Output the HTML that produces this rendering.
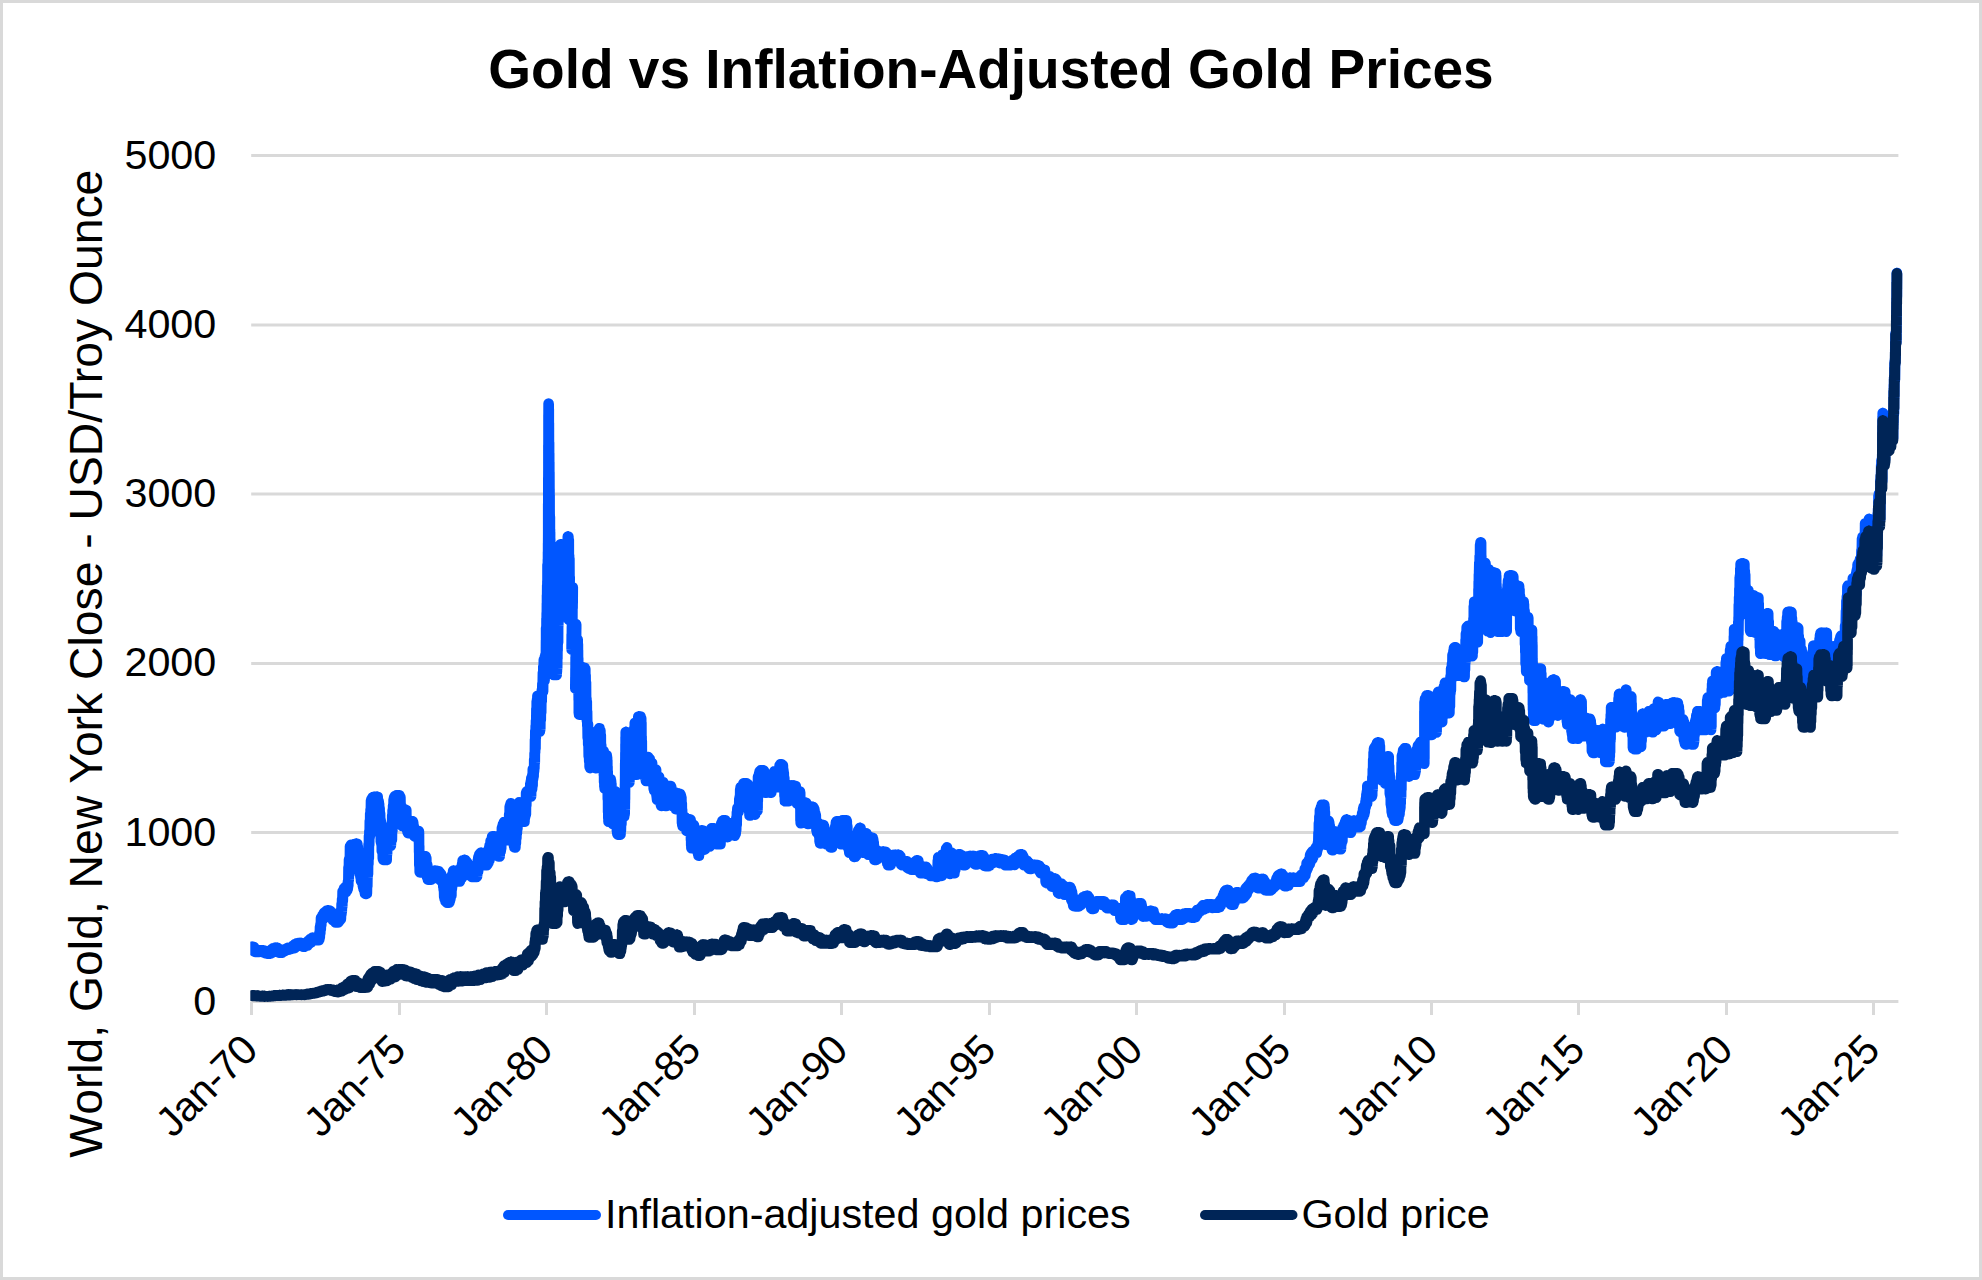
<!DOCTYPE html>
<html><head><meta charset="utf-8"><title>Gold vs Inflation-Adjusted Gold Prices</title>
<style>
html,body{margin:0;padding:0;background:#fff;}
svg{display:block;}
text{font-family:"Liberation Sans",sans-serif;fill:#000;}
</style></head><body>
<svg width="1982" height="1280" viewBox="0 0 1982 1280">
<rect x="0" y="0" width="1982" height="1280" fill="#fff"/>
<rect x="1.5" y="1.5" width="1979" height="1277" fill="none" stroke="#d9d9d9" stroke-width="3"/>
<text id="title" x="991" y="88" font-size="55" font-weight="bold" text-anchor="middle">Gold vs Inflation-Adjusted Gold Prices</text>
<g stroke="#d9d9d9" stroke-width="3" fill="none">
<line x1="251.2" y1="155.5" x2="1898.4" y2="155.5"/>
<line x1="251.2" y1="325" x2="1898.4" y2="325"/>
<line x1="251.2" y1="494" x2="1898.4" y2="494"/>
<line x1="251.2" y1="663.5" x2="1898.4" y2="663.5"/>
<line x1="251.2" y1="832.5" x2="1898.4" y2="832.5"/>
<line x1="251.2" y1="1001.5" x2="1898.4" y2="1001.5"/>
</g>
<g id="ylabels" font-size="41.3" text-anchor="end">
<text x="216.3" y="169.1">5000</text>
<text x="216.3" y="338.2">4000</text>
<text x="216.3" y="507.3">3000</text>
<text x="216.3" y="676.4">2000</text>
<text x="216.3" y="845.5">1000</text>
<text x="216.3" y="1014.6">0</text>
</g>
<text id="ytitle" font-size="46.3" text-anchor="middle" transform="translate(101.6,663.7) rotate(-90)">World, Gold, New York Close - USD/Troy Ounce</text>
<g stroke="#d9d9d9" stroke-width="3" fill="none" id="ticks">
<line x1="251.5" y1="1001.5" x2="251.5" y2="1015"/>
<line x1="399.5" y1="1001.5" x2="399.5" y2="1015"/>
<line x1="546.5" y1="1001.5" x2="546.5" y2="1015"/>
<line x1="694.5" y1="1001.5" x2="694.5" y2="1015"/>
<line x1="841.5" y1="1001.5" x2="841.5" y2="1015"/>
<line x1="989.5" y1="1001.5" x2="989.5" y2="1015"/>
<line x1="1136.5" y1="1001.5" x2="1136.5" y2="1015"/>
<line x1="1284.5" y1="1001.5" x2="1284.5" y2="1015"/>
<line x1="1431.5" y1="1001.5" x2="1431.5" y2="1015"/>
<line x1="1578.5" y1="1001.5" x2="1578.5" y2="1015"/>
<line x1="1726.5" y1="1001.5" x2="1726.5" y2="1015"/>
<line x1="1873.5" y1="1001.5" x2="1873.5" y2="1015"/>
</g>
<g id="xlabels" font-size="41.3" text-anchor="end">
<text textLength="123" transform="translate(260.0,1052) rotate(-45)">Jan-70</text>
<text textLength="123" transform="translate(408.0,1052) rotate(-45)">Jan-75</text>
<text textLength="123" transform="translate(555.0,1052) rotate(-45)">Jan-80</text>
<text textLength="123" transform="translate(703.0,1052) rotate(-45)">Jan-85</text>
<text textLength="123" transform="translate(850.0,1052) rotate(-45)">Jan-90</text>
<text textLength="123" transform="translate(998.0,1052) rotate(-45)">Jan-95</text>
<text textLength="123" transform="translate(1145.0,1052) rotate(-45)">Jan-00</text>
<text textLength="123" transform="translate(1293.0,1052) rotate(-45)">Jan-05</text>
<text textLength="123" transform="translate(1440.0,1052) rotate(-45)">Jan-10</text>
<text textLength="123" transform="translate(1587.0,1052) rotate(-45)">Jan-15</text>
<text textLength="123" transform="translate(1735.0,1052) rotate(-45)">Jan-20</text>
<text textLength="123" transform="translate(1882.0,1052) rotate(-45)">Jan-25</text>
</g>
<defs><clipPath id="plot"><rect x="250.3" y="120" width="1700" height="900"/></clipPath></defs>
<g id="series" clip-path="url(#plot)" fill="none" stroke-linejoin="round" stroke-linecap="round" stroke-width="10.6">
<path id="infl" stroke="#0056ff" d="M251.7 946.8L251.9 948.1L252.2 946.8L252.4 949.2L252.7 947.1L252.9 950.2L253.2 947.5L253.4 949.9L253.7 947.1L253.9 951.4L254.2 947.6L254.4 951.4L254.7 948.6L254.9 951.9L255.2 949.8L255.4 951.9L255.7 950.3L255.9 951.9L256.2 951.1L256.4 951.9L256.7 951.0L256.9 951.9L257.2 950.8L257.4 951.9L257.6 950.7L257.9 951.9L258.1 950.4L258.4 951.8L258.6 950.6L258.9 951.7L259.1 950.4L259.4 951.9L259.6 950.4L259.8 951.5L260.1 950.4L260.3 951.8L260.6 950.4L260.8 951.5L261.1 950.4L261.3 951.0L261.6 950.4L261.8 951.3L262.1 950.4L262.3 951.6L262.6 950.6L262.8 952.2L263.0 950.4L263.3 952.3L263.5 950.4L263.8 952.0L264.0 950.6L264.3 952.8L264.5 950.7L264.8 953.2L265.0 950.8L265.3 952.8L265.5 951.0L265.8 953.3L266.0 951.9L266.3 953.0L266.5 951.6L266.8 953.1L267.0 952.2L267.3 953.7L267.5 951.8L267.8 953.7L268.0 952.4L268.3 953.7L268.5 952.8L268.7 953.7L269.0 952.7L269.2 953.7L269.5 952.5L269.7 953.7L270.0 951.3L270.2 953.1L270.5 951.3L270.7 953.4L271.0 950.8L271.2 952.3L271.5 949.5L271.7 952.9L272.0 949.0L272.2 952.0L272.5 949.3L272.7 951.5L273.0 948.2L273.2 951.5L273.5 948.6L273.7 950.2L274.0 948.6L274.2 950.9L274.4 948.3L274.7 950.4L274.9 947.7L275.2 949.9L275.4 947.7L275.7 948.8L275.9 947.7L276.2 949.1L276.4 947.7L276.7 950.2L276.9 947.7L277.2 950.7L277.4 947.8L277.7 951.8L277.9 948.4L278.2 952.2L278.4 949.2L278.7 952.1L278.9 949.0L279.2 952.6L279.4 949.9L279.7 952.7L279.9 951.0L280.2 952.8L280.4 951.9L280.7 952.8L280.9 951.5L281.2 952.8L281.4 951.3L281.7 952.8L281.9 950.4L282.2 952.7L282.4 950.0L282.7 952.0L282.9 950.0L283.2 951.4L283.4 949.5L283.7 951.6L283.9 949.5L284.2 951.0L284.4 949.5L284.7 951.1L284.9 949.5L285.2 950.1L285.4 949.3L285.7 950.1L285.9 948.9L286.2 950.0L286.4 949.2L286.7 950.1L286.9 948.7L287.1 950.1L287.4 948.0L287.6 949.6L287.9 947.9L288.1 949.8L288.4 948.4L288.6 949.7L288.9 947.7L289.1 949.0L289.4 947.8L289.6 948.9L289.9 947.7L290.1 949.0L290.4 947.7L290.6 949.1L290.9 947.7L291.1 948.9L291.4 947.7L291.6 948.5L291.9 947.7L292.1 948.3L292.4 946.9L292.6 948.2L292.8 945.9L293.1 948.0L293.3 945.9L293.6 948.2L293.8 946.2L294.1 948.3L294.3 945.6L294.6 947.9L294.8 944.3L295.1 947.4L295.3 944.8L295.6 946.5L295.8 944.7L296.1 946.8L296.3 943.7L296.6 946.0L296.8 943.3L297.1 946.0L297.3 944.0L297.6 945.9L297.8 943.2L298.1 945.2L298.3 943.1L298.5 945.2L298.8 943.1L299.0 944.3L299.3 943.1L299.5 944.9L299.8 943.3L300.0 945.1L300.3 943.1L300.5 945.0L300.8 943.6L301.0 945.8L301.3 943.1L301.5 945.6L301.7 943.5L302.0 946.0L302.2 943.5L302.5 946.1L302.7 944.9L303.0 946.6L303.2 944.4L303.5 946.6L303.7 944.8L303.9 946.3L304.2 945.2L304.4 946.6L304.7 945.9L304.9 946.6L305.2 945.1L305.4 946.4L305.7 944.1L305.9 946.0L306.2 943.7L306.4 945.8L306.7 943.1L306.9 945.0L307.2 941.7L307.4 945.5L307.7 942.4L307.9 944.0L308.2 940.9L308.4 944.0L308.7 940.9L308.9 943.8L309.2 940.5L309.4 943.3L309.7 939.4L309.9 942.4L310.2 939.2L310.4 942.6L310.7 939.4L310.9 942.5L311.2 939.7L311.4 941.7L311.7 938.6L311.9 941.4L312.2 937.7L312.4 940.5L312.7 937.8L312.9 939.6L313.2 937.7L313.4 938.7L313.7 937.7L313.9 938.7L314.2 937.7L314.4 939.2L314.6 937.7L314.9 939.0L315.1 937.9L315.4 939.5L315.6 938.1L315.9 939.4L316.1 937.9L316.4 940.0L316.6 937.7L316.9 939.9L317.1 938.1L317.3 940.1L317.6 938.6L317.8 940.3L318.1 938.6L318.3 940.3L318.6 938.9L318.8 940.3L319.1 938.8L319.3 939.4L319.5 932.3L319.8 937.5L320.0 926.9L320.3 933.4L320.5 924.0L320.8 929.5L321.0 917.9L321.3 925.2L321.5 917.8L321.8 918.9L322.0 917.1L322.2 918.9L322.5 915.4L322.7 918.4L323.0 915.3L323.2 918.8L323.4 913.9L323.7 918.2L323.9 912.9L324.2 917.5L324.4 913.7L324.7 917.3L324.9 913.2L325.1 915.7L325.4 911.7L325.6 915.3L325.9 911.3L326.1 915.0L326.3 910.8L326.6 915.1L326.8 911.4L327.1 914.3L327.3 910.6L327.6 913.5L327.8 910.6L328.0 911.9L328.3 910.6L328.5 913.6L328.8 910.6L329.0 912.9L329.3 910.6L329.5 913.9L329.8 910.8L330.0 915.3L330.3 911.0L330.5 914.9L330.8 913.1L331.0 917.2L331.3 913.3L331.5 917.8L331.8 912.6L332.0 918.8L332.3 914.1L332.5 918.9L332.8 915.2L333.0 920.4L333.3 916.3L333.5 919.1L333.8 915.6L334.0 920.3L334.3 915.9L334.5 920.4L334.8 917.6L335.0 920.7L335.3 918.3L335.5 922.5L335.8 918.5L336.0 922.5L336.3 919.6L336.5 922.5L336.8 920.6L337.0 922.4L337.3 920.5L337.5 922.5L337.7 919.9L338.0 922.5L338.2 918.9L338.5 921.8L338.7 918.1L338.9 921.5L339.2 918.6L339.4 920.7L339.7 917.8L339.9 920.0L340.1 917.8L340.4 919.5L340.6 917.3L340.9 918.9L341.1 909.8L341.4 914.4L341.6 903.8L341.8 911.9L342.1 898.9L342.3 906.7L342.6 891.2L342.8 901.2L343.1 890.7L343.3 892.1L343.6 889.6L343.8 891.9L344.1 888.2L344.3 892.1L344.6 888.3L344.8 892.1L345.1 887.1L345.3 892.1L345.6 888.3L345.8 892.1L346.1 887.1L346.3 890.1L346.6 887.1L346.8 890.8L347.1 887.1L347.3 889.9L347.6 887.1L347.8 888.5L348.0 881.1L348.3 885.8L348.5 867.2L348.8 879.9L349.0 859.6L349.3 872.2L349.5 858.0L349.8 868.2L350.0 846.4L350.3 854.0L350.5 845.9L350.7 848.4L351.0 844.8L351.2 848.4L351.5 844.9L351.7 848.4L352.0 845.3L352.2 848.4L352.4 844.5L352.7 848.4L352.9 846.3L353.2 848.4L353.4 845.7L353.6 848.4L353.9 844.8L354.1 847.3L354.4 844.1L354.6 848.2L354.9 844.6L355.1 847.6L355.3 844.0L355.6 846.8L355.8 843.9L356.1 847.0L356.3 843.7L356.5 845.7L356.8 843.7L357.0 850.6L357.3 843.7L357.5 857.2L357.8 846.4L358.0 860.1L358.3 850.2L358.5 860.9L358.7 851.7L359.0 867.6L359.2 851.1L359.5 873.8L359.7 857.0L360.0 872.3L360.2 861.7L360.5 877.3L360.7 865.0L361.0 881.1L361.2 868.2L361.4 879.2L361.7 874.6L361.9 881.4L362.2 879.8L362.4 883.4L362.7 880.3L362.9 886.2L363.2 879.9L363.4 888.4L363.7 879.9L363.9 889.6L364.2 881.0L364.4 889.2L364.7 883.0L364.9 893.4L365.2 886.5L365.4 893.9L365.7 885.9L365.9 893.7L366.2 889.9L366.4 893.9L366.7 891.6L366.9 893.3L367.1 881.5L367.3 886.5L367.5 872.5L367.6 877.4L367.8 864.7L368.0 874.1L368.2 850.6L368.4 864.1L368.6 844.1L368.8 858.5L369.0 835.9L369.2 845.3L369.4 830.7L369.6 837.8L369.8 820.9L370.0 835.4L370.2 813.5L370.4 824.6L370.6 809.4L370.8 815.8L371.0 800.6L371.2 802.6L371.4 799.1L371.6 802.5L371.9 799.4L372.1 802.6L372.4 797.5L372.6 802.6L372.9 798.5L373.1 802.6L373.3 797.0L373.6 802.0L373.8 798.4L374.1 802.4L374.3 797.0L374.5 802.4L374.8 797.0L375.0 800.1L375.3 797.0L375.5 799.9L375.8 797.0L376.0 801.9L376.2 797.0L376.5 799.3L376.7 797.0L377.0 801.3L377.2 797.0L377.5 798.4L377.7 797.0L377.9 805.4L378.2 799.9L378.4 815.1L378.7 801.2L378.9 819.0L379.1 803.8L379.4 822.8L379.6 808.1L379.9 826.1L380.1 813.3L380.4 835.4L380.6 819.8L380.8 841.7L381.1 822.1L381.3 843.7L381.6 831.5L381.8 851.2L382.0 839.1L382.3 851.2L382.5 841.9L382.8 858.6L383.0 847.1L383.3 860.0L383.5 855.4L383.7 860.0L384.0 858.7L384.2 860.0L384.5 858.1L384.7 860.0L385.0 858.8L385.2 860.0L385.5 858.2L385.7 860.0L385.9 858.7L386.2 860.0L386.4 858.5L386.7 860.0L386.9 844.6L387.1 854.2L387.3 839.0L387.6 849.0L387.8 832.9L388.0 840.4L388.2 827.5L388.5 833.9L388.7 829.3L389.0 837.2L389.2 829.0L389.5 842.2L389.7 834.2L389.9 842.1L390.2 833.4L390.4 845.7L390.7 839.3L390.9 845.7L391.2 833.7L391.4 840.2L391.7 825.2L391.9 840.0L392.2 815.3L392.4 831.0L392.6 810.4L392.9 818.5L393.1 805.6L393.4 814.0L393.6 799.5L393.9 802.6L394.1 797.3L394.4 802.6L394.6 796.3L394.8 802.6L395.1 798.1L395.3 802.6L395.6 796.5L395.8 802.4L396.1 796.1L396.3 801.8L396.6 795.2L396.8 799.8L397.1 795.2L397.3 801.3L397.5 795.2L397.8 800.0L398.0 795.2L398.3 799.1L398.5 795.2L398.8 799.1L399.0 795.2L399.3 803.6L399.5 795.2L399.7 810.7L400.0 797.1L400.2 811.1L400.4 797.1L400.7 813.0L400.9 807.0L401.2 823.9L401.4 806.0L401.6 822.9L401.9 809.5L402.1 825.9L402.4 818.0L402.6 825.9L402.9 822.0L403.1 825.2L403.3 816.0L403.6 825.9L403.8 811.7L404.1 824.4L404.3 812.0L404.6 821.3L404.8 809.8L405.1 816.7L405.3 809.5L405.5 818.9L405.8 810.1L406.0 820.2L406.3 810.0L406.5 829.3L406.8 817.4L407.0 828.6L407.3 822.8L407.5 832.2L407.8 824.6L408.0 833.1L408.2 828.6L408.5 833.1L408.7 828.7L409.0 832.0L409.2 826.9L409.5 833.1L409.7 824.7L410.0 831.9L410.2 823.4L410.5 829.9L410.7 821.2L411.0 830.7L411.2 821.7L411.5 827.6L411.7 821.2L412.0 827.3L412.2 821.2L412.5 825.6L412.7 821.2L413.0 828.9L413.2 822.3L413.5 833.5L413.7 825.6L414.0 835.9L414.2 829.2L414.4 835.4L414.7 828.6L414.9 836.7L415.2 834.3L415.4 836.5L415.7 833.2L415.9 836.7L416.1 832.3L416.4 836.0L416.6 832.4L416.9 835.3L417.1 831.1L417.3 835.4L417.6 831.1L417.8 835.9L418.1 831.1L418.3 834.4L418.5 831.1L418.8 833.6L418.9 831.1L419.0 843.5L419.0 832.8L419.1 852.1L419.2 845.9L419.3 865.1L419.4 854.9L419.5 866.8L419.6 864.6L419.7 872.3L419.9 867.4L420.2 872.5L420.4 866.6L420.7 871.4L420.9 862.8L421.1 869.7L421.4 861.8L421.6 871.1L421.9 861.6L422.1 870.4L422.4 860.2L422.6 866.2L422.9 859.5L423.1 865.6L423.3 856.4L423.6 865.9L423.8 856.4L424.1 863.8L424.3 856.4L424.6 860.3L424.8 856.3L425.1 859.0L425.3 856.3L425.5 862.6L425.8 856.4L426.0 870.1L426.3 857.9L426.5 872.4L426.7 863.3L427.0 877.1L427.2 864.5L427.5 876.2L427.7 869.5L427.9 879.6L428.2 873.0L428.4 879.6L428.7 877.7L428.9 879.6L429.2 875.8L429.4 879.6L429.6 874.7L429.9 879.6L430.1 875.9L430.4 878.6L430.6 875.4L430.9 879.6L431.1 873.0L431.4 879.1L431.6 873.8L431.9 878.7L432.1 873.9L432.4 877.8L432.6 873.0L432.9 875.9L433.1 871.0L433.4 876.3L433.6 871.0L433.9 875.2L434.1 870.8L434.4 874.6L434.6 871.3L434.9 875.4L435.1 870.8L435.3 873.5L435.6 870.8L435.8 873.0L436.1 870.8L436.3 874.2L436.6 870.8L436.8 875.6L437.1 871.5L437.3 876.0L437.6 872.3L437.8 876.1L438.1 871.6L438.3 876.2L438.6 872.8L438.8 877.7L439.1 871.4L439.3 879.3L439.6 873.4L439.8 879.6L440.1 872.8L440.3 879.9L440.6 874.3L440.8 880.7L441.0 874.2L441.3 879.7L441.5 875.2L441.8 881.4L442.0 876.5L442.3 881.4L442.5 878.4L442.8 881.4L443.0 879.8L443.3 887.1L443.5 879.9L443.7 889.8L443.9 884.6L444.2 897.1L444.4 889.3L444.6 898.8L444.8 897.9L445.1 899.7L445.3 897.9L445.5 901.4L445.8 897.9L446.0 901.8L446.3 898.3L446.5 902.3L446.7 898.4L447.0 902.8L447.2 898.4L447.5 902.7L447.7 899.9L447.9 902.8L448.2 900.3L448.4 902.8L448.7 896.9L448.9 902.8L449.2 893.7L449.4 902.4L449.6 888.3L449.9 900.9L450.1 885.5L450.4 899.3L450.6 879.7L450.9 893.2L451.1 882.6L451.4 895.8L451.6 879.2L451.9 889.0L452.1 874.9L452.3 886.0L452.6 874.4L452.8 880.3L453.1 870.9L453.3 876.5L453.6 870.8L453.8 873.0L454.0 870.8L454.3 872.0L454.5 870.8L454.7 873.0L454.9 870.8L455.2 873.1L455.4 870.8L455.6 872.9L455.8 871.7L456.1 875.6L456.3 871.7L456.6 878.6L456.8 871.7L457.0 879.3L457.3 873.8L457.5 880.3L457.8 874.3L458.0 881.4L458.2 876.4L458.5 881.4L458.7 877.9L459.0 881.4L459.2 879.6L459.4 881.4L459.7 876.7L459.9 881.4L460.2 872.2L460.4 879.8L460.7 869.4L460.9 879.2L461.2 867.1L461.4 877.2L461.7 868.7L461.9 878.0L462.1 863.9L462.4 872.5L462.6 860.6L462.9 870.7L463.1 860.9L463.4 871.6L463.6 862.7L463.9 867.0L464.1 860.0L464.3 864.3L464.6 860.0L464.8 865.0L465.1 860.0L465.3 865.7L465.6 861.3L465.8 867.7L466.1 861.0L466.3 866.8L466.6 863.5L466.8 870.1L467.1 862.2L467.3 872.0L467.6 864.3L467.8 872.8L468.1 865.9L468.3 871.1L468.6 865.7L468.8 873.8L469.1 868.3L469.3 872.9L469.5 868.4L469.8 873.7L470.0 869.3L470.3 875.8L470.5 871.6L470.8 876.0L471.0 871.5L471.3 876.0L471.5 873.7L471.8 876.9L472.0 874.4L472.3 876.9L472.5 874.6L472.7 876.9L473.0 874.4L473.2 876.9L473.5 875.0L473.7 876.9L473.9 874.6L474.2 876.9L474.4 874.4L474.7 876.9L474.9 875.0L475.1 876.9L475.4 875.5L475.6 876.9L475.9 870.6L476.1 876.9L476.4 866.4L476.6 877.0L476.8 863.9L477.1 876.5L477.3 864.4L477.6 871.7L477.8 860.2L478.1 871.7L478.3 857.4L478.6 867.8L478.8 855.8L479.0 866.9L479.3 854.4L479.5 862.7L479.8 854.5L480.0 859.3L480.3 853.1L480.5 856.9L480.8 852.7L481.0 855.4L481.3 852.7L481.5 856.9L481.7 854.1L482.0 859.3L482.2 853.1L482.5 861.6L482.7 854.1L483.0 862.1L483.2 856.3L483.5 863.0L483.7 857.4L483.9 864.2L484.2 858.3L484.4 865.2L484.7 858.3L484.9 864.4L485.2 858.7L485.4 865.3L485.7 859.4L485.9 865.3L486.2 863.0L486.4 865.3L486.6 858.8L486.9 863.1L487.1 858.3L487.4 864.6L487.6 854.1L487.9 862.8L488.1 851.7L488.4 862.9L488.6 849.2L488.9 859.2L489.1 847.8L489.4 860.4L489.6 845.4L489.9 855.2L490.1 845.3L490.4 853.4L490.6 840.9L490.9 852.9L491.1 841.6L491.4 851.7L491.6 839.9L491.9 849.1L492.1 836.5L492.3 846.2L492.6 836.5L492.8 844.0L493.1 836.5L493.3 839.5L493.6 836.5L493.8 843.5L494.1 836.5L494.3 841.9L494.6 836.5L494.8 845.1L495.1 836.5L495.3 848.7L495.5 837.3L495.8 851.1L496.0 840.3L496.3 853.7L496.5 844.4L496.8 853.1L497.0 844.4L497.3 855.5L497.5 846.0L497.8 855.5L498.0 849.0L498.2 856.4L498.5 851.1L498.7 856.4L499.0 850.1L499.2 856.4L499.5 847.0L499.7 856.4L500.0 839.0L500.2 851.8L500.4 835.8L500.7 851.4L500.9 836.7L501.2 848.8L501.4 833.1L501.7 843.6L501.9 827.8L502.2 842.8L502.4 826.3L502.7 841.2L502.9 824.4L503.1 834.4L503.4 823.9L503.6 828.8L503.9 822.1L504.1 824.1L504.4 822.1L504.6 828.8L504.8 824.7L505.1 831.9L505.3 824.6L505.6 835.2L505.8 825.8L506.0 838.3L506.3 830.1L506.5 836.7L506.8 828.7L507.0 840.3L507.2 832.4L507.5 840.3L507.7 838.1L508.0 840.3L508.2 829.1L508.4 835.6L508.7 821.5L508.9 833.4L509.2 814.1L509.4 828.2L509.7 806.5L509.9 815.9L510.2 804.8L510.4 806.1L510.7 803.3L510.9 816.6L511.2 804.9L511.4 821.5L511.7 808.6L511.9 827.9L512.2 811.5L512.4 828.9L512.7 815.5L512.9 839.4L513.2 823.5L513.4 840.9L513.7 831.1L513.9 845.5L514.2 833.7L514.4 847.5L514.7 838.4L514.9 847.4L515.2 840.6L515.4 847.5L515.7 835.4L515.9 843.4L516.1 829.1L516.4 838.2L516.6 822.0L516.9 833.4L517.1 815.4L517.4 828.9L517.6 813.8L517.9 824.1L518.1 806.8L518.4 819.5L518.6 805.7L518.9 811.8L519.1 802.4L519.4 804.5L519.5 803.2L519.7 813.7L519.8 810.0L520.0 818.5L520.2 815.5L520.5 817.9L520.7 815.5L521.0 818.7L521.2 815.5L521.5 819.3L521.7 815.5L522.0 821.7L522.2 815.5L522.5 821.7L522.7 816.9L523.0 820.8L523.2 815.5L523.5 821.6L523.7 818.2L524.0 821.7L524.2 818.8L524.5 821.7L524.7 808.8L524.9 818.0L525.2 805.4L525.4 815.9L525.6 801.7L525.9 814.4L526.1 792.8L526.3 805.6L526.6 791.5L526.8 798.8L527.0 791.5L527.3 794.3L527.5 791.5L527.7 794.8L528.0 791.5L528.2 795.7L528.4 791.5L528.7 796.4L528.9 791.5L529.1 796.4L529.4 792.5L529.6 796.4L529.8 792.2L530.1 796.4L530.3 783.7L530.6 796.3L530.8 781.2L531.1 796.4L531.3 778.0L531.6 790.5L531.8 777.5L532.1 789.1L532.3 775.1L532.6 785.7L532.8 769.0L533.1 779.1L533.3 769.0L533.6 776.6L533.8 769.0L534.1 771.0L534.2 759.3L534.4 768.5L534.6 753.1L534.8 762.7L535.0 739.6L535.1 752.6L535.3 730.8L535.5 748.7L535.7 725.9L535.8 738.1L536.0 720.6L536.2 728.6L536.4 708.5L536.6 721.6L536.7 701.4L536.9 714.6L537.1 699.1L537.3 707.3L537.4 695.9L537.7 709.8L537.9 695.9L538.1 716.7L538.3 701.8L538.6 721.8L538.8 703.5L539.0 731.7L539.2 714.0L539.5 731.7L539.7 727.8L539.9 731.5L540.1 715.3L540.3 729.4L540.6 702.3L540.8 720.0L541.0 696.2L541.2 712.6L541.4 696.1L541.7 701.5L541.9 689.6L542.1 693.2L542.4 683.4L542.6 689.3L542.9 672.5L543.1 691.5L543.3 666.6L543.6 681.7L543.8 659.7L544.1 681.4L544.3 663.0L544.6 680.5L544.8 657.1L545.0 667.3L545.3 655.2L545.5 665.2L545.8 653.8L545.9 657.2L546.0 640.4L546.1 651.3L546.1 627.9L546.2 650.7L546.3 627.2L546.4 644.3L546.5 618.5L546.6 627.5L546.7 612.7L546.8 619.3L546.9 603.2L547.0 610.4L547.0 595.3L547.1 602.0L547.2 585.4L547.3 595.7L547.4 580.9L547.5 598.8L547.5 564.7L547.6 590.2L547.7 567.1L547.8 583.3L547.9 559.3L548.0 566.6L548.0 552.1L548.1 554.1L548.1 543.2L548.1 554.1L548.2 533.5L548.2 545.8L548.2 524.2L548.2 542.1L548.2 516.1L548.2 528.1L548.2 503.8L548.2 521.5L548.3 496.5L548.3 517.1L548.3 496.4L548.3 511.7L548.3 482.3L548.3 505.4L548.3 477.4L548.3 497.1L548.4 469.7L548.4 488.4L548.4 459.6L548.4 486.1L548.4 453.5L548.4 470.5L548.4 445.2L548.4 462.7L548.5 437.5L548.5 459.9L548.5 426.0L548.5 443.9L548.5 423.4L548.5 433.3L548.5 414.7L548.5 427.6L548.6 403.5L548.6 421.4L548.6 403.5L548.6 407.8L548.6 403.5L548.7 421.1L548.7 404.1L548.8 427.6L548.8 408.9L548.8 444.1L548.9 422.9L548.9 448.1L548.9 426.4L549.0 463.3L549.0 444.1L549.1 461.2L549.1 442.6L549.1 470.3L549.2 453.3L549.2 484.4L549.3 462.0L549.3 487.1L549.3 468.4L549.4 496.1L549.4 472.1L549.5 505.1L549.5 488.7L549.5 508.7L549.6 494.9L549.6 515.8L549.6 507.9L549.7 523.0L549.7 514.6L549.8 532.8L549.9 516.8L549.9 545.0L550.0 529.2L550.0 551.7L550.1 532.3L550.1 556.2L550.2 538.8L550.2 560.8L550.3 545.8L550.3 575.2L550.4 559.4L550.5 582.4L550.5 563.3L550.6 586.5L550.6 570.5L550.7 594.8L550.7 580.7L550.8 594.8L550.9 579.9L551.0 594.2L551.1 569.8L551.2 592.3L551.3 562.3L551.4 581.2L551.5 556.3L551.6 573.9L551.7 545.9L551.8 563.0L551.9 545.9L552.0 553.0L552.1 545.9L552.1 563.2L552.2 552.0L552.2 574.1L552.3 556.9L552.3 582.0L552.4 561.8L552.4 587.2L552.5 576.3L552.5 600.6L552.6 579.5L552.6 602.9L552.7 589.9L552.7 608.5L552.8 592.8L552.8 621.5L552.9 600.4L552.9 630.2L553.0 609.2L553.0 635.3L553.1 622.0L553.1 646.6L553.2 634.0L553.2 655.5L553.3 633.9L553.3 657.1L553.3 649.9L553.4 668.1L553.4 654.3L553.5 669.5L553.5 663.5L553.6 674.9L553.7 666.6L553.8 674.9L554.0 653.2L554.1 670.3L554.2 651.1L554.3 664.0L554.4 637.8L554.6 651.5L554.7 633.1L554.8 649.2L554.9 624.0L555.0 639.9L555.2 624.0L555.3 633.4L555.4 627.3L555.5 645.7L555.6 632.9L555.8 650.1L555.9 635.9L556.0 663.3L556.1 646.3L556.2 664.3L556.4 650.4L556.5 674.9L556.6 664.6L556.7 674.9L556.8 665.4L556.9 672.0L557.1 656.2L557.2 668.4L557.3 647.7L557.4 658.6L557.5 640.0L557.6 650.7L557.7 629.5L557.8 641.7L557.9 624.9L558.1 642.6L558.2 613.8L558.3 625.9L558.4 609.3L558.5 622.3L558.6 601.0L558.7 613.5L558.8 597.9L559.0 607.3L559.1 589.5L559.2 594.8L559.4 581.3L559.5 593.6L559.6 564.1L559.8 587.2L559.9 561.7L560.1 577.1L560.2 553.3L560.4 566.1L560.5 544.3L560.6 560.5L560.8 544.3L560.9 547.7L561.2 544.3L561.4 564.3L561.6 548.6L561.8 565.2L562.1 548.6L562.3 576.4L562.5 561.2L562.7 579.1L563.0 577.1L563.2 587.9L563.4 577.6L563.6 599.2L563.9 583.4L564.1 599.2L564.3 587.8L564.5 605.4L564.8 592.3L565.0 605.4L565.1 594.9L565.3 605.4L565.4 586.7L565.6 597.0L565.7 568.4L565.9 591.5L566.0 561.5L566.1 581.0L566.3 561.5L566.4 573.3L566.6 558.5L566.8 563.5L567.0 543.5L567.2 563.5L567.4 542.2L567.6 557.7L567.8 536.5L568.0 543.1L568.1 536.5L568.3 555.2L568.4 536.5L568.6 562.1L568.8 539.7L568.9 573.5L569.1 555.3L569.2 571.7L569.4 558.6L569.5 579.1L569.7 577.1L569.6 589.4L569.5 577.1L569.4 600.4L569.3 580.0L569.3 603.1L569.2 585.2L569.1 609.1L569.0 596.8L568.9 619.8L568.8 606.5L568.8 619.8L569.0 607.3L569.2 619.8L569.5 607.6L569.7 619.2L569.9 599.5L570.2 619.8L570.4 597.7L570.7 615.0L570.9 594.7L571.1 609.9L571.4 590.6L571.6 609.0L571.9 587.3L572.1 608.0L572.3 588.5L572.6 600.0L572.8 587.3L572.7 603.1L572.7 591.2L572.6 608.2L572.5 592.9L572.4 621.5L572.3 599.5L572.3 626.5L572.2 613.0L572.1 632.4L572.0 618.4L572.0 640.0L571.9 626.5L571.8 648.5L571.7 634.3L571.6 649.4L571.6 644.3L571.8 649.4L572.1 639.5L572.3 649.4L572.5 635.8L572.8 649.4L573.0 632.6L573.3 644.0L573.5 631.5L573.8 644.1L574.0 625.6L574.3 638.2L574.5 625.4L574.8 641.9L575.0 624.0L575.3 633.3L575.5 624.0L575.8 632.6L576.0 624.0L576.2 629.2L576.2 624.6L576.1 640.1L576.1 624.7L576.0 652.3L576.0 632.9L575.9 659.1L575.8 639.0L575.8 663.0L575.7 648.0L575.7 677.2L575.6 657.3L575.5 684.8L575.5 668.5L575.4 684.2L575.4 677.2L575.3 688.5L575.5 676.9L575.7 685.5L575.9 665.7L576.1 683.6L576.3 664.1L576.5 674.3L576.7 654.3L576.9 669.6L577.1 646.9L577.3 660.6L577.5 640.9L577.7 645.2L577.7 639.6L577.8 653.3L577.9 644.0L578.0 664.3L578.0 650.3L578.1 669.3L578.2 658.1L578.3 679.7L578.3 665.3L578.4 684.1L578.5 667.9L578.6 694.4L578.6 684.7L578.7 700.2L578.8 688.6L578.8 713.1L578.9 700.0L579.0 714.5L579.1 712.6L579.3 714.8L579.6 703.3L579.8 713.3L580.1 702.4L580.3 709.9L580.5 691.7L580.8 710.2L581.0 692.0L581.3 703.3L581.5 686.7L581.8 697.2L582.0 681.9L582.3 693.3L582.5 680.6L582.7 694.0L583.0 671.4L583.2 688.1L583.5 667.9L583.7 683.8L584.0 667.8L584.2 675.2L584.5 667.8L584.7 671.8L584.9 668.9L585.1 685.5L585.3 668.7L585.4 690.9L585.6 675.0L585.8 699.4L586.0 682.2L586.2 709.6L586.4 698.2L586.6 715.1L586.8 701.6L586.9 720.9L587.1 711.4L587.3 726.0L587.5 724.0L587.7 737.9L588.0 724.0L588.2 744.6L588.4 734.5L588.7 756.4L588.9 736.6L589.2 761.1L589.4 742.7L589.6 767.0L589.9 755.9L590.1 768.2L590.3 764.6L590.6 767.6L590.8 754.2L591.0 766.1L591.3 753.0L591.5 763.6L591.8 740.6L592.0 761.1L592.3 740.2L592.5 753.8L592.7 736.9L593.0 752.3L593.2 733.7L593.5 743.2L593.7 732.5L593.9 745.5L594.1 732.5L594.3 753.2L594.4 738.3L594.6 761.0L594.8 747.5L595.0 764.7L595.2 755.2L595.4 768.2L595.6 757.4L595.9 768.2L596.1 750.8L596.4 766.5L596.6 747.6L596.9 759.8L597.1 743.1L597.4 755.9L597.6 735.6L597.8 753.2L598.1 734.9L598.3 748.5L598.6 729.3L598.8 741.6L599.1 728.3L599.3 732.6L599.5 728.3L599.8 732.6L600.0 730.6L600.2 740.7L600.4 730.6L600.6 753.3L600.8 735.1L601.0 758.0L601.2 744.7L601.5 767.2L601.7 758.5L601.9 768.5L602.1 758.7L602.3 767.2L602.5 753.7L602.8 766.5L603.0 752.7L603.2 759.8L603.4 750.9L603.6 762.0L603.7 750.9L603.9 775.1L604.0 758.0L604.1 782.2L604.3 767.0L604.4 786.8L604.5 775.9L604.7 788.8L604.9 776.4L605.2 787.2L605.4 767.3L605.6 786.1L605.9 762.8L606.1 779.1L606.3 759.1L606.6 769.9L606.8 755.6L607.0 758.3L607.1 757.5L607.2 769.7L607.3 760.2L607.4 781.5L607.5 766.4L607.6 788.2L607.7 771.2L607.8 799.3L607.9 781.8L608.0 800.5L608.0 788.5L608.1 812.2L608.2 799.2L608.3 818.2L608.4 810.0L608.5 821.6L608.6 817.2L608.8 821.6L609.0 807.6L609.2 815.9L609.4 793.5L609.7 811.8L609.9 790.4L610.1 803.5L610.3 783.4L610.5 792.2L610.7 779.0L610.9 782.8L611.1 781.0L611.2 793.4L611.4 783.6L611.5 803.7L611.6 787.6L611.8 813.4L611.9 799.2L612.1 820.5L612.2 808.1L612.4 822.2L612.5 821.5L612.7 824.0L613.0 812.2L613.2 822.0L613.5 806.0L613.7 820.9L613.9 797.6L614.2 811.2L614.4 799.0L614.7 806.9L614.9 793.8L615.1 803.9L615.4 791.5L615.6 793.0L615.8 792.5L615.9 807.6L616.1 794.2L616.2 819.6L616.4 801.2L616.6 826.5L616.7 810.4L616.9 830.9L617.0 825.2L617.2 833.4L617.4 830.6L617.7 834.6L617.9 830.7L618.1 834.6L618.4 830.6L618.6 834.1L618.8 831.0L619.1 834.6L619.3 831.1L619.5 834.6L619.8 830.7L620.0 834.6L620.2 825.5L620.5 834.6L620.7 822.7L620.9 830.6L621.2 816.0L621.4 824.3L621.6 814.9L621.9 816.9L622.1 813.4L622.3 816.9L622.6 812.4L622.8 816.9L623.0 813.0L623.3 816.3L623.5 812.5L623.8 816.2L624.0 811.8L624.2 816.5L624.5 811.8L624.7 813.8L624.7 805.9L624.8 809.9L624.9 796.8L624.9 802.9L625.0 784.1L625.0 799.4L625.1 779.3L625.1 787.5L625.2 763.2L625.2 777.3L625.3 760.0L625.3 776.0L625.4 752.5L625.5 761.5L625.5 744.0L625.6 759.1L625.6 737.0L625.7 743.5L625.7 732.1L625.8 736.2L626.0 732.1L626.2 742.6L626.5 732.1L626.7 742.6L626.9 736.5L627.1 746.6L627.4 735.9L627.6 746.6L627.8 744.6L628.0 753.9L628.2 745.5L628.3 762.5L628.5 750.3L628.7 771.3L628.9 761.6L629.0 777.6L629.2 769.2L629.4 782.4L629.6 769.2L629.8 776.9L629.9 764.2L630.1 773.6L630.3 753.2L630.5 763.8L630.7 744.3L630.9 759.1L631.1 741.5L631.2 746.3L631.4 742.7L631.6 754.3L631.8 746.9L632.0 765.2L632.2 749.7L632.4 774.8L632.6 764.8L632.8 774.8L633.0 763.9L633.2 770.3L633.4 753.0L633.5 768.2L633.7 746.2L633.9 759.9L634.1 735.6L634.3 754.7L634.4 727.5L634.6 738.4L634.8 722.8L635.0 736.2L635.2 722.8L635.3 732.1L635.4 724.8L635.5 742.9L635.6 734.5L635.8 751.7L635.9 740.0L636.0 761.6L636.1 747.5L636.2 767.6L636.4 753.5L636.5 770.9L636.6 761.9L636.7 774.8L636.8 765.6L637.0 771.8L637.1 758.4L637.2 766.6L637.3 750.0L637.5 759.3L637.6 740.6L637.7 752.5L637.8 736.5L638.0 742.9L638.1 722.0L638.2 737.3L638.3 716.5L638.5 725.3L638.6 716.5L638.8 720.1L639.1 716.5L639.3 719.8L639.5 716.5L639.8 720.1L640.0 716.7L640.2 720.1L640.5 716.5L640.7 720.1L640.9 718.1L641.0 728.7L641.2 718.1L641.3 741.0L641.4 722.5L641.5 746.8L641.6 736.4L641.7 752.2L641.8 741.0L641.9 758.7L642.1 752.5L642.2 770.5L642.3 760.2L642.4 774.8L642.5 771.0L642.7 774.8L643.0 765.9L643.2 773.1L643.4 763.8L643.6 772.7L643.9 760.1L644.1 768.9L644.3 758.8L644.5 761.0L644.8 757.1L645.0 771.2L645.2 762.3L645.5 775.5L645.7 766.6L645.9 781.0L646.2 770.5L646.4 781.0L646.6 774.8L646.9 781.0L647.0 772.0L647.1 781.0L647.3 765.8L647.4 771.7L647.5 757.5L647.7 762.3L647.9 757.9L648.1 763.6L648.4 757.1L648.6 763.8L648.9 757.9L649.1 763.8L649.3 759.9L649.6 763.8L649.8 759.3L650.1 763.8L650.3 762.1L650.5 767.6L650.8 762.8L651.0 767.5L651.2 762.7L651.4 767.7L651.7 763.9L651.9 767.7L652.1 762.9L652.3 768.3L652.6 766.9L652.8 779.7L653.0 769.5L653.2 784.7L653.5 773.3L653.7 788.9L653.9 787.7L654.1 790.4L654.4 780.5L654.6 787.5L654.8 778.2L655.0 785.9L655.3 769.9L655.5 780.9L655.7 769.6L655.9 773.2L656.1 769.6L656.2 783.1L656.3 776.3L656.5 795.8L656.6 781.0L656.8 798.0L656.9 792.2L657.0 799.8L657.3 794.1L657.5 797.9L657.7 783.8L657.9 799.2L658.2 779.0L658.4 790.2L658.6 777.4L658.8 786.8L659.1 776.7L659.3 788.2L659.5 779.9L659.8 797.9L660.0 784.8L660.3 800.0L660.5 787.5L660.8 804.7L661.0 796.9L661.2 806.0L661.5 796.1L661.7 804.6L661.9 785.9L662.1 794.6L662.3 782.1L662.5 786.8L662.7 782.1L663.0 792.0L663.2 782.1L663.5 796.6L663.7 785.7L663.9 803.1L664.2 790.2L664.4 801.5L664.7 794.1L664.9 806.0L665.1 798.0L665.4 806.0L665.6 802.4L665.9 806.0L666.1 795.5L666.3 806.0L666.6 790.7L666.8 801.0L667.0 789.4L667.3 798.7L667.5 788.1L667.7 793.1L668.0 786.0L668.2 788.0L668.4 786.2L668.7 788.0L668.9 786.0L669.1 788.0L669.4 786.0L669.6 788.0L669.8 786.0L670.1 788.0L670.3 786.0L670.5 792.7L670.8 786.0L671.0 800.0L671.2 786.7L671.5 801.1L671.7 796.3L672.0 804.5L672.2 801.8L672.4 806.0L672.6 799.2L672.9 805.8L673.1 794.3L673.3 804.3L673.5 792.3L673.8 799.0L674.0 792.3L674.2 794.4L674.5 792.3L674.7 801.8L674.9 792.3L675.2 806.1L675.4 800.1L675.6 809.1L675.9 802.2L676.1 809.1L676.3 804.2L676.5 809.1L676.8 797.7L677.0 809.1L677.2 795.2L677.4 806.0L677.7 793.8L677.9 799.5L678.1 793.8L678.4 799.0L678.6 793.8L678.8 797.5L679.1 793.8L679.3 799.0L679.6 793.8L679.8 799.0L680.0 794.0L680.3 799.0L680.5 794.7L680.8 799.0L681.0 796.0L681.2 801.1L681.4 797.4L681.6 813.2L681.8 803.2L682.0 823.1L682.1 809.6L682.3 825.2L682.5 823.1L682.7 826.3L683.0 822.7L683.2 826.3L683.5 821.0L683.7 825.1L683.9 817.4L684.2 822.9L684.4 817.3L684.7 823.1L684.9 817.3L685.2 820.6L685.4 817.7L685.6 827.2L685.8 819.9L686.0 828.3L686.3 822.6L686.5 831.0L686.7 828.1L687.0 831.0L687.2 826.7L687.5 831.0L687.7 824.4L687.9 828.8L688.2 822.1L688.4 830.7L688.7 820.9L688.9 828.2L689.2 821.0L689.4 827.4L689.6 819.6L689.9 824.5L690.1 819.7L690.4 823.6L690.6 819.6L690.7 831.0L690.8 822.9L691.0 840.2L691.1 830.2L691.2 845.5L691.3 838.1L691.4 848.2L691.6 843.1L691.9 848.2L692.1 835.7L692.3 846.2L692.6 832.6L692.8 842.8L693.0 828.4L693.3 833.4L693.5 825.1L693.8 828.4L694.0 825.1L694.2 836.5L694.4 831.6L694.6 846.4L694.9 838.9L695.1 848.7L695.3 846.8L695.6 848.6L695.8 837.8L696.1 845.5L696.3 834.5L696.6 837.2L696.8 835.4L697.0 847.0L697.3 837.7L697.5 852.0L697.8 841.3L698.0 853.7L698.3 843.6L698.5 855.6L698.8 853.1L699.0 855.6L699.2 841.2L699.4 849.1L699.6 832.1L699.8 841.4L700.0 831.0L700.2 834.1L700.5 831.2L700.7 834.1L701.0 830.6L701.2 834.1L701.4 830.6L701.7 834.1L701.9 830.6L702.2 833.5L702.4 830.9L702.6 834.1L702.9 830.6L703.1 832.1L703.4 830.6L703.6 843.3L703.9 836.0L704.1 849.6L704.4 846.8L704.6 849.3L704.9 844.5L705.1 848.1L705.4 841.7L705.6 848.8L705.8 839.1L706.1 845.6L706.3 837.3L706.6 842.1L706.8 834.6L707.1 842.8L707.3 834.7L707.6 840.9L707.8 834.5L708.0 839.4L708.3 834.5L708.5 841.9L708.7 838.6L708.9 846.6L709.2 840.1L709.4 846.4L709.6 838.7L709.8 846.5L710.1 834.4L710.3 843.4L710.5 833.1L710.8 838.2L711.0 829.8L711.2 831.8L711.5 828.2L711.7 831.8L712.0 828.2L712.2 831.3L712.4 828.2L712.7 831.5L712.9 828.2L713.1 831.8L713.4 828.2L713.6 830.2L713.8 828.2L714.1 830.8L714.3 828.5L714.5 836.3L714.8 829.5L715.0 837.4L715.2 831.7L715.5 842.8L715.7 833.0L715.9 844.3L716.2 839.3L716.4 844.3L716.6 838.1L716.9 844.3L717.1 835.4L717.3 841.4L717.5 833.6L717.7 837.8L718.0 831.3L718.2 838.1L718.4 831.3L718.7 841.6L718.9 833.6L719.1 840.3L719.4 835.2L719.6 844.2L719.8 838.1L720.1 844.3L720.3 841.8L720.5 844.3L720.6 831.1L720.8 837.9L720.9 825.2L721.1 827.0L721.3 823.1L721.6 827.1L721.8 822.5L722.1 826.5L722.3 821.0L722.6 827.0L722.8 822.1L723.0 827.1L723.3 820.4L723.5 827.1L723.8 820.8L724.0 826.3L724.3 820.4L724.5 824.3L724.8 820.6L725.0 822.8L725.2 820.4L725.5 829.5L725.7 820.7L725.9 831.1L726.2 822.2L726.4 832.6L726.6 825.9L726.9 836.8L727.1 832.0L727.3 837.2L727.6 832.2L727.8 836.4L728.0 828.7L728.3 833.7L728.5 826.6L728.8 831.9L729.0 824.0L729.2 831.9L729.5 823.5L729.7 825.5L729.9 823.5L730.2 826.4L730.4 823.5L730.6 826.8L730.9 823.5L731.1 826.9L731.4 823.5L731.6 827.9L731.9 823.5L732.1 827.8L732.3 823.6L732.6 827.9L732.8 825.9L733.0 830.2L733.3 825.9L733.5 833.2L733.7 826.0L733.9 833.8L734.2 829.2L734.4 835.7L734.6 829.6L734.8 835.7L735.0 828.2L735.3 833.5L735.5 828.2L735.7 833.8L735.9 828.1L736.2 830.2L736.4 817.5L736.7 824.8L736.9 812.2L737.2 812.2L737.4 808.0L737.7 812.2L737.9 808.8L738.1 811.7L738.4 807.1L738.6 811.4L738.8 807.1L739.1 809.1L739.3 798.8L739.5 807.3L739.7 796.9L740.0 804.0L740.2 789.2L740.4 794.4L740.6 787.2L740.9 791.2L741.1 786.9L741.3 791.2L741.6 786.8L741.8 791.2L742.0 786.8L742.3 791.0L742.5 787.7L742.7 791.2L743.0 785.4L743.2 788.8L743.4 783.5L743.7 788.6L743.9 783.4L744.2 788.7L744.4 783.6L744.7 788.4L744.9 783.4L745.1 788.8L745.4 783.4L745.6 786.7L745.9 783.4L746.1 787.8L746.3 783.5L746.6 789.3L746.8 783.4L747.0 789.3L747.3 784.7L747.5 790.4L747.7 784.0L748.0 790.4L748.2 785.3L748.4 793.2L748.6 788.4L748.8 804.1L749.0 790.9L749.2 812.0L749.3 797.8L749.5 815.4L749.7 812.3L749.9 815.4L750.2 803.8L750.4 815.4L750.7 798.4L750.9 809.0L751.1 798.1L751.4 805.8L751.6 795.1L751.9 805.8L752.1 794.6L752.3 797.8L752.6 795.4L752.8 803.8L753.0 795.6L753.3 809.8L753.5 798.8L753.8 814.4L754.0 803.3L754.2 814.2L754.5 809.5L754.7 814.6L754.9 807.8L755.1 814.6L755.4 797.6L755.6 809.3L755.8 793.8L756.0 804.4L756.2 793.8L756.5 800.4L756.8 797.6L757.0 807.2L757.2 800.0L757.5 810.7L757.6 799.5L757.6 808.0L757.7 791.6L757.8 801.2L757.8 785.0L757.9 795.1L758.0 776.7L758.1 786.7L758.1 776.8L758.4 778.7L758.6 775.5L758.9 778.7L759.1 773.4L759.4 778.3L759.6 771.4L759.8 778.7L760.1 772.4L760.3 777.0L760.6 770.4L760.8 775.0L761.1 771.2L761.3 777.3L761.6 770.4L761.8 775.0L762.1 770.4L762.3 774.0L762.5 770.4L762.8 773.6L763.0 770.4L763.3 771.2L763.5 770.4L763.8 780.0L764.0 770.8L764.2 785.0L764.5 777.2L764.7 790.6L764.9 778.5L765.2 792.7L765.4 782.8L765.6 792.7L765.9 785.8L766.1 792.7L766.3 780.2L766.6 789.4L766.8 780.0L767.0 788.1L767.3 775.8L767.5 784.6L767.7 775.1L768.0 777.9L768.2 775.1L768.4 781.1L768.7 775.1L768.9 785.1L769.2 779.1L769.4 787.1L769.7 780.7L769.9 792.7L770.1 784.1L770.4 792.7L770.6 782.5L770.9 792.7L771.1 789.7L771.3 792.7L771.5 780.2L771.8 789.1L772.0 778.3L772.2 787.4L772.4 775.1L772.7 777.1L772.9 773.9L773.1 777.1L773.4 772.9L773.6 777.1L773.9 772.0L774.1 777.1L774.4 771.3L774.6 777.1L774.9 771.2L775.1 775.3L775.3 771.2L775.6 775.4L775.8 771.2L776.1 776.3L776.3 771.2L776.6 773.8L776.8 771.2L777.0 780.4L777.2 772.9L777.5 783.0L777.7 775.6L777.9 787.2L778.1 784.2L778.4 787.2L778.6 777.2L778.8 787.2L779.1 771.4L779.3 784.4L779.6 765.4L779.8 780.4L780.1 767.1L780.3 773.4L780.5 764.2L780.8 767.5L781.0 764.2L781.2 768.6L781.5 764.2L781.7 770.0L782.0 764.8L782.2 772.9L782.4 765.7L782.7 774.8L782.9 765.3L783.1 774.8L783.4 770.4L783.6 776.9L783.8 772.8L784.0 787.4L784.3 777.7L784.5 796.2L784.7 787.6L784.9 801.3L785.2 799.3L785.4 801.3L785.6 799.3L785.9 801.3L786.1 799.3L786.4 801.3L786.6 799.3L786.8 801.3L787.1 799.3L787.3 801.3L787.6 799.3L787.8 801.3L788.0 799.3L788.3 801.3L788.5 792.9L788.7 799.3L789.0 787.6L789.2 797.3L789.4 786.8L789.6 794.5L789.8 786.0L790.1 788.8L790.3 786.0L790.6 788.8L790.8 786.0L791.1 788.8L791.3 786.0L791.6 788.8L791.8 786.0L792.1 788.8L792.3 786.0L792.6 788.5L792.8 786.0L793.1 788.8L793.3 786.0L793.6 788.8L793.8 786.0L794.1 788.8L794.3 786.0L794.6 788.8L794.8 786.0L795.1 788.0L795.3 786.0L795.5 791.8L795.8 786.0L796.0 796.0L796.2 790.6L796.5 802.5L796.7 793.8L797.0 803.7L797.2 797.3L797.4 803.7L797.7 801.4L797.9 803.7L798.1 798.6L798.4 803.5L798.6 794.4L798.8 802.2L799.1 793.1L799.3 799.1L799.5 791.5L799.8 795.4L800.0 791.5L800.1 802.0L800.2 792.6L800.3 808.6L800.4 799.5L800.5 820.8L800.6 807.3L800.7 823.2L800.8 818.7L801.0 823.2L801.3 812.8L801.5 822.3L801.8 810.7L802.0 823.0L802.2 808.2L802.5 819.0L802.7 804.6L803.0 817.6L803.2 803.9L803.5 817.0L803.7 805.3L804.0 811.0L804.2 802.4L804.4 809.2L804.7 802.4L804.9 807.3L805.2 803.3L805.4 811.3L805.7 803.9L805.9 815.0L806.2 802.8L806.4 816.2L806.6 807.7L806.9 817.6L807.1 810.4L807.4 824.0L807.6 810.7L807.9 824.0L808.1 814.2L808.3 824.0L808.6 820.3L808.8 822.6L809.1 814.7L809.3 821.1L809.5 811.4L809.8 819.2L810.0 810.0L810.2 815.9L810.5 807.7L810.7 813.6L810.9 807.1L811.2 810.6L811.4 807.1L811.7 813.3L811.9 807.1L812.2 811.8L812.4 807.2L812.6 814.6L812.9 807.1L813.1 812.7L813.4 807.1L813.6 814.6L813.9 808.0L814.1 814.6L814.4 809.6L814.6 813.8L814.8 812.6L815.1 818.4L815.3 813.2L815.5 825.1L815.8 815.1L816.0 825.3L816.2 819.4L816.5 830.7L816.7 824.3L817.0 832.6L817.2 829.2L817.4 832.6L817.6 827.4L817.9 831.5L818.1 824.0L818.3 830.7L818.5 823.5L818.8 826.1L819.0 824.5L819.2 836.6L819.4 829.1L819.6 841.7L819.9 830.9L820.1 843.5L820.3 840.1L820.5 843.5L820.8 835.6L821.0 842.7L821.2 831.6L821.5 837.2L821.7 828.6L822.0 835.2L822.2 825.1L822.4 831.0L822.7 825.1L822.9 831.8L823.1 825.7L823.4 835.5L823.6 825.1L823.9 836.9L824.1 826.2L824.4 839.6L824.6 829.1L824.9 838.9L825.1 830.6L825.3 840.8L825.6 833.7L825.8 843.0L826.1 839.0L826.3 844.3L826.6 841.3L826.8 844.3L827.0 840.1L827.3 843.4L827.5 836.9L827.7 842.7L828.0 835.4L828.2 840.2L828.4 832.9L828.7 836.9L828.9 832.9L829.1 837.1L829.4 832.9L829.6 842.5L829.8 834.0L830.1 844.4L830.3 838.3L830.5 847.4L830.8 839.5L831.0 847.4L831.2 846.2L831.5 847.4L831.7 843.4L832.0 847.4L832.2 842.9L832.5 846.1L832.7 840.9L832.9 844.2L833.2 839.4L833.4 843.5L833.7 836.8L833.9 841.8L834.1 836.8L834.4 838.8L834.6 832.1L834.8 838.8L835.0 827.4L835.3 834.5L835.5 825.3L835.7 830.7L835.9 822.4L836.2 825.5L836.4 821.5L836.7 825.5L836.9 821.2L837.1 825.5L837.4 822.4L837.6 825.0L837.9 821.2L838.1 824.9L838.3 821.2L838.6 824.6L838.8 821.2L839.1 823.0L839.3 821.2L839.5 834.7L839.7 822.9L840.0 842.4L840.2 833.5L840.4 842.7L840.6 842.0L840.8 844.3L841.1 832.3L841.3 841.8L841.5 823.5L841.7 834.3L842.0 822.0L842.2 824.0L842.4 820.4L842.7 824.0L842.9 821.6L843.2 824.0L843.4 820.9L843.7 823.9L843.9 820.4L844.1 824.0L844.4 820.9L844.6 823.5L844.9 820.4L845.1 824.0L845.4 820.4L845.6 823.4L845.8 820.4L846.1 823.3L846.3 820.4L846.6 834.8L846.8 821.1L847.0 841.1L847.3 826.0L847.5 840.4L847.7 831.9L848.0 847.4L848.2 839.8L848.4 847.5L848.7 845.4L848.9 850.4L849.1 846.6L849.3 852.8L849.6 847.9L849.8 852.8L850.0 850.7L850.2 852.8L850.5 848.2L850.7 851.0L851.0 845.3L851.2 850.4L851.5 842.7L851.7 849.4L852.0 838.9L852.2 846.3L852.4 838.3L852.7 841.5L852.9 839.3L853.1 848.6L853.4 842.7L853.6 853.5L853.8 844.4L854.0 857.0L854.3 849.2L854.5 856.9L854.7 852.5L855.0 856.8L855.2 847.8L855.5 856.5L855.7 844.9L856.0 856.1L856.2 841.2L856.5 853.7L856.7 840.0L856.9 852.1L857.2 835.0L857.4 848.8L857.7 837.1L857.9 847.7L858.2 830.3L858.4 844.6L858.7 830.6L858.9 839.6L859.1 830.9L859.4 838.4L859.6 828.0L859.9 831.2L860.1 828.1L860.4 837.6L860.6 828.0L860.9 841.9L861.1 832.3L861.4 845.7L861.6 836.5L861.8 849.4L862.1 840.9L862.3 852.8L862.6 851.0L862.8 852.8L863.1 847.8L863.3 852.6L863.5 841.4L863.8 852.8L864.0 842.2L864.3 848.5L864.5 835.5L864.7 847.9L865.0 835.3L865.2 844.7L865.4 833.4L865.7 840.3L865.9 833.4L866.2 835.8L866.4 833.5L866.7 844.3L866.9 834.9L867.1 845.0L867.4 835.3L867.6 849.2L867.9 839.8L868.1 854.6L868.4 845.0L868.6 854.6L868.9 852.8L869.1 854.6L869.3 848.7L869.6 854.6L869.8 845.2L870.1 854.6L870.3 842.8L870.5 851.5L870.8 841.3L871.0 851.8L871.3 842.0L871.5 846.4L871.7 839.8L872.0 843.1L872.2 837.9L872.5 839.7L872.7 837.9L872.9 846.9L873.2 839.3L873.4 851.6L873.7 842.1L873.9 854.7L874.2 846.2L874.4 860.0L874.7 849.1L874.9 859.2L875.1 857.5L875.4 860.0L875.6 856.5L875.9 860.0L876.1 854.5L876.4 859.4L876.6 854.6L876.9 858.5L877.1 853.5L877.4 857.3L877.6 852.8L877.9 858.9L878.1 852.8L878.4 856.6L878.6 851.8L878.9 855.1L879.1 851.8L879.4 855.0L879.6 851.8L879.9 854.2L880.1 851.8L880.4 854.2L880.6 852.0L880.8 854.1L881.1 851.8L881.3 853.5L881.6 851.8L881.8 854.2L882.1 851.8L882.3 854.2L882.5 851.8L882.8 854.2L883.0 851.8L883.3 853.8L883.5 851.8L883.8 854.2L884.0 852.2L884.2 854.2L884.5 851.8L884.7 854.0L885.0 851.8L885.2 854.1L885.4 851.8L885.7 854.2L885.9 852.3L886.2 857.1L886.4 852.4L886.7 860.1L886.9 854.5L887.2 863.2L887.4 857.0L887.6 862.6L887.9 859.1L888.1 865.3L888.4 860.6L888.6 865.3L888.9 861.9L889.1 864.8L889.3 859.5L889.6 863.7L889.8 859.7L890.1 864.9L890.3 857.5L890.5 865.2L890.8 857.7L891.0 863.9L891.3 857.0L891.5 862.3L891.7 856.5L892.0 859.3L892.2 855.5L892.5 857.8L892.7 855.1L892.9 857.8L893.2 855.7L893.4 857.8L893.7 855.1L893.9 857.8L894.2 855.7L894.4 857.8L894.6 855.2L894.9 857.8L895.1 855.1L895.4 857.8L895.6 855.1L895.8 857.7L896.1 855.1L896.3 857.4L896.6 855.1L896.8 857.8L897.1 855.1L897.3 857.6L897.5 855.1L897.8 857.8L898.0 855.1L898.3 857.8L898.5 855.1L898.7 858.0L899.0 855.1L899.2 861.1L899.5 855.1L899.7 860.9L899.9 857.8L900.2 862.9L900.4 856.3L900.7 862.8L900.9 859.6L901.1 864.6L901.4 859.9L901.6 864.7L901.9 860.4L902.1 865.3L902.3 861.9L902.6 865.3L902.8 861.5L903.1 865.3L903.3 862.0L903.5 865.2L903.8 861.5L904.0 864.8L904.3 861.6L904.5 865.2L904.7 861.4L905.0 863.9L905.2 861.4L905.4 863.8L905.7 861.4L905.9 863.4L906.2 861.5L906.4 865.1L906.7 861.4L906.9 867.1L907.2 861.4L907.4 868.0L907.6 863.8L907.9 867.8L908.1 864.5L908.4 868.5L908.6 863.2L908.9 868.9L909.1 863.6L909.4 868.7L909.6 864.0L909.9 868.9L910.1 865.2L910.3 868.9L910.6 866.7L910.8 868.9L911.1 867.2L911.3 869.7L911.6 867.2L911.8 869.2L912.1 867.2L912.3 869.8L912.5 867.2L912.8 869.8L913.0 867.2L913.3 868.9L913.5 867.2L913.8 869.8L914.0 865.9L914.3 869.8L914.5 864.8L914.7 867.8L915.0 863.3L915.2 867.8L915.4 861.3L915.7 868.7L915.9 862.7L916.2 867.8L916.4 860.5L916.6 865.3L916.9 860.5L917.1 862.8L917.4 860.5L917.6 865.5L917.8 860.5L918.1 867.6L918.3 860.5L918.6 869.2L918.8 863.6L919.0 871.5L919.3 864.5L919.5 871.2L919.8 865.6L920.0 872.1L920.2 866.5L920.5 873.3L920.7 870.1L921.0 873.3L921.2 870.0L921.4 873.3L921.7 868.4L921.9 873.3L922.2 868.9L922.4 873.2L922.7 867.7L922.9 870.9L923.2 866.8L923.4 870.1L923.7 867.0L923.9 870.1L924.1 866.8L924.4 870.1L924.6 867.8L924.9 871.4L925.1 868.1L925.4 872.1L925.6 868.7L925.9 871.6L926.1 866.8L926.3 874.0L926.6 869.2L926.8 872.9L927.1 868.2L927.3 874.2L927.6 870.6L927.8 874.2L928.1 870.9L928.3 874.2L928.6 871.0L928.8 874.2L929.0 872.6L929.3 874.5L929.5 872.6L929.8 875.5L930.0 872.6L930.3 876.0L930.5 872.8L930.8 875.5L931.0 872.6L931.2 876.0L931.5 872.8L931.7 876.0L932.0 872.6L932.2 876.0L932.5 872.6L932.7 876.0L933.0 873.3L933.2 875.9L933.5 873.9L933.7 876.0L933.9 872.6L934.2 876.0L934.4 874.4L934.7 876.5L934.9 874.4L935.2 876.5L935.4 874.4L935.7 876.4L935.9 874.4L936.1 876.9L936.4 874.4L936.6 876.7L936.9 874.4L937.1 876.9L937.3 868.4L937.5 874.5L937.8 860.6L938.0 869.2L938.2 857.2L938.4 859.6L938.6 857.2L938.9 865.2L939.1 857.3L939.4 868.3L939.6 859.1L939.9 871.2L940.1 863.2L940.4 873.5L940.6 864.1L940.9 876.0L941.1 869.7L941.4 876.0L941.6 873.0L941.8 875.6L942.0 861.5L942.2 867.4L942.3 854.5L942.5 856.8L942.8 855.0L943.0 863.1L943.2 857.3L943.5 866.0L943.7 858.5L944.0 867.6L944.2 860.0L944.4 868.8L944.7 867.2L944.9 868.9L945.1 861.3L945.4 867.2L945.6 856.6L945.8 866.7L946.1 848.5L946.3 858.6L946.5 849.1L946.8 854.7L947.0 847.3L947.3 853.0L947.5 848.8L947.7 859.6L948.0 850.7L948.2 865.3L948.5 852.8L948.7 870.7L949.0 860.7L949.2 873.0L949.5 867.3L949.7 873.9L949.9 865.6L950.1 871.3L950.4 859.4L950.6 870.8L950.8 855.7L951.0 864.0L951.3 852.7L951.5 855.2L951.7 853.1L952.0 861.3L952.2 855.8L952.5 866.0L952.7 856.3L953.0 868.5L953.2 863.1L953.5 872.6L953.7 863.9L953.9 873.3L954.2 871.8L954.4 873.3L954.6 866.4L954.9 869.9L955.1 863.6L955.3 870.0L955.5 860.0L955.8 864.5L956.0 860.2L956.2 861.7L956.5 858.9L956.7 861.7L956.9 856.7L957.2 861.5L957.4 855.8L957.7 861.8L957.9 855.5L958.1 861.5L958.4 855.4L958.6 860.5L958.9 854.2L959.1 859.2L959.3 854.2L959.6 857.1L959.8 854.2L960.1 860.4L960.3 855.3L960.6 860.4L960.8 855.8L961.1 861.7L961.3 855.8L961.5 863.1L961.8 855.2L962.0 862.4L962.3 857.4L962.5 864.1L962.8 856.7L963.0 864.1L963.3 858.7L963.5 865.3L963.7 859.6L964.0 865.3L964.2 862.2L964.5 865.3L964.7 861.7L965.0 865.3L965.2 860.6L965.4 864.9L965.6 858.8L965.9 864.4L966.1 859.3L966.3 863.8L966.5 856.9L966.8 858.7L967.0 857.1L967.3 858.7L967.5 856.5L967.8 858.7L968.0 856.3L968.3 858.7L968.5 856.4L968.7 858.4L969.0 856.4L969.2 858.4L969.5 856.0L969.7 858.7L970.0 856.9L970.2 858.7L970.5 856.0L970.7 858.6L971.0 856.0L971.2 858.7L971.5 856.0L971.7 858.3L972.0 856.0L972.2 858.7L972.5 856.0L972.7 858.7L973.0 856.3L973.2 858.6L973.5 856.0L973.7 858.2L974.0 856.0L974.2 860.1L974.4 856.0L974.6 863.5L974.9 857.6L975.1 864.4L975.3 860.0L975.5 864.4L975.7 861.8L976.0 864.4L976.2 861.6L976.5 864.4L976.7 860.2L977.0 864.4L977.2 859.5L977.4 863.3L977.7 859.2L977.9 863.8L978.2 858.4L978.4 861.7L978.7 856.8L978.9 860.9L979.1 855.9L979.4 860.8L979.6 857.1L979.9 860.9L980.1 855.6L980.3 860.9L980.6 855.6L980.8 859.7L981.1 855.6L981.3 859.4L981.6 855.6L981.8 857.7L982.0 855.6L982.3 857.9L982.5 855.6L982.8 859.4L983.0 855.6L983.3 862.6L983.5 856.0L983.8 864.1L984.0 856.9L984.3 865.9L984.5 857.5L984.8 865.2L985.0 859.4L985.3 866.2L985.5 861.7L985.8 866.2L986.0 861.1L986.3 866.2L986.5 864.6L986.8 866.2L987.0 863.4L987.2 866.2L987.5 863.5L987.7 866.0L988.0 862.1L988.2 866.2L988.4 861.4L988.7 865.5L988.9 861.4L989.2 864.8L989.4 861.8L989.6 865.4L989.9 862.1L990.1 863.2L990.4 861.5L990.6 863.2L990.9 861.1L991.1 863.2L991.4 861.1L991.6 863.2L991.9 859.3L992.1 863.2L992.3 859.0L992.6 862.2L992.8 859.4L993.1 862.5L993.3 859.2L993.6 862.8L993.8 859.5L994.1 862.6L994.3 858.7L994.6 862.4L994.8 858.7L995.1 861.5L995.3 858.7L995.6 861.4L995.8 858.7L996.1 861.9L996.3 858.7L996.6 860.7L996.8 858.7L997.1 860.9L997.3 858.7L997.6 861.6L997.8 858.7L998.0 862.2L998.3 858.7L998.5 861.9L998.8 858.7L999.0 862.1L999.3 858.7L999.5 863.2L999.8 859.3L1000.0 862.2L1000.3 859.5L1000.5 863.0L1000.8 859.2L1001.0 862.8L1001.3 859.6L1001.5 863.2L1001.8 859.3L1002.0 863.2L1002.3 859.5L1002.5 862.7L1002.8 860.7L1003.0 863.0L1003.3 860.6L1003.5 863.2L1003.7 861.2L1004.0 863.2L1004.2 859.9L1004.5 863.5L1004.7 862.1L1005.0 865.2L1005.2 861.4L1005.4 863.9L1005.7 861.4L1005.9 865.3L1006.2 861.4L1006.4 864.3L1006.6 861.4L1006.9 865.3L1007.1 862.6L1007.4 865.3L1007.6 862.7L1007.8 865.3L1008.1 863.2L1008.3 865.3L1008.6 863.2L1008.8 865.3L1009.0 863.2L1009.3 865.3L1009.5 863.2L1009.8 865.3L1010.0 863.2L1010.2 865.1L1010.5 863.2L1010.7 865.3L1011.0 863.2L1011.2 864.6L1011.4 863.2L1011.7 864.9L1011.9 860.4L1012.2 864.3L1012.4 860.4L1012.7 864.5L1012.9 861.2L1013.1 863.7L1013.4 859.6L1013.6 863.8L1013.9 860.8L1014.1 864.9L1014.4 859.0L1014.6 865.0L1014.9 858.1L1015.1 864.2L1015.4 858.1L1015.6 863.7L1015.8 858.4L1016.1 862.8L1016.3 858.1L1016.6 862.1L1016.8 858.1L1017.1 860.0L1017.3 857.0L1017.6 860.0L1017.8 856.3L1018.1 860.0L1018.3 855.8L1018.6 860.0L1018.8 855.7L1019.1 859.8L1019.3 855.1L1019.6 859.4L1019.8 854.5L1020.1 858.4L1020.3 854.7L1020.6 858.7L1020.8 854.5L1021.1 856.9L1021.3 854.5L1021.6 857.1L1021.8 854.5L1022.0 860.9L1022.3 854.5L1022.5 862.5L1022.8 857.1L1023.0 861.5L1023.2 856.2L1023.5 863.2L1023.7 857.4L1024.0 865.3L1024.2 858.2L1024.4 865.3L1024.7 860.5L1024.9 865.3L1025.1 863.3L1025.4 865.3L1025.6 862.1L1025.8 865.0L1026.0 861.5L1026.3 865.3L1026.5 860.8L1026.7 863.6L1026.9 860.8L1027.2 863.5L1027.4 861.5L1027.7 865.7L1027.9 861.7L1028.2 867.7L1028.4 863.7L1028.7 867.6L1028.9 863.0L1029.2 868.9L1029.4 864.7L1029.6 868.9L1029.9 865.8L1030.1 868.9L1030.4 865.8L1030.6 868.9L1030.8 865.7L1031.1 868.9L1031.3 865.9L1031.6 868.5L1031.8 865.4L1032.0 868.0L1032.3 865.0L1032.5 868.4L1032.8 865.0L1033.0 867.4L1033.2 865.3L1033.5 867.3L1033.7 865.0L1034.0 867.6L1034.2 865.0L1034.5 867.6L1034.7 865.1L1034.9 867.6L1035.2 865.0L1035.4 867.6L1035.7 865.0L1035.9 867.6L1036.2 865.0L1036.4 867.6L1036.7 865.2L1036.9 867.6L1037.2 865.4L1037.4 867.6L1037.6 865.0L1037.9 867.6L1038.1 865.3L1038.4 867.6L1038.6 865.9L1038.9 869.7L1039.1 865.9L1039.4 870.5L1039.6 865.9L1039.8 871.9L1040.1 868.3L1040.3 872.4L1040.6 868.4L1040.8 873.3L1041.1 869.2L1041.3 873.3L1041.6 870.8L1041.8 873.3L1042.0 871.3L1042.3 873.3L1042.5 869.9L1042.8 873.3L1043.0 870.3L1043.2 873.3L1043.5 869.9L1043.7 873.3L1044.0 869.9L1044.2 872.6L1044.4 869.9L1044.7 871.9L1044.9 869.9L1045.1 876.9L1045.4 872.7L1045.6 881.8L1045.8 880.4L1046.0 882.8L1046.3 879.1L1046.5 882.8L1046.8 879.3L1047.0 883.2L1047.2 878.7L1047.5 881.6L1047.7 877.0L1048.0 882.5L1048.2 876.2L1048.4 881.7L1048.7 876.2L1048.9 879.4L1049.2 876.2L1049.4 878.4L1049.6 876.2L1049.9 881.4L1050.1 877.7L1050.4 881.5L1050.6 877.3L1050.8 882.4L1051.1 878.5L1051.3 885.5L1051.6 880.0L1051.8 886.7L1052.0 881.2L1052.3 886.7L1052.5 882.6L1052.8 886.7L1053.0 885.3L1053.2 886.7L1053.4 882.5L1053.7 885.6L1053.9 881.4L1054.1 886.1L1054.3 879.4L1054.6 882.7L1054.8 878.9L1055.0 882.7L1055.3 878.9L1055.5 886.0L1055.8 878.9L1056.0 885.8L1056.3 880.8L1056.5 887.8L1056.8 880.1L1057.0 888.6L1057.3 884.4L1057.5 890.2L1057.8 885.4L1058.0 892.9L1058.3 886.0L1058.5 892.7L1058.8 889.4L1059.0 893.6L1059.3 891.4L1059.5 893.4L1059.7 885.4L1060.0 888.7L1060.2 883.4L1060.4 887.0L1060.7 883.6L1060.9 888.8L1061.2 883.5L1061.4 889.7L1061.6 884.1L1061.9 891.0L1062.1 885.8L1062.4 892.0L1062.6 884.9L1062.9 891.3L1063.1 887.0L1063.4 891.6L1063.6 885.6L1063.9 892.7L1064.1 889.1L1064.3 894.8L1064.6 889.4L1064.8 894.5L1065.1 890.9L1065.3 894.6L1065.6 892.6L1065.8 894.8L1066.1 891.7L1066.3 894.8L1066.6 889.6L1066.8 894.2L1067.1 890.9L1067.3 894.8L1067.6 889.8L1067.8 894.0L1068.1 889.2L1068.3 893.2L1068.6 888.0L1068.8 892.6L1069.1 887.5L1069.3 890.8L1069.6 887.1L1069.8 890.1L1070.1 887.3L1070.3 892.0L1070.5 888.5L1070.8 896.2L1071.0 888.5L1071.3 900.0L1071.5 890.5L1071.7 900.7L1072.0 891.6L1072.2 901.7L1072.5 894.6L1072.7 902.7L1072.9 898.7L1073.2 905.5L1073.4 899.6L1073.7 906.2L1073.9 904.2L1074.2 906.1L1074.4 904.2L1074.7 905.7L1074.9 904.2L1075.1 905.7L1075.4 904.2L1075.6 906.4L1075.9 904.2L1076.1 905.5L1076.4 904.2L1076.6 906.4L1076.9 904.2L1077.1 905.8L1077.4 904.2L1077.6 906.1L1077.9 905.0L1078.1 906.4L1078.4 904.0L1078.6 906.4L1078.9 903.3L1079.1 905.9L1079.3 901.0L1079.6 904.5L1079.8 900.1L1080.1 905.1L1080.3 901.3L1080.5 905.2L1080.8 899.9L1081.0 903.0L1081.3 899.7L1081.5 903.2L1081.7 899.0L1082.0 901.0L1082.2 898.5L1082.5 901.0L1082.7 897.4L1083.0 900.3L1083.2 898.3L1083.5 901.0L1083.7 898.2L1083.9 901.0L1084.2 898.1L1084.4 899.9L1084.7 896.3L1084.9 900.9L1085.2 896.6L1085.4 899.1L1085.7 896.4L1085.9 899.6L1086.1 896.6L1086.4 898.6L1086.6 896.2L1086.9 898.8L1087.1 895.7L1087.4 898.6L1087.6 895.7L1087.8 899.9L1088.1 897.3L1088.3 900.8L1088.6 897.2L1088.8 902.5L1089.0 897.9L1089.3 902.7L1089.5 900.3L1089.8 904.6L1090.0 900.1L1090.2 904.6L1090.5 903.1L1090.7 905.3L1090.9 904.1L1091.2 908.2L1091.4 903.4L1091.6 908.3L1091.8 904.4L1092.1 909.0L1092.3 907.1L1092.5 909.0L1092.8 907.1L1093.0 909.0L1093.2 904.8L1093.5 908.0L1093.7 905.2L1094.0 908.7L1094.2 903.5L1094.5 906.2L1094.7 902.4L1095.0 905.5L1095.2 902.1L1095.5 903.7L1095.7 901.6L1096.0 903.7L1096.2 901.8L1096.5 903.6L1096.7 901.2L1097.0 903.6L1097.2 901.2L1097.5 903.2L1097.7 901.2L1098.0 902.9L1098.2 901.2L1098.5 902.5L1098.7 901.2L1099.0 902.5L1099.2 901.2L1099.5 902.3L1099.7 901.2L1099.9 903.4L1100.2 901.2L1100.4 902.9L1100.7 901.2L1100.9 903.4L1101.2 901.2L1101.4 903.9L1101.7 901.2L1101.9 904.9L1102.2 901.5L1102.4 904.7L1102.6 902.4L1102.9 905.1L1103.1 901.9L1103.4 903.9L1103.6 901.2L1103.9 904.8L1104.1 901.6L1104.4 905.1L1104.6 902.1L1104.8 905.0L1105.1 903.9L1105.3 905.0L1105.6 903.9L1105.8 905.9L1106.0 904.2L1106.3 907.6L1106.5 903.9L1106.8 906.7L1107.0 904.3L1107.2 908.2L1107.5 904.5L1107.7 908.1L1108.0 906.3L1108.2 908.1L1108.4 906.3L1108.7 908.1L1108.9 906.4L1109.2 908.1L1109.4 905.3L1109.7 908.1L1109.9 905.3L1110.2 908.1L1110.4 905.6L1110.7 908.0L1110.9 905.2L1111.2 908.2L1111.4 904.8L1111.7 908.0L1111.9 905.1L1112.2 906.6L1112.4 904.8L1112.7 907.0L1112.9 904.8L1113.2 906.3L1113.4 904.8L1113.7 908.7L1113.9 905.3L1114.2 909.8L1114.4 906.7L1114.6 910.8L1114.9 906.6L1115.1 910.5L1115.4 907.9L1115.6 910.8L1115.9 909.3L1116.1 910.8L1116.3 909.2L1116.6 910.8L1116.8 909.2L1117.1 910.8L1117.3 909.1L1117.5 910.8L1117.8 908.4L1118.0 910.7L1118.3 908.6L1118.5 910.5L1118.7 908.4L1119.0 910.3L1119.2 908.4L1119.5 910.5L1119.7 908.4L1119.9 913.7L1120.1 908.7L1120.4 918.2L1120.6 913.4L1120.8 919.5L1121.0 916.4L1121.3 919.7L1121.5 918.7L1121.7 919.7L1122.0 919.0L1122.2 919.7L1122.5 918.8L1122.7 919.7L1123.0 918.7L1123.2 919.7L1123.5 918.7L1123.7 919.7L1124.0 918.1L1124.2 919.8L1124.4 908.0L1124.6 917.8L1124.9 905.6L1125.1 912.1L1125.3 897.9L1125.5 904.7L1125.7 897.6L1126.0 899.2L1126.2 897.5L1126.5 899.2L1126.7 897.0L1127.0 899.2L1127.2 895.7L1127.5 899.2L1127.7 895.9L1128.0 898.5L1128.2 895.7L1128.5 898.2L1128.7 895.7L1129.0 898.5L1129.2 895.7L1129.5 898.2L1129.7 896.2L1130.0 898.3L1130.2 895.7L1130.4 905.4L1130.7 898.7L1130.9 914.1L1131.1 904.5L1131.3 918.7L1131.5 918.8L1131.7 919.7L1132.0 916.7L1132.2 919.1L1132.5 915.6L1132.7 918.9L1132.9 912.3L1133.2 917.8L1133.4 912.8L1133.7 915.0L1133.9 911.1L1134.1 913.6L1134.4 911.1L1134.6 912.2L1134.9 908.8L1135.1 912.2L1135.4 909.1L1135.6 912.2L1135.9 908.2L1136.1 911.6L1136.4 907.3L1136.6 910.2L1136.9 904.9L1137.1 909.7L1137.4 905.3L1137.6 909.9L1137.9 903.8L1138.1 909.6L1138.4 903.4L1138.6 908.6L1138.9 903.6L1139.1 907.1L1139.3 903.3L1139.6 904.8L1139.8 903.3L1140.1 906.8L1140.3 903.3L1140.6 907.9L1140.8 903.9L1141.1 908.7L1141.3 903.4L1141.5 911.3L1141.8 905.8L1142.0 912.1L1142.3 908.2L1142.5 914.9L1142.8 909.3L1143.0 916.6L1143.3 911.5L1143.5 916.4L1143.7 913.2L1144.0 916.5L1144.2 915.4L1144.5 916.5L1144.7 915.1L1145.0 916.5L1145.2 914.2L1145.4 916.5L1145.7 913.2L1145.9 916.5L1146.2 912.9L1146.4 916.2L1146.7 913.5L1146.9 915.7L1147.1 913.2L1147.4 915.9L1147.6 912.7L1147.9 914.9L1148.1 911.2L1148.4 915.5L1148.6 911.7L1148.8 914.1L1149.1 911.4L1149.3 914.0L1149.6 911.1L1149.8 913.2L1150.1 911.3L1150.3 913.5L1150.5 911.0L1150.8 913.0L1151.0 911.0L1151.3 914.4L1151.5 911.7L1151.8 914.5L1152.0 911.1L1152.3 915.6L1152.5 912.8L1152.8 916.2L1153.0 912.4L1153.3 917.7L1153.5 911.6L1153.8 917.0L1154.0 913.7L1154.3 918.0L1154.5 915.3L1154.8 918.6L1155.0 915.5L1155.3 919.8L1155.5 916.8L1155.8 919.8L1156.0 917.6L1156.3 919.8L1156.5 918.8L1156.7 919.8L1157.0 918.8L1157.2 919.8L1157.5 918.8L1157.7 919.8L1158.0 918.8L1158.2 919.8L1158.4 918.8L1158.7 919.8L1158.9 918.8L1159.2 919.7L1159.4 918.8L1159.7 919.8L1159.9 918.8L1160.1 919.8L1160.4 918.8L1160.6 919.8L1160.9 918.8L1161.1 919.8L1161.4 918.8L1161.6 919.8L1161.9 918.8L1162.1 919.8L1162.3 918.9L1162.6 919.8L1162.8 918.8L1163.1 919.8L1163.3 918.8L1163.6 919.8L1163.8 918.8L1164.0 919.8L1164.3 918.8L1164.5 919.8L1164.8 918.8L1165.0 920.0L1165.3 918.9L1165.5 920.5L1165.7 919.2L1166.0 921.4L1166.2 918.8L1166.5 921.8L1166.7 919.1L1167.0 921.9L1167.2 919.5L1167.4 922.6L1167.7 919.6L1167.9 922.4L1168.2 920.1L1168.4 922.9L1168.7 920.0L1168.9 921.9L1169.1 920.5L1169.4 922.9L1169.6 919.8L1169.9 923.1L1170.1 920.8L1170.4 923.1L1170.6 920.9L1170.8 923.1L1171.1 920.9L1171.3 923.1L1171.6 921.5L1171.8 923.1L1172.1 919.3L1172.3 923.1L1172.6 919.7L1172.8 923.1L1173.1 917.4L1173.3 921.6L1173.6 918.2L1173.8 922.0L1174.1 917.3L1174.3 921.1L1174.6 916.7L1174.8 919.7L1175.1 915.0L1175.3 919.6L1175.6 915.1L1175.8 917.8L1176.1 915.0L1176.3 918.5L1176.5 914.6L1176.8 916.3L1177.0 914.4L1177.3 916.4L1177.5 914.6L1177.7 917.0L1178.0 914.4L1178.2 917.7L1178.5 914.4L1178.7 918.3L1178.9 915.0L1179.2 918.6L1179.4 915.4L1179.6 919.8L1179.9 916.7L1180.1 919.8L1180.3 918.8L1180.6 919.8L1180.8 917.3L1181.1 919.8L1181.3 917.5L1181.5 919.5L1181.8 917.4L1182.0 919.8L1182.3 916.5L1182.5 918.3L1182.8 915.9L1183.0 918.9L1183.2 914.9L1183.5 917.3L1183.7 913.8L1184.0 918.4L1184.2 913.6L1184.5 918.0L1184.7 913.6L1184.9 916.7L1185.2 913.9L1185.4 917.0L1185.7 913.3L1185.9 916.4L1186.2 913.3L1186.4 915.4L1186.6 913.3L1186.9 914.9L1187.1 913.3L1187.4 914.9L1187.6 913.3L1187.9 915.9L1188.1 913.3L1188.4 915.1L1188.6 913.3L1188.8 916.5L1189.1 913.5L1189.3 916.1L1189.6 913.3L1189.8 915.9L1190.1 914.3L1190.3 916.4L1190.5 914.5L1190.8 917.5L1191.0 914.3L1191.3 917.1L1191.5 914.8L1191.8 917.6L1192.0 914.7L1192.2 917.4L1192.5 915.0L1192.7 917.6L1193.0 915.7L1193.2 917.6L1193.5 915.7L1193.7 917.6L1194.0 914.6L1194.2 917.6L1194.5 914.2L1194.7 917.3L1194.9 912.5L1195.2 917.2L1195.4 913.0L1195.7 916.5L1195.9 911.7L1196.2 915.5L1196.4 912.1L1196.7 915.0L1196.9 910.1L1197.2 914.4L1197.4 910.0L1197.7 913.7L1197.9 910.0L1198.2 913.0L1198.4 910.0L1198.7 912.0L1198.9 909.7L1199.2 911.1L1199.4 909.0L1199.7 910.9L1199.9 908.7L1200.1 911.1L1200.4 908.1L1200.6 910.7L1200.9 908.1L1201.1 910.0L1201.4 907.7L1201.6 909.9L1201.8 906.9L1202.1 909.5L1202.3 905.9L1202.6 909.0L1202.8 905.4L1203.1 909.8L1203.3 905.4L1203.5 909.3L1203.8 905.3L1204.0 908.6L1204.3 905.4L1204.5 909.1L1204.8 905.8L1205.0 907.6L1205.2 905.2L1205.5 907.6L1205.7 905.2L1206.0 908.3L1206.2 905.4L1206.5 907.7L1206.7 904.5L1207.0 906.8L1207.2 904.4L1207.4 906.7L1207.7 904.4L1207.9 906.9L1208.2 904.4L1208.4 907.2L1208.7 905.1L1208.9 907.0L1209.2 905.1L1209.4 906.5L1209.6 904.8L1209.9 907.5L1210.1 904.4L1210.4 907.1L1210.6 904.4L1210.9 907.5L1211.1 905.4L1211.4 907.1L1211.6 904.4L1211.9 907.4L1212.1 905.0L1212.4 907.9L1212.6 904.6L1212.9 907.5L1213.1 904.7L1213.3 907.8L1213.6 904.9L1213.8 907.8L1214.1 904.6L1214.3 907.0L1214.6 905.0L1214.8 907.7L1215.1 905.1L1215.3 907.7L1215.6 905.4L1215.8 907.7L1216.1 906.1L1216.3 907.8L1216.5 906.2L1216.8 907.8L1217.0 906.4L1217.3 907.8L1217.5 905.9L1217.8 907.7L1218.0 903.9L1218.3 907.3L1218.5 902.8L1218.7 906.6L1219.0 902.2L1219.2 906.2L1219.5 901.5L1219.7 907.0L1220.0 901.0L1220.2 905.4L1220.4 900.2L1220.7 905.2L1220.9 900.0L1221.2 904.0L1221.4 900.0L1221.7 901.4L1221.9 898.5L1222.2 901.2L1222.4 897.2L1222.6 900.8L1222.9 895.6L1223.1 899.8L1223.4 894.9L1223.6 898.6L1223.9 893.1L1224.1 898.2L1224.4 892.7L1224.6 899.5L1224.9 891.2L1225.1 898.8L1225.4 891.2L1225.6 897.9L1225.9 890.2L1226.1 896.5L1226.4 891.0L1226.6 894.4L1226.9 890.1L1227.1 892.8L1227.4 890.1L1227.6 892.8L1227.9 890.1L1228.1 895.5L1228.3 890.1L1228.6 899.2L1228.8 891.7L1229.1 898.4L1229.3 893.3L1229.6 899.8L1229.8 895.6L1230.0 903.3L1230.3 897.4L1230.5 904.1L1230.8 898.7L1231.0 904.6L1231.3 899.7L1231.5 904.6L1231.8 903.0L1232.0 904.6L1232.2 900.2L1232.5 904.6L1232.7 900.8L1233.0 904.6L1233.2 899.9L1233.5 904.6L1233.7 898.0L1234.0 902.7L1234.2 895.4L1234.5 902.5L1234.7 895.2L1235.0 899.2L1235.2 893.1L1235.5 898.9L1235.7 893.7L1236.0 896.9L1236.2 892.5L1236.5 896.5L1236.7 892.3L1237.0 895.7L1237.2 892.3L1237.5 893.9L1237.7 892.3L1238.0 895.9L1238.2 892.6L1238.4 895.9L1238.7 893.3L1238.9 897.1L1239.2 892.6L1239.4 896.3L1239.7 893.8L1239.9 897.3L1240.1 892.9L1240.4 898.1L1240.6 893.5L1240.9 898.1L1241.1 895.8L1241.4 898.1L1241.6 896.2L1241.8 898.1L1242.1 894.6L1242.3 897.4L1242.6 892.9L1242.8 898.1L1243.1 892.2L1243.3 897.4L1243.6 892.6L1243.8 897.2L1244.1 891.1L1244.3 896.1L1244.6 890.6L1244.8 894.9L1245.1 890.7L1245.3 895.4L1245.6 888.5L1245.8 892.8L1246.0 887.8L1246.3 894.3L1246.5 889.0L1246.8 893.5L1247.0 886.8L1247.3 891.6L1247.5 887.3L1247.8 891.1L1248.0 885.7L1248.3 889.8L1248.5 885.7L1248.8 889.4L1249.0 885.7L1249.3 887.2L1249.5 885.3L1249.8 887.2L1250.0 883.2L1250.3 887.2L1250.5 882.6L1250.7 887.2L1251.0 882.2L1251.2 886.2L1251.5 880.5L1251.7 886.3L1252.0 881.3L1252.2 886.4L1252.5 879.4L1252.7 885.8L1253.0 879.4L1253.2 884.6L1253.5 878.2L1253.7 882.0L1254.0 878.3L1254.2 881.0L1254.5 878.0L1254.7 880.1L1255.0 878.0L1255.2 882.3L1255.5 878.7L1255.7 883.3L1255.9 878.0L1256.2 885.1L1256.4 880.2L1256.7 884.4L1256.9 881.0L1257.2 885.3L1257.4 881.1L1257.6 888.2L1257.9 881.6L1258.1 887.8L1258.4 883.6L1258.6 888.2L1258.9 884.3L1259.1 888.3L1259.3 885.1L1259.6 888.3L1259.8 882.6L1260.0 887.8L1260.3 881.3L1260.5 888.0L1260.7 880.3L1261.0 885.7L1261.2 879.1L1261.4 883.6L1261.7 879.3L1261.9 883.4L1262.2 879.1L1262.4 880.4L1262.6 879.1L1262.9 884.1L1263.1 879.2L1263.4 883.5L1263.6 879.1L1263.8 886.6L1264.1 881.1L1264.3 888.6L1264.6 881.2L1264.8 889.3L1265.1 881.6L1265.3 890.3L1265.5 882.9L1265.8 890.3L1266.0 886.7L1266.3 890.5L1266.5 887.7L1266.8 890.4L1267.0 888.4L1267.3 890.5L1267.5 887.6L1267.7 890.5L1268.0 887.8L1268.2 890.2L1268.5 887.2L1268.7 890.5L1269.0 886.0L1269.2 890.5L1269.5 886.7L1269.7 890.4L1270.0 887.5L1270.2 890.5L1270.5 887.0L1270.7 889.3L1271.0 886.1L1271.2 889.8L1271.5 886.0L1271.7 889.3L1271.9 885.1L1272.2 888.7L1272.4 884.9L1272.7 887.8L1272.9 884.6L1273.2 887.2L1273.4 884.6L1273.7 887.4L1273.9 884.6L1274.2 886.1L1274.4 883.4L1274.7 886.1L1274.9 882.3L1275.1 886.1L1275.4 882.1L1275.6 884.9L1275.9 881.3L1276.1 884.8L1276.4 878.8L1276.6 884.2L1276.9 877.7L1277.1 883.6L1277.3 877.4L1277.6 883.0L1277.8 875.8L1278.1 883.6L1278.3 875.4L1278.6 881.5L1278.8 875.4L1279.0 881.6L1279.3 874.9L1279.5 879.2L1279.8 874.8L1280.0 877.6L1280.3 874.0L1280.5 877.5L1280.7 874.0L1281.0 876.6L1281.2 873.7L1281.5 878.4L1281.7 873.9L1282.0 879.9L1282.2 874.5L1282.4 881.6L1282.7 875.1L1282.9 881.7L1283.2 875.3L1283.4 885.1L1283.7 876.5L1283.9 885.5L1284.1 878.2L1284.4 886.1L1284.6 879.6L1284.9 886.1L1285.1 883.1L1285.4 886.1L1285.6 884.3L1285.9 886.1L1286.1 882.2L1286.4 885.6L1286.6 882.4L1286.9 886.1L1287.1 881.2L1287.4 884.8L1287.6 879.7L1287.8 883.5L1288.1 880.1L1288.3 885.4L1288.6 879.3L1288.8 882.5L1289.1 878.0L1289.3 882.0L1289.6 878.0L1289.8 881.7L1290.1 878.0L1290.3 881.0L1290.6 878.0L1290.8 881.3L1291.1 878.2L1291.3 880.9L1291.6 878.0L1291.8 880.1L1292.0 878.0L1292.3 881.5L1292.5 878.0L1292.8 880.4L1293.0 878.0L1293.3 881.5L1293.5 878.0L1293.7 881.5L1294.0 878.0L1294.2 881.8L1294.5 878.6L1294.7 881.8L1295.0 878.0L1295.2 881.8L1295.5 878.6L1295.7 881.8L1295.9 879.3L1296.2 881.8L1296.4 880.1L1296.7 881.8L1296.9 880.5L1297.2 881.8L1297.4 880.4L1297.6 881.8L1297.9 880.4L1298.1 881.8L1298.4 878.5L1298.6 881.8L1298.9 878.4L1299.1 881.8L1299.3 878.5L1299.6 881.8L1299.8 876.4L1300.1 881.6L1300.3 875.8L1300.6 880.7L1300.8 875.3L1301.0 879.4L1301.3 874.7L1301.5 879.1L1301.8 875.0L1302.0 878.4L1302.3 874.7L1302.5 878.6L1302.7 874.7L1303.0 877.4L1303.2 874.7L1303.5 877.8L1303.7 874.7L1304.0 876.3L1304.2 872.0L1304.4 876.3L1304.7 869.0L1304.9 875.2L1305.2 869.2L1305.4 875.4L1305.7 868.3L1305.9 872.6L1306.1 866.6L1306.4 870.5L1306.6 863.2L1306.9 870.0L1307.1 863.2L1307.4 868.4L1307.6 862.6L1307.9 867.5L1308.1 862.8L1308.3 864.4L1308.6 860.5L1308.8 864.4L1309.1 859.5L1309.3 864.4L1309.6 858.7L1309.8 864.2L1310.1 854.9L1310.3 862.4L1310.6 853.8L1310.8 860.4L1311.1 852.9L1311.3 859.7L1311.6 854.2L1311.8 859.7L1312.1 851.6L1312.3 859.3L1312.6 851.6L1312.8 857.2L1313.1 852.0L1313.3 856.9L1313.6 851.6L1313.8 853.5L1314.1 850.5L1314.3 852.9L1314.5 850.0L1314.8 852.5L1315.0 849.3L1315.3 852.9L1315.5 848.2L1315.8 851.4L1316.0 847.2L1316.3 853.1L1316.5 847.2L1316.8 852.8L1317.0 848.0L1317.3 850.4L1317.5 847.2L1317.7 849.1L1318.0 842.3L1318.2 847.6L1318.5 832.5L1318.7 845.7L1318.9 823.1L1319.2 832.0L1319.4 816.4L1319.7 828.4L1319.9 810.0L1320.1 820.5L1320.4 809.3L1320.6 812.0L1320.9 807.3L1321.1 812.0L1321.4 807.6L1321.6 811.7L1321.8 804.7L1322.1 811.5L1322.3 806.4L1322.6 812.0L1322.8 807.1L1323.1 812.0L1323.3 807.2L1323.6 812.0L1323.8 804.7L1324.1 810.0L1324.3 804.7L1324.5 815.3L1324.6 807.1L1324.8 826.2L1324.9 811.8L1325.1 830.6L1325.2 823.8L1325.4 838.8L1325.5 830.8L1325.7 844.8L1325.8 841.6L1326.1 844.8L1326.3 832.0L1326.6 844.0L1326.8 825.8L1327.1 837.0L1327.3 825.5L1327.5 832.0L1327.8 820.9L1328.0 823.1L1328.3 820.9L1328.5 831.2L1328.8 820.9L1329.0 835.6L1329.2 822.2L1329.5 837.9L1329.7 825.2L1330.0 841.9L1330.2 828.5L1330.5 842.3L1330.7 831.2L1330.9 847.5L1331.2 834.0L1331.4 846.1L1331.7 838.3L1331.9 850.2L1332.2 842.7L1332.4 850.2L1332.6 843.3L1332.9 850.2L1333.1 843.1L1333.3 849.1L1333.6 838.1L1333.8 847.1L1334.0 834.0L1334.3 845.4L1334.5 834.2L1334.8 841.1L1335.0 831.8L1335.2 839.8L1335.5 831.8L1335.7 833.8L1335.9 831.8L1336.2 836.7L1336.4 831.8L1336.7 841.4L1336.9 833.3L1337.1 839.6L1337.4 832.7L1337.6 845.8L1337.9 836.3L1338.1 846.9L1338.4 836.5L1338.6 849.0L1338.8 838.1L1339.1 849.2L1339.3 841.8L1339.6 849.2L1339.8 844.4L1340.1 849.1L1340.3 841.5L1340.5 848.8L1340.8 836.7L1341.0 849.2L1341.2 837.3L1341.5 844.0L1341.7 834.2L1341.9 841.9L1342.2 830.8L1342.4 841.1L1342.6 827.5L1342.9 834.1L1343.1 827.5L1343.3 829.5L1343.6 825.3L1343.8 828.1L1344.1 824.7L1344.3 828.3L1344.5 823.9L1344.8 829.5L1345.0 822.0L1345.2 828.5L1345.5 821.0L1345.7 826.3L1345.9 819.8L1346.2 824.0L1346.4 819.8L1346.6 821.1L1346.9 819.8L1347.1 824.2L1347.3 819.8L1347.6 826.2L1347.8 820.1L1348.0 827.4L1348.3 820.2L1348.5 829.4L1348.7 824.4L1349.0 830.5L1349.2 825.0L1349.4 832.2L1349.7 829.8L1349.9 832.8L1350.1 828.7L1350.4 832.8L1350.6 825.7L1350.9 832.8L1351.1 824.1L1351.3 831.5L1351.6 822.0L1351.8 828.6L1352.0 823.3L1352.3 828.9L1352.5 821.9L1352.7 824.7L1353.0 820.9L1353.2 823.6L1353.4 820.9L1353.7 824.9L1353.9 820.9L1354.2 824.7L1354.4 820.9L1354.7 825.1L1354.9 821.0L1355.2 825.5L1355.4 821.7L1355.7 826.6L1355.9 820.9L1356.2 826.5L1356.4 822.2L1356.7 826.8L1356.9 821.6L1357.2 827.2L1357.4 822.1L1357.7 827.3L1357.9 823.8L1358.2 827.3L1358.4 823.0L1358.7 827.3L1358.9 823.6L1359.1 827.3L1359.4 819.8L1359.6 827.3L1359.8 820.5L1360.1 824.6L1360.3 818.4L1360.5 826.8L1360.8 818.4L1361.0 823.5L1361.2 817.2L1361.5 822.5L1361.7 816.5L1361.9 818.5L1362.2 812.9L1362.4 818.5L1362.7 812.2L1362.9 817.4L1363.1 808.7L1363.4 816.7L1363.6 806.9L1363.8 814.8L1364.1 807.0L1364.3 814.4L1364.5 806.2L1364.8 812.2L1365.0 805.6L1365.2 807.6L1365.5 801.3L1365.7 807.1L1365.9 798.5L1366.2 805.2L1366.4 794.3L1366.6 802.8L1366.9 791.5L1367.1 803.6L1367.3 785.9L1367.6 796.5L1367.8 785.9L1368.0 793.3L1368.3 785.9L1368.5 788.6L1368.7 785.9L1369.0 791.2L1369.2 785.9L1369.4 794.1L1369.7 785.9L1369.9 793.8L1370.2 786.9L1370.4 796.6L1370.6 789.7L1370.9 796.6L1371.1 790.6L1371.3 796.6L1371.6 790.4L1371.8 796.6L1372.0 785.7L1372.2 795.5L1372.4 776.9L1372.6 789.9L1372.8 769.1L1373.0 777.3L1373.2 759.2L1373.4 773.4L1373.6 752.4L1373.8 760.0L1374.0 748.6L1374.2 752.9L1374.5 747.4L1374.7 752.9L1375.0 748.9L1375.2 752.9L1375.5 746.6L1375.7 752.8L1376.0 745.2L1376.2 752.9L1376.5 745.7L1376.7 752.6L1377.0 742.8L1377.2 751.1L1377.5 742.8L1377.7 749.2L1378.0 742.8L1378.2 748.5L1378.5 742.8L1378.7 749.7L1379.0 742.8L1379.2 745.0L1379.5 742.8L1379.7 750.9L1379.9 745.9L1380.1 767.0L1380.3 754.0L1380.5 774.9L1380.8 755.7L1381.0 779.7L1381.2 763.0L1381.4 779.2L1381.6 775.9L1381.9 780.5L1382.1 767.5L1382.4 780.3L1382.6 761.5L1382.9 773.8L1383.1 760.5L1383.3 772.2L1383.6 759.6L1383.8 763.3L1384.0 759.6L1384.3 772.9L1384.5 761.4L1384.7 776.4L1384.9 765.3L1385.1 783.4L1385.4 773.7L1385.6 783.5L1385.8 774.2L1386.1 783.3L1386.3 772.1L1386.5 776.6L1386.8 759.7L1387.0 778.6L1387.3 757.9L1387.5 772.6L1387.7 756.4L1388.0 765.2L1388.2 756.4L1388.4 764.8L1388.7 756.4L1388.9 776.6L1389.1 765.7L1389.4 779.4L1389.6 773.5L1389.8 793.9L1390.1 776.8L1390.3 796.1L1390.6 781.4L1390.8 804.4L1391.0 792.3L1391.3 807.4L1391.5 805.6L1391.7 812.2L1392.0 805.6L1392.2 814.3L1392.5 805.6L1392.7 812.6L1392.9 806.8L1393.2 814.5L1393.4 809.7L1393.7 817.8L1393.9 810.4L1394.2 818.0L1394.4 812.4L1394.6 820.7L1394.9 811.5L1395.1 820.7L1395.4 812.9L1395.6 820.7L1395.9 817.4L1396.1 820.7L1396.4 816.2L1396.6 820.7L1396.8 810.6L1397.1 818.0L1397.3 810.9L1397.6 819.6L1397.8 809.8L1398.1 820.1L1398.3 806.7L1398.5 818.3L1398.8 805.6L1399.0 815.0L1399.3 805.6L1399.5 814.4L1399.8 805.6L1400.0 809.9L1400.2 805.2L1400.4 807.6L1400.6 791.7L1400.7 803.8L1400.9 780.6L1401.1 797.4L1401.3 773.4L1401.4 789.6L1401.6 762.8L1401.8 776.3L1401.9 755.5L1402.1 769.3L1402.3 755.3L1402.4 757.3L1402.7 752.5L1402.9 757.3L1403.1 750.1L1403.4 757.3L1403.6 750.0L1403.8 755.9L1404.1 749.0L1404.3 755.5L1404.5 748.3L1404.8 757.2L1405.0 748.3L1405.2 754.5L1405.5 748.3L1405.7 751.0L1405.9 748.3L1406.2 759.3L1406.4 749.0L1406.6 767.1L1406.9 751.3L1407.1 769.6L1407.4 754.1L1407.6 771.3L1407.8 762.3L1408.1 775.5L1408.3 761.6L1408.5 775.6L1408.8 770.1L1409.0 776.6L1409.2 767.9L1409.5 776.3L1409.7 761.6L1410.0 775.4L1410.2 761.8L1410.5 770.2L1410.7 758.1L1410.9 766.3L1411.2 756.6L1411.4 761.6L1411.7 757.0L1411.9 765.2L1412.1 756.4L1412.4 766.2L1412.6 761.4L1412.8 770.0L1413.1 763.4L1413.3 774.8L1413.5 762.1L1413.8 774.1L1414.0 769.5L1414.2 774.8L1414.5 772.0L1414.7 774.8L1415.0 763.2L1415.2 773.5L1415.4 760.6L1415.7 770.9L1415.9 754.6L1416.2 764.5L1416.4 753.1L1416.7 755.1L1416.9 749.2L1417.1 755.1L1417.4 749.8L1417.6 755.1L1417.9 745.5L1418.1 754.3L1418.4 748.7L1418.6 755.1L1418.8 744.6L1419.1 755.1L1419.3 745.3L1419.6 751.4L1419.8 743.3L1420.1 750.7L1420.3 742.1L1420.5 750.2L1420.8 742.1L1421.0 747.2L1421.3 742.1L1421.5 753.9L1421.7 742.1L1422.0 757.0L1422.2 742.9L1422.4 759.4L1422.7 742.7L1422.9 762.7L1423.1 749.0L1423.4 763.8L1423.6 752.2L1423.8 763.8L1424.1 756.0L1424.3 763.8L1424.3 752.6L1424.3 762.9L1424.3 741.5L1424.4 758.6L1424.4 733.0L1424.4 745.6L1424.4 725.1L1424.4 745.4L1424.4 718.8L1424.4 730.3L1424.4 711.3L1424.5 724.8L1424.5 709.4L1424.5 717.0L1424.5 701.9L1424.7 706.6L1425.0 698.6L1425.2 706.6L1425.5 699.1L1425.7 706.6L1426.0 700.8L1426.2 706.6L1426.4 695.6L1426.7 706.6L1426.9 697.0L1427.2 702.1L1427.4 695.6L1427.7 704.7L1427.9 695.6L1428.1 699.7L1428.4 695.6L1428.6 702.0L1428.9 695.6L1429.1 708.7L1429.4 697.9L1429.6 711.4L1429.8 701.1L1430.1 719.3L1430.3 702.5L1430.5 720.6L1430.8 711.6L1431.0 732.1L1431.3 712.4L1431.5 735.0L1431.7 720.4L1432.0 735.0L1432.2 730.1L1432.4 733.6L1432.7 720.0L1432.9 733.3L1433.1 717.0L1433.4 726.0L1433.6 714.9L1433.8 724.3L1434.0 714.9L1434.3 723.7L1434.5 714.9L1434.7 727.1L1434.9 714.9L1435.2 728.8L1435.4 717.8L1435.6 732.4L1435.9 726.1L1436.1 732.4L1436.3 719.0L1436.6 732.4L1436.8 714.8L1437.0 725.2L1437.3 701.3L1437.5 722.9L1437.7 692.9L1438.0 709.0L1438.2 691.7L1438.4 702.6L1438.7 691.7L1438.9 704.2L1439.1 691.7L1439.4 711.5L1439.6 691.7L1439.8 715.6L1440.1 703.0L1440.3 721.4L1440.5 704.8L1440.8 722.1L1441.0 710.9L1441.2 722.1L1441.5 712.6L1441.7 721.3L1442.0 706.4L1442.2 722.1L1442.5 704.5L1442.7 717.3L1442.9 694.3L1443.2 708.7L1443.4 689.6L1443.7 705.9L1443.9 686.6L1444.1 700.2L1444.4 687.1L1444.6 698.7L1444.9 682.7L1445.1 686.8L1445.4 682.7L1445.6 692.2L1445.8 682.7L1446.1 701.6L1446.3 682.7L1446.6 703.1L1446.8 687.7L1447.0 708.5L1447.3 689.3L1447.5 708.2L1447.8 697.8L1448.0 711.2L1448.3 696.4L1448.5 713.1L1448.7 703.7L1449.0 713.1L1449.2 700.4L1449.4 713.1L1449.7 692.1L1449.9 706.7L1450.2 679.7L1450.4 693.6L1450.6 676.1L1450.9 690.5L1451.1 668.5L1451.3 680.7L1451.6 667.2L1451.8 670.5L1452.0 663.5L1452.3 668.8L1452.5 654.9L1452.8 670.5L1453.0 653.6L1453.2 667.6L1453.5 650.5L1453.7 662.6L1454.0 647.7L1454.2 661.4L1454.5 647.6L1454.7 657.9L1454.9 647.4L1455.2 655.2L1455.4 647.4L1455.7 655.8L1455.9 647.4L1456.1 660.7L1456.4 651.9L1456.6 668.9L1456.8 655.3L1457.1 669.9L1457.3 659.3L1457.5 675.7L1457.8 666.2L1458.0 675.7L1458.2 666.5L1458.5 675.7L1458.7 660.2L1459.0 675.7L1459.2 656.6L1459.5 673.8L1459.7 657.4L1459.9 668.9L1460.2 652.7L1460.4 666.1L1460.7 650.5L1460.9 662.2L1461.1 650.7L1461.4 659.7L1461.6 650.5L1461.9 653.5L1462.1 650.5L1462.3 660.8L1462.6 653.8L1462.8 665.5L1463.0 657.0L1463.3 670.7L1463.5 660.4L1463.7 677.0L1464.0 662.2L1464.2 677.0L1464.4 670.9L1464.6 677.0L1464.8 659.0L1465.0 670.0L1465.2 651.2L1465.4 662.7L1465.6 639.7L1465.8 655.3L1465.9 633.5L1466.1 647.4L1466.3 632.4L1466.5 634.4L1466.7 627.0L1467.0 634.4L1467.2 630.3L1467.5 634.4L1467.7 626.0L1467.9 634.4L1468.2 626.0L1468.4 631.7L1468.7 626.0L1468.9 634.4L1469.1 626.0L1469.4 632.7L1469.6 626.0L1469.8 636.5L1470.1 626.0L1470.3 649.0L1470.5 626.0L1470.8 647.9L1471.0 629.8L1471.2 650.2L1471.5 637.4L1471.7 656.3L1471.9 645.3L1472.2 656.3L1472.4 645.0L1472.5 656.1L1472.7 641.2L1472.9 652.2L1473.1 623.0L1473.3 646.4L1473.5 618.3L1473.7 637.8L1473.8 606.2L1474.0 627.5L1474.2 601.5L1474.4 615.7L1474.6 601.5L1474.8 607.1L1475.0 601.5L1475.2 620.9L1475.5 605.1L1475.7 622.3L1475.9 613.5L1476.2 634.9L1476.4 612.1L1476.6 642.2L1476.9 623.5L1477.1 640.0L1477.4 630.5L1477.6 642.2L1477.7 634.6L1477.8 642.2L1477.9 621.1L1477.9 634.2L1478.0 616.9L1478.1 632.2L1478.2 607.1L1478.3 616.2L1478.4 598.5L1478.5 609.5L1478.5 589.0L1478.6 603.8L1478.7 581.4L1478.8 596.5L1478.9 574.3L1479.0 590.6L1479.1 570.6L1479.1 572.6L1479.3 562.6L1479.5 572.6L1479.7 555.7L1479.9 570.1L1480.1 544.9L1480.3 564.3L1480.5 542.2L1480.7 550.1L1480.8 542.2L1480.9 556.6L1481.1 542.6L1481.2 565.7L1481.3 555.8L1481.4 576.7L1481.5 564.4L1481.7 582.6L1481.8 565.5L1481.9 592.4L1482.0 578.0L1482.2 602.4L1482.3 584.6L1482.4 602.1L1482.5 592.6L1482.6 607.6L1482.8 596.7L1482.9 613.8L1483.0 609.4L1483.2 616.4L1483.3 601.6L1483.5 616.4L1483.6 586.7L1483.8 603.5L1484.0 581.5L1484.1 603.8L1484.3 575.8L1484.4 586.2L1484.6 569.1L1484.8 584.6L1484.9 562.8L1485.1 570.6L1485.2 562.8L1485.4 580.7L1485.5 563.2L1485.7 585.3L1485.8 569.1L1486.0 594.5L1486.1 585.9L1486.3 610.1L1486.4 587.9L1486.6 614.8L1486.7 602.6L1486.9 618.4L1487.0 605.1L1487.2 626.0L1487.3 613.2L1487.5 631.1L1487.6 628.0L1487.7 630.4L1487.8 611.4L1487.9 627.8L1488.0 602.5L1488.1 620.8L1488.1 600.8L1488.2 615.0L1488.3 588.4L1488.4 607.5L1488.5 579.4L1488.5 603.2L1488.6 575.2L1488.7 592.7L1488.8 569.3L1488.9 581.6L1488.9 569.3L1489.0 582.8L1489.2 574.9L1489.3 593.9L1489.4 573.2L1489.5 603.9L1489.6 588.7L1489.7 609.4L1489.8 594.0L1490.0 614.7L1490.1 597.0L1490.2 622.7L1490.3 607.5L1490.4 626.1L1490.5 613.8L1490.6 632.7L1490.7 628.0L1490.9 630.8L1491.0 617.4L1491.2 626.5L1491.3 605.7L1491.5 620.1L1491.6 592.8L1491.8 613.2L1491.9 587.0L1492.1 603.0L1492.2 584.8L1492.4 598.7L1492.5 576.4L1492.7 591.0L1492.8 573.1L1493.0 577.7L1493.3 573.7L1493.5 577.7L1493.8 573.1L1494.0 577.7L1494.2 573.1L1494.5 577.7L1494.7 573.1L1494.9 577.7L1495.2 573.1L1495.4 577.7L1495.7 573.1L1495.9 576.1L1496.0 573.1L1496.1 586.8L1496.2 575.8L1496.3 596.7L1496.4 583.7L1496.5 609.6L1496.6 587.1L1496.7 608.9L1496.8 596.9L1496.9 615.9L1497.0 607.6L1497.1 628.2L1497.2 611.4L1497.3 630.7L1497.4 628.3L1497.7 631.8L1497.9 617.8L1498.1 631.8L1498.4 610.4L1498.6 621.4L1498.8 604.3L1499.1 623.0L1499.3 596.3L1499.6 610.0L1499.8 596.3L1500.0 599.8L1500.2 596.3L1500.4 608.7L1500.6 596.3L1500.8 623.1L1501.0 602.0L1501.2 627.3L1501.4 612.2L1501.6 631.8L1501.8 627.3L1502.1 631.8L1502.3 620.1L1502.5 630.9L1502.8 616.4L1503.0 628.7L1503.2 606.9L1503.5 628.9L1503.7 606.6L1503.9 618.0L1504.2 606.6L1504.4 610.9L1504.6 606.6L1504.9 625.7L1505.1 606.6L1505.3 630.2L1505.5 612.6L1505.8 631.8L1506.0 622.2L1506.2 631.8L1506.3 621.0L1506.5 630.5L1506.6 612.2L1506.7 631.1L1506.9 604.2L1507.0 615.2L1507.1 589.7L1507.2 608.2L1507.4 588.0L1507.5 597.2L1507.6 584.7L1507.8 586.7L1508.0 580.7L1508.2 586.7L1508.5 579.3L1508.7 586.7L1509.0 575.7L1509.2 586.7L1509.5 575.7L1509.7 586.7L1510.0 575.7L1510.2 586.7L1510.4 575.7L1510.7 585.0L1510.9 575.7L1511.2 586.4L1511.4 575.7L1511.7 586.2L1511.9 575.7L1512.2 583.3L1512.4 575.7L1512.7 580.1L1512.9 575.7L1513.1 590.0L1513.3 576.6L1513.6 600.2L1513.8 588.8L1514.0 604.1L1514.3 591.5L1514.5 610.1L1514.7 604.2L1515.0 611.2L1515.2 600.2L1515.4 609.2L1515.7 591.1L1515.9 608.3L1516.2 592.0L1516.4 610.5L1516.6 587.3L1516.9 608.9L1517.1 589.3L1517.4 604.9L1517.6 586.0L1517.9 596.3L1518.1 586.0L1518.3 595.5L1518.6 586.0L1518.8 593.9L1519.1 586.0L1519.3 609.5L1519.5 589.4L1519.8 613.5L1520.0 595.9L1520.2 629.0L1520.5 611.2L1520.7 631.8L1520.9 617.5L1521.2 631.8L1521.4 619.2L1521.6 631.8L1521.9 615.8L1522.1 630.4L1522.3 605.6L1522.6 621.4L1522.8 603.3L1523.0 621.3L1523.3 601.5L1523.5 612.6L1523.7 601.5L1523.9 615.8L1524.0 604.3L1524.2 625.8L1524.3 610.9L1524.5 627.6L1524.6 610.7L1524.7 634.9L1524.9 624.8L1525.0 644.4L1525.2 625.1L1525.3 652.2L1525.5 634.1L1525.6 663.7L1525.7 649.2L1525.9 665.3L1526.0 654.2L1526.2 671.7L1526.3 666.3L1526.4 671.8L1526.6 659.5L1526.7 670.8L1526.8 650.2L1527.0 660.0L1527.1 642.7L1527.2 651.2L1527.3 631.5L1527.5 646.2L1527.6 626.1L1527.7 640.2L1527.9 617.0L1528.0 627.3L1528.1 617.0L1528.2 627.1L1528.3 617.8L1528.4 637.3L1528.5 625.7L1528.6 648.8L1528.7 629.0L1528.8 659.1L1528.9 639.9L1529.0 663.9L1529.1 651.1L1529.2 674.3L1529.3 659.7L1529.4 680.6L1529.5 661.7L1529.6 680.8L1529.7 674.8L1529.8 680.8L1530.0 661.9L1530.2 679.5L1530.4 659.2L1530.6 667.6L1530.7 650.8L1530.9 659.9L1531.1 643.8L1531.3 659.0L1531.5 630.9L1531.6 648.0L1531.8 630.5L1532.0 636.1L1532.0 629.8L1532.1 647.3L1532.2 636.4L1532.2 656.4L1532.3 642.3L1532.3 664.0L1532.4 644.8L1532.5 672.8L1532.5 658.0L1532.6 682.6L1532.6 661.6L1532.7 683.2L1532.7 669.0L1532.8 692.9L1532.9 677.9L1532.9 704.8L1533.0 689.8L1533.0 710.1L1533.1 696.2L1533.2 713.9L1533.2 703.6L1533.3 719.7L1533.5 714.9L1533.7 720.8L1534.0 714.9L1534.2 720.8L1534.4 714.9L1534.7 720.8L1534.9 714.9L1535.1 720.8L1535.3 717.7L1535.5 720.8L1535.7 702.8L1535.9 714.0L1536.1 696.6L1536.3 707.3L1536.5 691.6L1536.7 706.4L1536.9 678.4L1537.1 690.2L1537.3 671.4L1537.5 682.9L1537.7 669.2L1537.9 670.5L1538.2 668.5L1538.4 670.5L1538.6 668.5L1538.9 670.5L1539.1 668.5L1539.3 670.5L1539.6 668.5L1539.8 670.5L1540.0 668.5L1540.3 670.5L1540.5 668.5L1540.7 681.2L1540.9 668.5L1541.1 691.9L1541.3 673.4L1541.5 700.1L1541.7 680.1L1541.9 704.6L1542.1 693.9L1542.3 717.4L1542.5 702.0L1542.7 716.8L1542.9 709.8L1543.1 719.5L1543.3 712.2L1543.5 717.5L1543.8 700.8L1544.0 719.5L1544.2 691.3L1544.5 705.6L1544.7 685.0L1544.9 704.7L1545.2 683.2L1545.4 691.7L1545.6 682.7L1545.9 695.5L1546.1 683.5L1546.4 697.6L1546.6 691.5L1546.8 706.6L1547.1 698.1L1547.3 716.9L1547.5 699.7L1547.8 718.2L1548.0 713.2L1548.2 722.1L1548.5 712.9L1548.7 722.1L1549.0 705.5L1549.2 719.4L1549.4 701.2L1549.7 718.6L1549.9 695.7L1550.2 714.8L1550.4 687.2L1550.6 703.0L1550.9 684.1L1551.1 701.8L1551.4 684.0L1551.6 695.4L1551.9 684.0L1552.1 686.0L1552.3 680.1L1552.6 686.0L1552.8 680.1L1553.0 686.0L1553.3 680.1L1553.5 685.8L1553.7 680.1L1554.0 684.4L1554.2 680.1L1554.4 685.0L1554.7 680.1L1554.9 691.4L1555.1 680.1L1555.4 698.6L1555.6 681.1L1555.9 700.2L1556.1 688.1L1556.3 708.5L1556.6 691.4L1556.8 709.2L1557.1 700.4L1557.3 712.8L1557.5 705.0L1557.8 715.6L1558.0 707.2L1558.2 715.0L1558.5 703.7L1558.7 713.6L1558.9 700.0L1559.2 709.4L1559.4 694.3L1559.6 705.1L1559.9 694.3L1560.1 701.8L1560.3 691.7L1560.6 696.3L1560.8 691.7L1561.1 696.3L1561.3 691.7L1561.6 696.3L1561.8 693.0L1562.1 696.3L1562.3 691.7L1562.5 695.9L1562.8 691.7L1563.0 696.3L1563.3 691.7L1563.5 696.3L1563.8 691.7L1564.0 695.6L1564.3 691.7L1564.5 695.3L1564.7 691.7L1565.0 698.1L1565.2 691.7L1565.5 705.3L1565.7 696.0L1565.9 715.6L1566.2 696.4L1566.4 718.3L1566.6 702.6L1566.9 722.0L1567.1 712.3L1567.3 724.7L1567.6 720.6L1567.8 724.7L1568.0 716.0L1568.3 724.7L1568.5 705.1L1568.7 724.2L1569.0 702.3L1569.2 717.6L1569.4 699.9L1569.7 710.2L1569.9 699.5L1570.1 705.0L1570.4 699.5L1570.6 713.8L1570.8 700.8L1571.1 721.7L1571.3 712.3L1571.5 731.4L1571.8 714.4L1572.0 734.4L1572.2 719.9L1572.5 738.8L1572.7 733.5L1573.0 738.8L1573.2 727.0L1573.4 736.9L1573.7 720.8L1573.9 735.7L1574.1 714.1L1574.4 730.5L1574.6 705.9L1574.9 726.7L1575.1 707.3L1575.3 720.5L1575.6 704.6L1575.8 709.7L1576.0 704.6L1576.3 722.2L1576.5 710.9L1576.7 729.8L1577.0 716.5L1577.2 736.9L1577.4 719.3L1577.6 738.8L1577.9 732.3L1578.1 738.8L1578.3 723.0L1578.6 737.3L1578.8 712.0L1579.0 727.5L1579.3 706.8L1579.5 718.1L1579.7 702.7L1580.0 716.7L1580.2 699.5L1580.5 705.6L1580.7 699.5L1580.9 712.5L1581.2 703.8L1581.4 719.9L1581.6 701.3L1581.9 725.9L1582.1 714.3L1582.4 732.4L1582.6 715.0L1582.8 736.3L1583.1 722.5L1583.3 735.8L1583.5 733.5L1583.8 736.3L1584.0 728.9L1584.2 736.3L1584.5 722.2L1584.7 736.3L1585.0 723.1L1585.2 734.2L1585.4 720.5L1585.7 728.6L1585.9 720.1L1586.1 722.1L1586.4 718.8L1586.6 722.1L1586.9 718.8L1587.1 722.1L1587.3 718.8L1587.6 722.1L1587.8 718.8L1588.1 722.1L1588.3 718.8L1588.5 722.1L1588.8 718.8L1589.0 722.1L1589.3 718.8L1589.5 722.1L1589.8 718.8L1590.0 722.1L1590.2 719.9L1590.5 732.0L1590.7 720.7L1591.0 739.3L1591.2 724.6L1591.4 742.8L1591.7 730.1L1591.9 751.1L1592.1 734.9L1592.4 750.6L1592.6 741.7L1592.8 753.0L1593.1 746.8L1593.3 753.0L1593.6 742.0L1593.8 753.0L1594.0 741.1L1594.3 753.0L1594.5 738.8L1594.8 751.1L1595.0 733.6L1595.3 746.7L1595.5 736.4L1595.7 747.9L1596.0 730.4L1596.2 740.9L1596.5 730.4L1596.7 738.7L1597.0 730.4L1597.2 734.7L1597.4 730.4L1597.7 736.3L1597.9 730.4L1598.2 742.4L1598.4 730.6L1598.6 743.2L1598.9 732.6L1599.1 750.4L1599.4 735.8L1599.6 749.4L1599.8 743.0L1600.1 753.0L1600.3 746.6L1600.6 753.0L1600.8 744.1L1601.0 753.0L1601.2 736.6L1601.5 750.4L1601.7 732.0L1601.9 742.1L1602.1 730.2L1602.4 732.8L1602.6 729.1L1602.8 743.3L1603.1 729.1L1603.3 749.1L1603.6 729.9L1603.8 748.5L1604.1 733.2L1604.3 751.5L1604.5 739.7L1604.8 756.4L1605.0 742.2L1605.3 762.0L1605.5 746.3L1605.7 762.0L1606.0 753.5L1606.2 762.0L1606.5 760.0L1606.7 762.0L1606.9 760.0L1607.2 762.0L1607.4 760.0L1607.7 762.0L1607.9 760.0L1608.1 762.0L1608.4 760.0L1608.6 762.0L1608.8 760.0L1609.1 762.0L1609.3 757.4L1609.5 761.3L1609.6 743.3L1609.8 756.8L1609.9 736.1L1610.1 752.3L1610.2 727.8L1610.4 741.6L1610.5 719.3L1610.6 739.2L1610.8 714.5L1610.9 730.6L1611.1 707.2L1611.2 715.6L1611.4 707.2L1611.6 713.1L1611.9 707.2L1612.1 716.3L1612.4 707.2L1612.6 721.4L1612.8 707.2L1613.1 725.7L1613.3 712.6L1613.6 724.9L1613.8 714.4L1614.0 727.2L1614.3 717.7L1614.5 727.2L1614.8 718.9L1615.0 727.2L1615.3 724.0L1615.5 726.9L1615.7 715.6L1616.0 727.2L1616.2 712.0L1616.4 724.5L1616.7 707.5L1616.9 723.0L1617.1 706.7L1617.4 715.7L1617.6 704.6L1617.8 706.6L1618.1 703.6L1618.3 706.6L1618.6 698.1L1618.8 706.6L1619.0 694.0L1619.3 703.5L1619.5 694.0L1619.8 699.0L1620.0 694.0L1620.2 704.7L1620.4 696.1L1620.5 711.2L1620.7 697.1L1620.9 723.4L1621.1 710.0L1621.3 725.8L1621.5 723.1L1621.7 726.3L1621.9 710.8L1622.1 719.6L1622.3 702.8L1622.5 714.5L1622.7 697.6L1622.9 702.0L1623.1 697.6L1623.3 715.5L1623.5 700.7L1623.7 725.6L1623.9 712.2L1624.2 727.5L1624.4 721.2L1624.5 727.5L1624.7 711.0L1624.9 720.4L1625.1 701.4L1625.3 709.7L1625.5 693.5L1625.7 707.5L1625.9 689.6L1626.1 693.4L1626.3 689.7L1626.5 709.8L1626.7 694.2L1626.9 717.6L1627.1 694.5L1627.3 718.0L1627.5 710.7L1627.7 720.5L1628.0 719.4L1628.2 725.1L1628.5 719.4L1628.7 724.3L1629.0 719.4L1629.2 725.1L1629.4 719.4L1629.7 725.1L1629.9 715.8L1630.0 725.1L1630.2 701.0L1630.4 713.4L1630.6 699.5L1630.7 709.3L1630.9 696.4L1631.1 708.2L1631.3 696.4L1631.5 719.0L1631.6 703.4L1631.8 725.5L1632.0 713.6L1632.2 735.1L1632.4 721.2L1632.6 735.3L1632.8 727.2L1632.9 747.6L1633.1 736.3L1633.3 748.8L1633.6 746.1L1633.8 748.3L1634.0 746.1L1634.3 749.1L1634.5 746.1L1634.8 749.3L1635.0 746.1L1635.3 749.3L1635.5 746.1L1635.7 749.3L1636.0 746.1L1636.2 749.3L1636.5 746.1L1636.7 749.3L1637.0 745.7L1637.2 748.6L1637.4 735.9L1637.7 745.9L1637.9 726.5L1638.2 744.0L1638.4 724.3L1638.6 732.9L1638.9 724.3L1639.1 733.0L1639.4 724.3L1639.6 738.9L1639.9 727.4L1640.1 745.1L1640.3 738.5L1640.6 746.9L1640.8 738.3L1641.1 746.9L1641.3 730.2L1641.6 740.9L1641.8 723.8L1642.0 735.0L1642.3 713.9L1642.5 731.2L1642.8 713.9L1643.0 717.6L1643.2 713.9L1643.5 724.9L1643.7 714.3L1644.0 729.8L1644.2 719.4L1644.5 731.1L1644.7 719.0L1644.9 731.8L1645.2 726.6L1645.4 732.3L1645.7 727.4L1645.9 732.3L1646.2 720.3L1646.4 731.8L1646.6 720.3L1646.9 729.4L1647.1 715.4L1647.4 731.6L1647.6 716.1L1647.9 728.0L1648.1 714.3L1648.3 723.9L1648.6 711.4L1648.8 720.7L1649.1 711.4L1649.3 719.0L1649.5 711.4L1649.8 725.2L1650.0 711.4L1650.3 724.1L1650.5 714.4L1650.8 725.8L1651.0 716.1L1651.2 729.9L1651.5 721.6L1651.7 732.3L1652.0 720.9L1652.2 732.3L1652.5 725.5L1652.7 732.3L1652.9 725.6L1653.1 732.3L1653.3 714.7L1653.5 726.4L1653.7 708.5L1653.9 713.3L1654.1 708.5L1654.4 719.0L1654.6 708.5L1654.9 725.5L1655.1 710.8L1655.4 727.4L1655.6 717.3L1655.8 729.9L1656.1 724.3L1656.3 729.9L1656.6 717.5L1656.8 726.4L1657.1 713.5L1657.3 723.5L1657.5 705.5L1657.8 713.1L1658.0 701.7L1658.3 712.8L1658.5 702.1L1658.7 714.6L1659.0 702.2L1659.2 718.2L1659.5 705.0L1659.7 717.6L1660.0 704.4L1660.2 722.6L1660.4 708.8L1660.7 725.1L1660.9 716.8L1661.2 726.3L1661.4 723.1L1661.7 726.3L1661.9 723.1L1662.1 726.3L1662.4 723.1L1662.6 726.3L1662.9 723.1L1663.1 726.3L1663.4 723.1L1663.6 726.3L1663.8 721.3L1664.1 725.8L1664.3 714.3L1664.6 725.7L1664.8 709.8L1665.0 720.8L1665.3 707.2L1665.5 719.5L1665.8 707.9L1666.0 720.3L1666.3 704.2L1666.5 714.1L1666.7 704.2L1667.0 711.8L1667.2 704.2L1667.5 711.5L1667.7 704.2L1668.0 715.0L1668.2 707.3L1668.4 722.8L1668.7 712.3L1668.9 723.8L1669.2 712.9L1669.4 723.8L1669.6 720.1L1669.9 723.8L1670.1 713.4L1670.4 720.3L1670.6 706.1L1670.9 719.7L1671.1 703.6L1671.3 718.4L1671.6 703.0L1671.8 711.7L1672.1 703.0L1672.3 708.6L1672.6 703.0L1672.8 707.6L1673.0 703.0L1673.3 708.5L1673.5 703.0L1673.8 707.2L1674.0 703.0L1674.2 708.2L1674.5 703.0L1674.7 708.1L1675.0 703.0L1675.2 708.6L1675.5 703.0L1675.7 708.6L1675.9 704.3L1676.2 708.6L1676.4 703.0L1676.7 708.6L1676.9 703.4L1677.2 707.9L1677.4 703.0L1677.6 708.6L1677.9 703.0L1678.1 711.3L1678.4 706.6L1678.6 720.1L1678.8 706.6L1679.1 726.4L1679.3 710.9L1679.6 731.1L1679.8 719.5L1680.1 731.9L1680.3 722.0L1680.5 732.3L1680.8 728.3L1681.0 731.6L1681.3 720.6L1681.5 732.3L1681.8 719.4L1682.0 728.8L1682.2 719.7L1682.5 726.9L1682.7 719.4L1683.0 724.7L1683.2 719.4L1683.5 735.9L1683.7 724.0L1683.9 740.0L1684.2 722.2L1684.4 741.6L1684.7 728.1L1684.9 743.7L1685.1 734.5L1685.4 744.4L1685.6 739.1L1685.9 744.4L1686.1 737.2L1686.4 744.4L1686.6 738.9L1686.8 744.4L1687.1 736.7L1687.3 741.7L1687.6 735.6L1687.8 740.6L1688.1 734.0L1688.3 741.8L1688.5 734.0L1688.8 739.4L1689.0 734.0L1689.3 738.6L1689.5 734.0L1689.7 742.4L1690.0 734.0L1690.2 741.0L1690.5 734.0L1690.7 743.0L1691.0 735.1L1691.2 744.4L1691.4 734.5L1691.7 744.4L1691.9 736.8L1692.2 744.4L1692.4 738.8L1692.7 744.4L1692.9 735.7L1693.1 744.4L1693.4 730.0L1693.6 744.4L1693.9 730.7L1694.1 741.7L1694.3 724.3L1694.6 735.2L1694.8 724.3L1695.1 726.3L1695.3 720.6L1695.6 726.3L1695.8 719.0L1696.0 724.7L1696.3 715.4L1696.5 726.3L1696.8 715.3L1697.0 726.3L1697.3 711.4L1697.5 722.7L1697.7 711.4L1698.0 718.6L1698.2 711.4L1698.5 719.6L1698.7 711.4L1699.0 720.2L1699.2 711.4L1699.4 722.6L1699.7 711.4L1699.9 728.5L1700.2 711.4L1700.4 729.7L1700.6 715.6L1700.9 729.9L1701.1 721.4L1701.4 729.9L1701.6 722.9L1701.9 729.9L1702.1 723.5L1702.3 727.7L1702.6 715.6L1702.8 727.6L1703.1 713.9L1703.3 721.3L1703.6 713.9L1703.8 721.3L1704.0 713.9L1704.3 727.1L1704.5 716.6L1704.8 726.6L1705.0 716.2L1705.2 729.9L1705.5 719.8L1705.7 729.9L1706.0 725.1L1706.2 729.9L1706.4 711.8L1706.6 728.1L1706.8 709.5L1707.0 717.3L1707.2 700.4L1707.5 708.9L1707.7 697.6L1707.9 705.7L1708.2 697.6L1708.4 716.0L1708.6 699.4L1708.9 718.6L1709.1 706.3L1709.4 722.4L1709.6 706.6L1709.8 725.3L1710.1 717.1L1710.3 729.3L1710.6 721.7L1710.8 729.9L1711.0 721.8L1711.1 729.9L1711.2 713.0L1711.4 726.8L1711.5 703.1L1711.7 710.3L1711.8 689.1L1711.9 703.5L1712.1 683.7L1712.2 698.1L1712.4 680.7L1712.5 684.8L1712.8 680.7L1713.0 696.1L1713.2 686.3L1713.5 701.9L1713.7 689.1L1714.0 708.1L1714.2 697.5L1714.5 708.1L1714.7 700.4L1714.9 708.1L1715.2 685.5L1715.4 704.8L1715.7 680.2L1715.9 691.7L1716.1 672.1L1716.4 691.2L1716.6 671.5L1716.9 676.3L1717.1 671.5L1717.4 681.6L1717.6 671.5L1717.8 682.7L1718.1 671.5L1718.3 688.0L1718.6 674.1L1718.8 693.6L1719.1 679.6L1719.3 693.6L1719.5 683.1L1719.8 693.6L1720.0 687.3L1720.3 692.9L1720.5 681.9L1720.7 692.1L1721.0 681.4L1721.2 691.5L1721.5 679.9L1721.7 684.7L1722.0 679.9L1722.2 689.8L1722.4 679.9L1722.7 689.9L1722.9 680.2L1723.2 692.4L1723.4 682.6L1723.7 692.4L1723.9 687.9L1724.1 692.4L1724.4 683.4L1724.6 689.0L1724.9 671.4L1725.1 684.1L1725.3 669.0L1725.6 683.0L1725.8 662.0L1726.1 676.7L1726.3 658.2L1726.6 660.3L1726.8 658.2L1727.0 672.2L1727.3 660.9L1727.5 675.1L1727.8 667.1L1728.0 683.8L1728.3 665.8L1728.5 691.2L1728.7 678.8L1729.0 691.2L1729.1 678.1L1729.3 687.7L1729.4 669.9L1729.6 681.6L1729.8 662.3L1729.9 672.1L1730.1 649.7L1730.2 671.5L1730.4 649.7L1730.5 660.2L1730.7 646.0L1730.9 656.6L1731.0 646.0L1731.2 662.5L1731.4 647.7L1731.6 674.8L1731.7 659.3L1731.9 680.9L1732.1 665.8L1732.3 684.7L1732.4 674.8L1732.6 688.7L1732.7 679.3L1732.8 685.7L1733.0 667.9L1733.1 684.6L1733.2 659.5L1733.3 677.7L1733.4 650.5L1733.5 663.3L1733.6 644.5L1733.7 661.5L1733.9 636.3L1734.0 651.2L1734.1 629.1L1734.2 642.4L1734.3 629.1L1734.5 642.8L1734.8 629.1L1735.0 649.7L1735.2 629.5L1735.4 654.4L1735.6 645.8L1735.9 665.2L1736.1 647.5L1736.3 672.0L1736.5 655.8L1736.8 674.9L1737.0 669.4L1737.1 676.6L1737.2 661.5L1737.3 668.7L1737.4 646.7L1737.5 667.2L1737.7 637.6L1737.8 661.0L1737.9 632.1L1738.0 653.8L1738.1 625.8L1738.2 640.2L1738.3 621.8L1738.4 634.6L1738.6 617.0L1738.7 619.0L1738.8 604.5L1739.0 618.5L1739.1 596.9L1739.3 612.0L1739.4 588.6L1739.6 609.0L1739.7 577.4L1739.9 595.5L1740.0 575.4L1740.2 588.0L1740.3 568.5L1740.5 578.9L1740.6 563.7L1740.8 570.5L1741.1 563.7L1741.3 570.5L1741.6 563.7L1741.8 570.5L1742.1 564.8L1742.3 570.5L1742.5 563.7L1742.8 570.5L1743.0 563.7L1743.3 570.5L1743.5 563.7L1743.8 570.0L1744.0 563.7L1744.2 576.9L1744.4 563.7L1744.6 588.1L1744.8 570.8L1745.0 596.5L1745.2 574.6L1745.4 600.0L1745.6 585.8L1745.8 611.8L1746.0 594.2L1746.2 613.7L1746.4 606.8L1746.7 613.7L1746.9 600.7L1747.1 612.6L1747.4 597.7L1747.6 612.2L1747.9 590.3L1748.1 605.9L1748.4 590.3L1748.6 602.4L1748.8 594.2L1749.1 610.9L1749.3 593.1L1749.6 617.0L1749.8 608.1L1750.1 630.7L1750.3 611.6L1750.5 631.8L1750.8 625.3L1751.0 631.8L1751.3 612.5L1751.5 631.8L1751.7 608.9L1752.0 627.4L1752.2 597.8L1752.5 614.7L1752.7 597.4L1753.0 611.8L1753.2 595.2L1753.4 606.7L1753.7 595.2L1753.9 617.7L1754.2 603.0L1754.4 629.1L1754.7 608.4L1754.9 632.4L1755.1 618.8L1755.4 633.0L1755.6 629.7L1755.9 633.0L1756.1 617.1L1756.3 630.3L1756.6 613.9L1756.8 624.9L1757.1 602.2L1757.3 614.4L1757.6 597.6L1757.8 609.8L1758.0 597.6L1758.2 607.9L1758.4 597.6L1758.6 621.1L1758.7 603.2L1758.9 626.9L1759.1 615.8L1759.3 636.7L1759.4 617.2L1759.6 639.4L1759.8 631.6L1759.9 647.4L1760.1 638.2L1760.3 653.6L1760.5 651.1L1760.7 653.6L1760.9 633.3L1761.2 648.6L1761.4 624.9L1761.7 642.7L1761.9 622.0L1762.2 631.2L1762.4 614.6L1762.6 623.2L1762.9 614.6L1763.1 624.3L1763.4 614.6L1763.6 636.0L1763.9 618.8L1764.1 640.0L1764.3 624.9L1764.6 650.3L1764.8 635.6L1765.1 653.6L1765.3 649.0L1765.5 653.6L1765.8 639.9L1766.0 651.8L1766.3 631.2L1766.5 639.2L1766.8 615.2L1767.0 635.6L1767.2 613.3L1767.5 626.2L1767.7 613.3L1768.0 625.4L1768.2 613.3L1768.5 635.9L1768.7 621.2L1768.9 649.8L1769.2 628.2L1769.4 654.8L1769.7 642.4L1769.9 654.8L1770.2 649.6L1770.4 654.8L1770.6 642.0L1770.9 654.8L1771.1 638.7L1771.4 652.5L1771.6 635.2L1771.8 653.3L1772.1 631.9L1772.3 642.9L1772.6 631.0L1772.8 641.6L1773.1 631.0L1773.3 642.7L1773.5 631.0L1773.8 649.9L1774.0 631.2L1774.3 645.1L1774.5 632.4L1774.8 656.0L1775.0 638.5L1775.2 656.0L1775.5 641.0L1775.7 656.0L1776.0 646.2L1776.2 656.0L1776.4 649.7L1776.7 654.6L1776.9 645.4L1777.2 652.9L1777.4 639.2L1777.7 650.7L1777.9 637.1L1778.1 645.8L1778.4 637.1L1778.6 639.1L1778.9 635.1L1779.1 639.1L1779.4 636.3L1779.6 639.1L1779.8 635.1L1780.1 639.1L1780.3 635.1L1780.6 639.1L1780.8 635.1L1781.0 639.1L1781.3 635.1L1781.5 639.1L1781.8 635.1L1782.0 639.1L1782.3 635.1L1782.5 646.9L1782.7 635.1L1783.0 649.2L1783.2 638.4L1783.5 656.4L1783.7 644.1L1784.0 657.2L1784.2 647.8L1784.4 657.2L1784.7 652.2L1784.9 657.2L1785.2 639.3L1785.4 653.6L1785.7 633.1L1785.9 654.9L1786.1 632.2L1786.4 642.1L1786.6 621.4L1786.9 638.3L1787.1 617.0L1787.3 625.2L1787.6 612.1L1787.8 619.0L1788.1 614.1L1788.3 619.0L1788.6 612.1L1788.8 618.5L1789.0 612.1L1789.3 619.0L1789.5 612.1L1789.8 619.0L1790.0 612.2L1790.3 618.6L1790.5 612.1L1790.7 618.8L1791.0 612.1L1791.2 616.6L1791.5 612.1L1791.7 633.0L1791.9 617.7L1792.2 639.9L1792.4 622.1L1792.7 641.4L1792.9 630.1L1793.2 651.0L1793.4 641.7L1793.6 657.2L1793.9 650.9L1794.1 657.2L1794.4 638.1L1794.6 654.1L1794.9 632.3L1795.1 653.3L1795.3 627.8L1795.6 642.2L1795.8 627.4L1796.1 637.1L1796.3 627.4L1796.5 633.2L1796.8 627.4L1797.0 634.9L1797.3 627.4L1797.5 642.2L1797.8 627.8L1798.0 649.5L1798.2 627.9L1798.5 646.7L1798.7 635.7L1799.0 651.2L1799.2 639.5L1799.5 651.2L1799.7 642.1L1799.9 651.2L1800.2 640.9L1800.4 654.7L1800.7 649.2L1800.9 664.5L1801.2 651.6L1801.4 664.2L1801.6 649.2L1801.9 672.1L1802.1 652.1L1802.4 674.2L1802.6 658.2L1802.8 676.6L1803.1 660.7L1803.3 676.6L1803.6 674.6L1803.8 680.6L1804.1 674.6L1804.3 687.8L1804.5 674.6L1804.8 686.5L1805.0 674.6L1805.3 687.3L1805.5 678.8L1805.8 691.2L1806.0 682.2L1806.2 691.2L1806.5 687.8L1806.7 691.2L1807.0 678.0L1807.2 691.2L1807.4 676.7L1807.7 687.9L1807.9 668.5L1808.2 687.3L1808.4 662.9L1808.7 680.9L1808.9 663.6L1809.1 674.1L1809.4 660.1L1809.6 675.3L1809.9 660.1L1810.1 662.1L1810.4 657.0L1810.6 662.1L1810.8 657.8L1811.1 661.6L1811.3 655.2L1811.6 662.1L1811.8 656.4L1812.0 660.4L1812.3 655.2L1812.5 657.2L1812.8 650.9L1813.0 657.2L1813.3 645.7L1813.5 655.4L1813.7 647.4L1814.0 653.7L1814.2 645.6L1814.5 654.8L1814.7 645.6L1815.0 651.4L1815.2 645.6L1815.4 653.3L1815.7 645.6L1815.9 659.3L1816.2 645.6L1816.4 659.8L1816.6 648.1L1816.9 666.9L1817.1 652.0L1817.4 666.9L1817.6 653.7L1817.9 666.9L1818.1 661.9L1818.3 666.9L1818.6 651.3L1818.8 666.9L1819.1 648.6L1819.3 662.9L1819.6 638.6L1819.8 652.8L1820.0 635.0L1820.3 649.0L1820.5 633.0L1820.8 642.9L1821.0 632.7L1821.3 634.7L1821.5 632.7L1821.7 634.7L1822.0 632.7L1822.2 634.7L1822.5 632.7L1822.7 634.7L1822.9 632.7L1823.2 634.7L1823.4 632.7L1823.7 634.7L1823.9 632.7L1824.2 634.7L1824.4 632.7L1824.6 634.7L1824.9 632.7L1825.1 634.7L1825.4 632.7L1825.6 634.7L1825.9 632.7L1826.1 639.9L1826.3 632.7L1826.6 653.7L1826.8 632.7L1827.1 660.3L1827.3 643.8L1827.5 662.1L1827.8 647.0L1828.0 662.1L1828.3 657.0L1828.5 662.1L1828.8 655.5L1829.0 661.8L1829.2 649.9L1829.5 661.9L1829.7 649.1L1830.0 655.9L1830.2 647.3L1830.5 660.0L1830.7 646.8L1830.9 655.3L1831.2 646.8L1831.4 650.5L1831.7 646.8L1831.9 649.0L1832.1 646.8L1832.4 650.5L1832.6 646.8L1832.9 650.5L1833.1 646.8L1833.4 650.5L1833.6 646.8L1833.8 650.5L1834.1 646.8L1834.3 650.5L1834.6 647.0L1834.8 650.5L1835.1 646.8L1835.3 650.5L1835.5 648.5L1835.8 656.9L1836.0 648.5L1836.3 663.4L1836.5 649.5L1836.8 663.1L1837.0 651.6L1837.2 666.9L1837.5 657.7L1837.7 666.9L1838.0 662.5L1838.2 666.9L1838.4 656.2L1838.7 666.9L1838.9 650.9L1839.2 663.3L1839.4 640.2L1839.7 661.4L1839.9 638.7L1840.1 654.5L1840.4 636.9L1840.6 644.2L1840.9 635.9L1841.1 642.3L1841.4 635.9L1841.6 646.8L1841.8 638.1L1842.1 650.4L1842.3 638.5L1842.6 653.5L1842.8 639.5L1843.0 657.2L1843.3 647.6L1843.5 657.2L1843.8 650.1L1844.0 657.2L1844.2 647.5L1844.4 657.2L1844.7 634.5L1844.9 654.3L1845.1 625.8L1845.3 638.1L1845.5 624.2L1845.7 626.2L1846.0 610.7L1846.2 623.4L1846.4 600.7L1846.7 618.3L1846.9 596.3L1847.2 608.1L1847.4 586.6L1847.6 601.6L1847.9 585.5L1848.1 593.2L1848.4 585.5L1848.6 595.1L1848.9 587.7L1849.1 605.8L1849.3 589.8L1849.6 613.7L1849.8 588.3L1850.1 613.7L1850.3 594.5L1850.6 613.7L1850.8 603.0L1851.0 613.7L1851.3 608.7L1851.5 613.7L1851.7 594.3L1851.8 609.0L1852.0 585.1L1852.2 599.5L1852.4 584.2L1852.6 598.3L1852.8 578.2L1853.0 583.7L1853.2 578.2L1853.5 594.0L1853.7 581.6L1853.9 604.0L1854.2 590.8L1854.4 604.0L1854.7 595.8L1854.9 604.0L1855.2 597.2L1855.4 604.0L1855.6 580.4L1855.9 604.0L1856.1 573.6L1856.4 594.8L1856.6 571.0L1856.9 573.0L1857.1 568.8L1857.3 573.0L1857.6 564.4L1857.8 573.0L1858.1 564.4L1858.3 573.0L1858.5 562.8L1858.8 573.0L1859.0 562.3L1859.3 572.7L1859.5 561.3L1859.8 570.9L1860.0 559.1L1860.2 563.3L1860.5 559.9L1860.7 563.3L1861.0 557.5L1861.2 559.5L1861.5 549.9L1861.7 559.3L1862.0 538.7L1862.2 559.5L1862.5 536.7L1862.7 546.5L1863.0 536.7L1863.2 547.8L1863.4 538.5L1863.6 548.0L1863.9 536.7L1864.1 548.0L1864.3 541.1L1864.5 548.0L1864.7 534.3L1864.9 548.0L1865.1 523.4L1865.3 539.6L1865.5 523.4L1865.8 529.1L1866.0 523.4L1866.3 532.4L1866.5 523.4L1866.8 534.9L1867.0 528.4L1867.3 534.9L1867.5 529.0L1867.8 534.9L1868.0 527.3L1868.2 534.9L1868.4 524.5L1868.6 534.9L1868.9 519.1L1869.1 529.5L1869.3 519.1L1869.5 533.6L1869.7 519.1L1869.9 542.4L1870.1 528.4L1870.3 547.4L1870.4 530.3L1870.6 553.4L1870.8 540.3L1871.0 558.0L1871.2 550.5L1871.4 557.6L1871.7 541.9L1871.9 555.2L1872.1 534.4L1872.3 542.2L1872.6 534.4L1872.8 545.7L1873.0 534.4L1873.3 559.7L1873.5 539.8L1873.7 559.7L1874.0 552.2L1874.2 559.7L1874.4 546.7L1874.6 557.0L1874.9 544.3L1875.1 552.7L1875.3 544.3L1875.6 555.2L1875.8 544.3L1876.0 557.5L1876.2 546.7L1876.5 557.5L1876.7 553.0L1876.8 557.5L1876.9 537.9L1877.0 555.6L1877.2 533.5L1877.3 547.6L1877.4 523.6L1877.5 544.5L1877.6 520.8L1877.7 536.1L1877.8 513.3L1878.0 529.2L1878.1 508.6L1878.3 512.7L1878.5 495.9L1878.7 512.7L1878.9 493.8L1879.1 502.4L1879.2 493.8L1879.3 515.4L1879.5 495.0L1879.6 518.8L1879.7 506.4L1879.8 518.8L1879.9 509.3L1880.0 518.8L1880.1 502.4L1880.2 518.8L1880.3 488.5L1880.4 509.5L1880.4 480.2L1880.5 502.6L1880.6 480.7L1880.7 493.9L1880.8 475.8L1881.0 475.8L1881.2 464.9L1881.3 475.4L1881.5 460.2L1881.6 470.6L1881.7 460.2L1881.8 481.7L1881.9 465.5L1882.0 481.7L1882.1 473.7L1882.1 481.7L1882.1 457.8L1882.2 481.3L1882.2 454.4L1882.3 467.7L1882.3 438.8L1882.4 458.3L1882.4 437.4L1882.4 458.3L1882.5 428.0L1882.5 450.6L1882.6 416.2L1882.6 442.6L1882.6 418.6L1882.7 433.9L1882.7 413.1L1882.8 425.3L1883.0 413.1L1883.1 434.8L1883.2 421.5L1883.4 446.0L1883.5 433.3L1883.6 446.0L1883.7 444.7L1884.0 459.6L1884.2 447.7L1884.4 459.6L1884.6 452.9L1884.8 459.6L1884.9 434.1L1885.1 459.6L1885.2 427.7L1885.4 446.1L1885.5 427.7L1885.7 439.0L1885.8 424.0L1886.0 429.7L1886.3 419.6L1886.5 429.7L1886.8 419.6L1887.0 425.3L1887.2 419.9L1887.4 438.2L1887.6 419.6L1887.8 446.7L1888.0 430.3L1888.2 446.7L1888.4 442.8L1888.6 446.7L1888.9 426.6L1889.1 445.7L1889.4 424.6L1889.6 439.1L1889.9 424.6L1890.1 434.8L1890.2 424.6L1890.4 438.6L1890.5 424.6L1890.7 443.5L1890.8 435.0L1891.0 443.5L1891.1 427.0L1891.3 442.6L1891.5 427.0L1891.7 437.6L1891.9 427.0L1892.1 438.3L1892.3 427.0L1892.5 438.3L1892.7 426.9L1892.8 438.3L1893.0 411.6L1893.1 438.2L1893.2 412.9L1893.4 423.9L1893.5 408.4L1893.6 413.6L1893.7 391.5L1893.8 410.0L1893.9 384.7L1894.0 413.6L1894.1 377.6L1894.2 396.4L1894.3 377.6L1894.4 379.6L1894.5 363.3L1894.7 379.4L1894.8 360.7L1894.9 379.6L1895.1 358.9L1895.2 362.7L1895.3 342.1L1895.4 362.7L1895.5 333.6L1895.6 358.1L1895.7 333.6L1895.8 342.7L1895.9 333.6L1896.1 342.7L1896.2 333.7L1896.2 342.3L1896.3 322.7L1896.3 342.7L1896.4 311.6L1896.4 340.1L1896.5 305.9L1896.5 319.5L1896.6 301.4L1896.6 303.4L1896.7 288.6L1896.7 303.4L1896.8 276.8L1896.8 298.2L1896.8 273.1L1896.9 296.5L1896.9 273.1L1897.0 274.1"/>
<path id="gold" stroke="#002557" d="M251.7 995.6L251.9 995.7L252.2 995.6L252.4 995.8L252.7 995.6L252.9 995.8L253.2 995.7L253.4 995.9L253.6 995.6L253.9 995.8L254.1 995.7L254.4 995.8L254.6 995.7L254.9 995.9L255.1 995.7L255.4 995.9L255.6 995.8L255.9 996.0L256.1 995.8L256.4 996.0L256.6 995.7L256.9 996.0L257.1 995.8L257.3 996.1L257.6 995.8L257.8 996.0L258.1 995.9L258.3 996.0L258.6 995.9L258.8 996.1L259.1 995.9L259.3 996.1L259.6 996.0L259.8 996.2L260.1 996.0L260.3 996.3L260.5 996.0L260.8 996.2L261.0 996.1L261.3 996.3L261.5 996.0L261.8 996.3L262.0 996.1L262.3 996.4L262.5 996.1L262.8 996.4L263.0 996.2L263.3 996.4L263.5 996.2L263.7 996.5L264.0 996.3L264.2 996.5L264.5 996.3L264.7 996.5L265.0 996.3L265.2 996.5L265.5 996.4L265.7 996.5L266.0 996.4L266.2 996.5L266.5 996.4L266.7 996.5L267.0 996.5L267.2 996.5L267.5 996.4L267.7 996.5L267.9 996.3L268.2 996.4L268.4 996.3L268.7 996.4L268.9 996.2L269.2 996.4L269.4 996.1L269.7 996.3L269.9 996.1L270.2 996.3L270.4 996.0L270.7 996.2L270.9 996.0L271.2 996.3L271.4 995.9L271.7 996.2L271.9 995.9L272.2 996.1L272.4 995.8L272.7 996.1L272.9 995.8L273.2 996.0L273.4 995.8L273.7 996.0L273.9 995.6L274.2 995.9L274.4 995.6L274.7 995.8L274.9 995.6L275.2 995.8L275.4 995.6L275.7 995.7L275.9 995.5L276.2 995.6L276.4 995.5L276.7 995.6L276.9 995.5L277.2 995.6L277.4 995.5L277.7 995.6L277.9 995.4L278.2 995.6L278.4 995.4L278.7 995.5L278.9 995.4L279.2 995.5L279.4 995.3L279.7 995.5L279.9 995.3L280.2 995.5L280.4 995.3L280.7 995.4L280.9 995.3L281.2 995.5L281.4 995.3L281.7 995.4L281.9 995.2L282.2 995.4L282.4 995.1L282.7 995.4L282.9 995.2L283.2 995.3L283.4 995.1L283.7 995.4L283.9 995.1L284.2 995.3L284.4 995.1L284.7 995.4L284.9 995.1L285.2 995.3L285.4 995.0L285.7 995.2L285.9 995.0L286.2 995.2L286.4 995.0L286.7 995.2L286.9 994.9L287.2 995.2L287.4 994.9L287.7 995.1L287.9 994.9L288.2 995.1L288.4 994.9L288.7 995.1L288.9 994.9L289.2 995.1L289.4 994.9L289.7 995.0L289.9 994.8L290.2 995.0L290.4 994.8L290.7 995.0L290.9 994.7L291.2 994.9L291.4 994.7L291.7 994.9L291.9 994.8L292.2 994.9L292.4 994.7L292.7 994.8L292.9 994.7L293.2 994.8L293.4 994.7L293.7 994.8L293.9 994.7L294.1 994.8L294.4 994.7L294.6 994.8L294.9 994.7L295.1 994.8L295.4 994.7L295.6 994.8L295.9 994.7L296.1 994.8L296.4 994.7L296.6 994.8L296.8 994.7L297.1 994.8L297.3 994.7L297.6 994.8L297.8 994.7L298.1 994.8L298.3 994.7L298.6 994.8L298.8 994.7L299.0 994.8L299.3 994.7L299.5 994.8L299.8 994.7L300.0 994.7L300.3 994.7L300.5 994.8L300.8 994.7L301.0 994.7L301.3 994.7L301.5 994.8L301.7 994.7L302.0 994.8L302.2 994.7L302.5 994.7L302.7 994.7L303.0 994.8L303.2 994.7L303.5 994.8L303.7 994.7L303.9 994.8L304.2 994.7L304.4 994.8L304.7 994.6L304.9 994.8L305.2 994.5L305.4 994.7L305.7 994.3L305.9 994.6L306.2 994.2L306.4 994.5L306.6 994.1L306.9 994.5L307.1 994.1L307.4 994.5L307.6 994.0L307.9 994.5L308.1 994.0L308.4 994.4L308.6 993.9L308.8 994.3L309.1 993.8L309.3 994.2L309.6 993.7L309.8 994.2L310.1 993.5L310.3 993.9L310.6 993.4L310.8 993.9L311.1 993.5L311.3 993.8L311.5 993.2L311.8 993.8L312.0 993.3L312.3 993.7L312.5 993.3L312.8 993.5L313.0 993.1L313.3 993.5L313.5 993.1L313.7 993.5L314.0 993.0L314.2 993.3L314.5 993.0L314.7 993.3L315.0 992.9L315.2 993.1L315.5 992.8L315.7 992.9L316.0 992.5L316.2 993.0L316.4 992.4L316.7 992.8L316.9 992.1L317.2 992.8L317.4 992.0L317.7 992.6L317.9 992.0L318.2 992.4L318.4 991.8L318.7 992.3L318.9 991.5L319.2 992.3L319.4 991.6L319.7 991.9L319.9 991.4L320.1 991.9L320.4 991.2L320.6 991.6L320.9 990.8L321.1 991.6L321.4 990.7L321.6 991.4L321.9 990.8L322.1 991.5L322.4 990.6L322.6 991.2L322.9 990.3L323.1 991.3L323.4 990.4L323.6 991.1L323.8 990.2L324.1 990.9L324.3 990.1L324.6 990.8L324.8 990.0L325.1 990.4L325.3 989.8L325.6 990.4L325.8 989.6L326.1 990.2L326.3 989.5L326.6 990.1L326.8 989.5L327.1 989.9L327.3 989.2L327.5 989.6L327.8 989.2L328.0 989.5L328.3 989.3L328.5 989.6L328.8 989.2L329.0 989.9L329.3 989.3L329.5 989.9L329.8 989.5L330.0 989.9L330.3 989.7L330.5 990.2L330.8 989.6L331.0 990.5L331.3 989.6L331.5 990.4L331.8 989.9L332.0 990.7L332.3 989.7L332.5 991.0L332.8 989.7L333.0 990.8L333.3 989.8L333.5 991.2L333.8 990.3L334.0 991.1L334.3 990.4L334.5 991.7L334.8 990.5L335.0 991.6L335.3 990.3L335.5 991.7L335.8 990.6L336.0 991.7L336.3 990.8L336.5 991.9L336.8 991.1L337.0 992.0L337.3 990.7L337.5 991.9L337.8 989.9L338.0 992.1L338.3 989.6L338.5 991.8L338.8 989.5L339.0 991.8L339.3 989.6L339.5 991.1L339.8 989.3L340.0 991.6L340.3 989.1L340.5 990.7L340.8 988.7L341.0 991.2L341.3 988.6L341.5 991.3L341.8 987.7L342.0 990.7L342.3 988.2L342.5 989.9L342.8 987.6L343.0 989.6L343.3 987.8L343.5 989.9L343.8 986.8L344.0 989.9L344.3 986.5L344.5 989.1L344.8 986.5L345.0 989.6L345.3 986.5L345.5 988.7L345.8 986.6L346.0 988.3L346.3 985.7L346.5 987.9L346.8 985.5L347.0 987.7L347.2 984.0L347.5 988.1L347.7 984.3L348.0 988.1L348.2 983.7L348.5 987.3L348.7 983.8L349.0 988.1L349.2 983.4L349.5 986.4L349.7 982.7L350.0 985.6L350.2 981.4L350.5 985.0L350.7 982.2L351.0 984.7L351.2 980.7L351.5 984.3L351.7 981.1L352.0 983.8L352.2 980.8L352.5 985.1L352.7 980.2L352.9 984.5L353.2 980.2L353.4 984.1L353.7 980.4L353.9 985.0L354.2 980.2L354.4 985.6L354.7 980.9L354.9 984.2L355.2 980.2L355.4 985.5L355.6 981.2L355.9 985.2L356.1 981.8L356.4 986.8L356.6 982.4L356.9 986.4L357.1 982.4L357.4 986.6L357.6 983.2L357.9 986.6L358.1 982.5L358.3 986.9L358.6 983.8L358.8 986.2L359.1 983.8L359.3 986.6L359.6 984.0L359.8 986.9L360.1 983.8L360.3 987.8L360.6 983.8L360.8 987.7L361.1 983.8L361.3 986.7L361.6 984.3L361.8 986.6L362.1 984.6L362.3 986.9L362.6 983.9L362.8 987.4L363.0 984.5L363.3 987.8L363.5 984.3L363.8 987.8L364.0 984.0L364.3 987.8L364.5 983.8L364.8 987.8L365.0 984.7L365.3 987.6L365.5 985.0L365.8 987.6L366.0 984.2L366.3 986.7L366.5 981.9L366.8 987.4L367.0 981.1L367.3 986.7L367.5 979.7L367.8 987.4L368.0 978.4L368.3 984.0L368.5 979.6L368.7 985.3L369.0 977.0L369.2 983.5L369.5 976.7L369.7 984.3L370.0 976.1L370.2 982.9L370.5 974.4L370.7 979.9L371.0 974.7L371.2 981.2L371.5 974.9L371.7 980.5L372.0 973.0L372.2 977.7L372.5 973.0L372.7 977.2L373.0 973.2L373.2 976.0L373.5 973.1L373.7 976.2L374.0 972.4L374.2 975.7L374.5 971.2L374.7 975.2L375.0 972.2L375.2 976.2L375.5 971.2L375.7 975.1L376.0 971.7L376.2 975.2L376.5 971.2L376.7 974.2L377.0 971.2L377.2 975.6L377.5 971.2L377.7 976.1L377.9 971.2L378.2 975.5L378.4 971.6L378.7 976.2L378.9 971.2L379.1 977.9L379.4 972.1L379.6 977.5L379.9 973.4L380.1 979.5L380.4 972.0L380.6 978.7L380.8 974.2L381.1 979.0L381.3 975.5L381.6 979.3L381.8 976.1L382.0 981.6L382.3 976.3L382.5 981.6L382.8 976.9L383.0 981.5L383.3 977.5L383.5 981.5L383.7 978.8L384.0 980.9L384.2 976.7L384.5 981.2L384.7 977.6L385.0 980.5L385.2 977.9L385.5 981.1L385.7 976.1L386.0 980.0L386.2 975.4L386.5 981.0L386.7 976.0L387.0 980.2L387.2 974.9L387.5 979.2L387.7 976.3L388.0 979.7L388.2 974.9L388.4 980.2L388.7 976.2L388.9 978.6L389.2 975.2L389.4 979.7L389.7 974.8L389.9 978.7L390.2 974.9L390.4 979.3L390.7 974.8L390.9 978.0L391.2 973.7L391.4 977.4L391.7 972.9L391.9 978.0L392.2 973.5L392.4 976.6L392.6 973.8L392.9 977.2L393.1 971.3L393.4 976.4L393.6 972.1L393.9 976.8L394.1 971.0L394.4 977.1L394.6 972.3L394.8 977.1L395.1 971.8L395.3 976.0L395.6 971.6L395.8 974.3L396.1 969.7L396.3 974.1L396.6 969.4L396.8 975.9L397.1 969.9L397.3 974.5L397.5 970.3L397.8 974.5L398.0 970.2L398.3 972.6L398.5 969.5L398.8 972.9L399.0 969.4L399.3 973.1L399.5 969.8L399.8 973.7L400.0 969.4L400.3 974.0L400.5 969.4L400.8 974.3L401.0 970.3L401.2 973.3L401.5 969.5L401.7 973.8L402.0 969.4L402.2 973.8L402.5 969.4L402.7 974.6L403.0 969.5L403.2 973.2L403.5 971.0L403.7 973.5L404.0 969.9L404.2 974.0L404.5 970.8L404.7 975.3L405.0 969.7L405.2 974.2L405.5 971.3L405.7 976.0L406.0 971.7L406.2 976.2L406.5 971.8L406.7 975.3L407.0 972.2L407.2 974.6L407.5 972.1L407.7 976.0L408.0 971.3L408.2 976.2L408.5 972.7L408.7 975.3L409.0 972.6L409.2 976.2L409.4 971.8L409.7 975.3L409.9 971.9L410.2 976.2L410.4 971.7L410.7 975.9L410.9 973.4L411.2 976.9L411.4 973.0L411.7 977.6L411.9 973.0L412.2 977.4L412.4 973.0L412.7 977.1L412.9 973.2L413.2 976.7L413.4 974.3L413.7 978.1L413.9 973.9L414.2 978.7L414.4 974.5L414.7 978.0L414.9 973.5L415.2 979.1L415.4 974.6L415.7 978.2L415.9 975.0L416.2 979.6L416.4 973.9L416.7 979.3L416.9 974.6L417.2 978.8L417.4 975.1L417.7 979.2L417.9 975.5L418.2 978.9L418.4 975.9L418.7 979.8L418.9 976.0L419.2 979.4L419.4 975.6L419.7 979.3L419.9 976.6L420.2 979.3L420.4 977.3L420.7 980.9L420.9 977.0L421.2 979.8L421.4 977.5L421.7 980.4L421.9 976.6L422.2 980.6L422.4 976.6L422.7 981.3L422.9 977.8L423.2 981.7L423.4 977.4L423.7 981.6L423.9 976.6L424.2 980.6L424.4 977.6L424.7 981.6L424.9 977.6L425.2 980.9L425.4 977.1L425.7 982.4L425.9 977.6L426.2 981.9L426.4 978.9L426.7 982.4L426.9 978.7L427.2 982.1L427.4 977.9L427.7 982.4L427.9 978.0L428.2 982.4L428.4 978.7L428.7 982.1L428.9 979.4L429.2 981.8L429.4 979.9L429.7 982.5L429.9 979.7L430.2 982.9L430.4 979.3L430.7 982.6L430.9 979.6L431.2 982.8L431.4 979.3L431.7 983.3L431.9 979.3L432.2 983.3L432.4 980.0L432.7 983.3L432.9 979.3L433.1 982.5L433.4 979.3L433.6 983.1L433.9 979.3L434.1 983.3L434.4 979.3L434.6 983.3L434.9 979.3L435.1 982.6L435.4 979.6L435.6 983.3L435.9 979.3L436.1 983.1L436.4 980.0L436.6 982.6L436.9 980.4L437.1 983.3L437.4 979.3L437.6 983.3L437.9 980.6L438.1 983.0L438.4 980.2L438.6 984.7L438.9 981.1L439.1 984.3L439.4 980.2L439.6 984.7L439.9 981.4L440.1 984.4L440.4 981.5L440.6 984.2L440.9 980.6L441.1 985.9L441.4 981.0L441.6 986.0L441.9 980.3L442.1 985.9L442.4 981.0L442.6 984.9L442.9 981.4L443.1 986.5L443.4 981.2L443.6 986.9L443.9 982.1L444.1 986.3L444.4 982.5L444.6 986.5L444.9 982.8L445.1 986.9L445.4 982.4L445.6 986.9L445.9 982.4L446.1 986.4L446.4 983.9L446.6 986.7L446.9 983.0L447.1 986.7L447.4 981.8L447.6 986.9L447.9 982.9L448.1 985.9L448.4 980.5L448.6 986.9L448.9 980.1L449.1 985.0L449.4 981.3L449.6 985.3L449.8 979.8L450.1 984.0L450.3 979.2L450.6 984.0L450.8 980.4L451.1 984.4L451.3 979.8L451.6 984.8L451.8 979.1L452.1 983.9L452.3 979.4L452.6 982.5L452.8 978.4L453.1 981.9L453.3 978.6L453.6 982.2L453.8 978.9L454.1 981.2L454.3 977.6L454.5 980.8L454.8 978.0L455.0 981.0L455.3 977.7L455.5 980.5L455.8 977.4L456.0 981.5L456.3 978.2L456.5 981.5L456.8 978.3L457.0 981.4L457.2 978.1L457.5 980.9L457.7 976.6L458.0 980.5L458.2 977.6L458.5 981.5L458.7 977.8L459.0 980.9L459.2 977.2L459.4 980.8L459.7 977.7L459.9 980.8L460.2 976.6L460.4 981.0L460.7 976.6L460.9 980.1L461.2 976.7L461.4 980.0L461.7 977.2L461.9 979.6L462.1 977.3L462.4 981.2L462.6 976.6L462.9 979.6L463.1 977.3L463.4 980.7L463.6 976.9L463.9 979.7L464.1 976.9L464.3 979.7L464.6 977.1L464.8 979.8L465.1 976.6L465.3 979.5L465.6 976.9L465.8 980.7L466.1 977.2L466.3 980.7L466.6 976.7L466.8 979.8L467.1 976.6L467.3 980.7L467.6 977.3L467.8 980.6L468.1 976.6L468.3 979.5L468.6 977.0L468.8 980.2L469.1 977.5L469.3 980.3L469.6 976.7L469.8 979.8L470.1 977.3L470.3 980.6L470.6 976.6L470.8 980.2L471.1 977.1L471.3 980.7L471.6 976.6L471.8 980.3L472.1 977.7L472.3 980.0L472.6 976.6L472.8 980.7L473.1 976.9L473.3 980.3L473.6 977.7L473.8 980.1L474.1 976.8L474.3 980.7L474.6 976.1L474.8 980.5L475.1 975.8L475.3 980.3L475.6 976.4L475.8 979.6L476.1 976.1L476.3 980.4L476.6 976.1L476.8 979.7L477.1 976.4L477.3 980.5L477.6 976.5L477.8 979.1L478.1 975.0L478.3 979.5L478.6 974.8L478.8 978.8L479.1 976.0L479.3 980.0L479.6 975.6L479.8 979.1L480.1 974.8L480.3 979.8L480.6 975.4L480.8 977.9L481.1 975.1L481.3 977.8L481.6 975.1L481.8 977.5L482.1 974.8L482.3 978.0L482.6 974.9L482.8 978.0L483.1 973.8L483.3 977.3L483.5 974.5L483.8 978.0L484.0 974.8L484.3 977.8L484.5 973.7L484.8 978.0L485.0 973.4L485.3 977.3L485.5 973.0L485.7 977.9L486.0 973.1L486.2 978.0L486.5 972.5L486.7 977.6L487.0 972.7L487.2 977.7L487.5 973.0L487.7 976.3L488.0 973.9L488.2 976.4L488.4 973.2L488.7 977.5L488.9 972.8L489.2 977.2L489.4 972.5L489.7 977.4L489.9 972.1L490.2 976.2L490.4 973.2L490.6 976.2L490.9 972.3L491.1 977.0L491.4 972.1L491.6 976.2L491.9 972.6L492.1 976.8L492.4 972.1L492.6 976.3L492.9 972.1L493.1 975.7L493.3 972.3L493.6 975.2L493.8 971.9L494.1 975.3L494.3 972.0L494.6 975.3L494.8 971.9L495.1 975.3L495.3 971.4L495.6 974.4L495.8 971.2L496.1 975.3L496.3 971.2L496.6 975.1L496.8 971.2L497.1 975.3L497.3 971.9L497.6 974.4L497.8 971.2L498.0 974.1L498.3 971.2L498.5 975.0L498.8 971.2L499.0 974.0L499.3 971.2L499.5 974.1L499.8 971.2L500.0 974.8L500.3 971.6L500.5 974.4L500.8 969.8L501.0 974.3L501.3 970.4L501.5 974.4L501.8 969.6L502.0 972.7L502.2 968.0L502.5 973.7L502.7 967.8L503.0 972.4L503.2 966.9L503.5 973.1L503.7 965.8L504.0 972.1L504.2 967.1L504.4 972.2L504.7 965.7L504.9 969.7L505.2 966.1L505.4 969.6L505.7 965.7L505.9 968.5L506.2 964.2L506.4 968.6L506.7 965.4L506.9 969.0L507.1 964.6L507.4 969.1L507.6 964.8L507.9 969.1L508.1 963.1L508.4 968.6L508.6 963.3L508.9 968.5L509.1 962.6L509.3 966.8L509.6 963.5L509.8 966.2L510.1 962.1L510.3 965.6L510.6 962.1L510.8 966.6L511.1 962.1L511.3 965.7L511.5 962.1L511.8 966.9L512.0 963.1L512.3 967.2L512.5 963.0L512.7 969.3L513.0 962.1L513.2 969.9L513.5 964.4L513.7 970.8L513.9 964.4L514.2 970.8L514.4 964.8L514.7 970.7L514.9 967.1L515.1 970.5L515.4 965.9L515.6 970.8L515.9 964.3L516.1 970.1L516.4 965.0L516.6 968.9L516.8 964.7L517.1 969.5L517.3 962.1L517.6 968.1L517.8 961.9L518.1 969.4L518.3 962.4L518.5 966.7L518.8 961.8L519.0 966.2L519.3 961.8L519.5 966.1L519.8 962.2L520.0 965.2L520.2 960.6L520.5 965.2L520.7 960.1L521.0 964.3L521.2 959.9L521.5 965.2L521.7 961.0L522.0 964.9L522.2 959.6L522.5 965.2L522.7 960.1L523.0 964.9L523.2 959.9L523.5 963.5L523.7 959.4L524.0 963.8L524.2 959.2L524.5 962.9L524.7 959.2L525.0 962.3L525.2 958.8L525.5 962.6L525.7 958.8L526.0 962.3L526.2 956.5L526.5 962.6L526.7 956.1L527.0 962.6L527.2 953.9L527.5 961.0L527.7 955.6L528.0 959.6L528.2 953.1L528.5 961.1L528.7 952.6L529.0 959.1L529.2 952.6L529.5 958.7L529.7 952.6L530.0 956.6L530.2 952.6L530.5 956.0L530.7 950.5L531.0 956.0L531.2 950.1L531.5 956.0L531.7 950.3L532.0 956.0L532.2 949.6L532.5 953.9L532.7 948.6L533.0 954.3L533.2 948.6L533.5 953.2L533.7 948.6L533.9 952.6L534.2 948.6L534.4 952.0L534.7 942.2L534.9 949.8L535.2 938.6L535.4 948.3L535.7 933.4L535.9 942.4L536.2 932.9L536.4 934.2L536.6 930.1L536.9 934.3L537.1 930.1L537.3 934.1L537.6 930.9L537.8 934.2L538.0 930.1L538.3 934.3L538.5 930.1L538.7 934.0L539.0 930.3L539.2 934.3L539.5 930.3L539.7 933.7L539.9 930.1L540.2 936.0L540.4 930.7L540.6 936.4L540.9 932.4L541.1 938.1L541.4 933.5L541.6 939.5L541.8 934.7L542.1 939.5L542.3 935.9L542.6 939.4L542.8 931.0L543.1 937.1L543.3 927.5L543.5 935.9L543.8 924.5L544.0 928.9L544.3 922.2L544.4 926.5L544.6 908.3L544.8 924.1L544.9 901.8L545.1 912.3L545.3 892.9L545.4 900.9L545.6 890.6L545.8 895.2L546.1 881.0L546.3 893.7L546.5 870.6L546.8 884.0L547.0 866.7L547.3 880.9L547.5 858.0L547.7 869.1L548.0 857.2L548.2 862.0L548.5 857.2L548.7 871.7L548.9 863.0L549.2 880.2L549.4 862.6L549.6 882.4L549.9 872.0L550.1 883.5L550.3 872.4L550.6 890.4L550.8 877.0L551.0 893.9L551.3 887.5L551.5 896.1L551.7 893.7L551.8 911.3L552.0 898.1L552.2 913.5L552.3 904.4L552.5 923.6L552.6 915.6L552.8 923.6L553.1 919.9L553.3 923.6L553.5 920.7L553.8 923.2L554.0 920.7L554.3 923.6L554.5 919.5L554.8 922.8L555.0 920.3L555.3 922.7L555.5 919.5L555.8 923.6L556.0 919.5L556.3 923.6L556.5 919.7L556.7 922.3L557.0 910.9L557.2 922.6L557.5 902.7L557.7 915.9L557.9 896.2L558.2 910.2L558.4 890.7L558.7 903.7L558.9 888.4L559.1 897.7L559.4 887.4L559.6 890.9L559.9 886.5L560.1 894.2L560.3 887.3L560.6 894.8L560.8 889.0L561.0 895.1L561.3 888.0L561.5 894.6L561.8 890.7L562.0 896.2L562.2 891.9L562.5 898.6L562.7 893.6L562.9 897.8L563.2 892.7L563.4 900.6L563.6 893.9L563.9 901.4L564.1 896.5L564.3 901.9L564.6 897.4L564.8 901.9L565.0 896.1L565.3 901.9L565.5 894.0L565.8 901.2L566.0 889.5L566.2 899.9L566.5 888.9L566.7 899.8L567.0 884.2L567.2 893.0L567.4 882.2L567.7 890.6L567.9 881.7L568.1 887.3L568.4 882.1L568.6 886.6L568.9 881.5L569.1 889.7L569.4 881.5L569.6 890.3L569.8 882.6L570.1 891.2L570.3 883.9L570.6 889.8L570.8 885.7L571.0 892.6L571.3 884.2L571.5 891.7L571.8 884.9L572.0 892.5L572.3 886.5L572.5 892.8L572.7 891.9L572.9 903.2L573.2 895.8L573.4 910.8L573.6 902.3L573.8 910.8L574.0 905.4L574.3 910.8L574.5 901.8L574.8 908.6L575.0 898.2L575.2 908.5L575.5 896.1L575.7 904.3L576.0 894.5L576.2 902.1L576.4 894.4L576.6 906.1L576.8 894.9L577.0 911.9L577.2 906.1L577.4 922.8L577.6 912.9L577.7 923.8L578.0 916.9L578.2 922.8L578.5 912.7L578.7 923.3L578.9 909.3L579.2 915.6L579.4 906.4L579.7 914.6L579.9 903.4L580.1 908.7L580.4 902.4L580.6 906.4L580.9 902.4L581.1 909.5L581.4 902.4L581.6 910.1L581.9 903.3L582.1 912.5L582.3 904.5L582.6 912.1L582.8 906.4L583.1 914.1L583.3 908.0L583.6 914.0L583.8 907.2L584.1 914.1L584.3 911.0L584.5 915.6L584.8 911.2L585.0 919.6L585.3 911.8L585.5 923.0L585.7 913.0L586.0 923.9L586.2 918.6L586.5 926.5L586.7 922.1L586.9 927.0L587.2 923.5L587.4 930.6L587.7 924.7L587.9 931.3L588.1 927.6L588.4 935.0L588.6 928.0L588.8 937.5L589.1 929.0L589.3 937.5L589.6 934.1L589.8 937.0L590.1 934.1L590.3 937.5L590.5 934.1L590.8 937.5L591.0 934.3L591.3 937.1L591.5 934.6L591.8 937.5L592.0 934.1L592.3 937.5L592.5 934.1L592.8 937.5L593.0 934.3L593.3 937.5L593.5 934.3L593.7 936.3L594.0 932.5L594.2 936.9L594.5 929.0L594.7 935.3L594.9 928.7L595.2 935.1L595.4 927.4L595.7 935.5L595.9 923.9L596.2 931.3L596.4 925.6L596.6 932.7L596.9 924.3L597.1 929.7L597.4 922.9L597.6 927.5L597.9 923.3L598.1 925.6L598.3 923.4L598.6 928.7L598.8 922.9L599.0 929.9L599.3 922.9L599.5 931.6L599.7 925.1L600.0 933.6L600.2 925.6L600.4 933.5L600.7 928.8L600.9 934.3L601.1 929.6L601.4 934.3L601.6 930.5L601.9 933.9L602.1 930.2L602.4 934.3L602.6 930.1L602.8 934.3L603.1 930.1L603.3 934.1L603.6 930.1L603.8 934.3L604.1 930.1L604.3 933.6L604.6 930.1L604.8 933.0L605.1 930.3L605.3 932.7L605.5 930.1L605.8 936.1L606.0 931.5L606.3 939.6L606.5 932.7L606.7 942.5L607.0 933.6L607.2 942.9L607.5 936.8L607.7 944.7L607.9 942.0L608.2 947.3L608.4 943.2L608.7 949.7L608.9 942.3L609.1 950.9L609.4 945.7L609.6 950.6L609.8 947.4L610.1 951.3L610.3 948.2L610.6 952.5L610.8 948.8L611.1 951.9L611.3 948.5L611.5 952.5L611.8 945.8L612.0 951.9L612.3 945.5L612.5 950.7L612.8 944.7L613.0 949.6L613.3 946.1L613.5 950.9L613.8 944.6L614.0 949.7L614.3 944.6L614.5 947.7L614.7 944.6L615.0 948.8L615.2 945.2L615.5 950.6L615.7 944.6L616.0 949.3L616.2 945.7L616.5 951.4L616.7 945.1L617.0 951.0L617.2 946.6L617.5 950.9L617.7 947.0L618.0 951.9L618.2 948.7L618.5 952.3L618.7 948.6L619.0 953.8L619.2 950.5L619.5 953.2L619.7 950.9L620.0 953.8L620.2 946.1L620.5 951.5L620.7 945.3L621.0 951.1L621.2 942.0L621.5 947.5L621.7 941.3L622.0 944.4L622.2 930.5L622.5 941.0L622.7 924.5L622.9 935.6L623.2 922.0L623.4 931.5L623.7 921.3L623.9 923.8L624.2 921.2L624.4 923.8L624.6 921.2L624.9 923.8L625.1 920.2L625.4 923.2L625.6 920.2L625.8 923.0L626.1 920.2L626.3 923.2L626.5 920.2L626.8 929.4L627.0 920.8L627.3 933.7L627.5 923.0L627.7 937.9L628.0 929.6L628.2 939.5L628.5 929.5L628.7 939.5L628.9 936.6L629.2 939.5L629.4 931.7L629.7 937.6L629.9 931.5L630.2 938.7L630.4 930.6L630.7 935.6L630.9 929.3L631.1 934.7L631.4 926.0L631.6 933.6L631.9 924.8L632.1 930.4L632.4 924.8L632.6 929.1L632.9 923.3L633.1 926.9L633.3 920.7L633.6 926.9L633.8 921.3L634.1 927.6L634.3 918.0L634.5 923.7L634.8 917.3L635.0 923.8L635.3 916.9L635.5 919.9L635.7 916.7L636.0 919.9L636.2 917.1L636.4 919.9L636.7 915.6L636.9 919.9L637.1 916.6L637.4 919.1L637.6 915.6L637.8 919.6L638.1 915.6L638.3 919.9L638.5 915.6L638.8 919.9L639.0 915.6L639.2 919.3L639.5 916.0L639.7 920.3L640.0 915.6L640.2 920.2L640.4 915.6L640.7 921.2L640.9 916.6L641.1 921.2L641.4 917.7L641.6 921.2L641.8 917.5L642.1 922.4L642.3 919.3L642.6 929.3L642.8 918.8L643.0 929.5L643.3 922.4L643.5 934.3L643.8 927.7L644.0 934.3L644.3 930.4L644.5 934.3L644.7 930.2L645.0 934.3L645.2 928.1L645.4 934.0L645.7 927.1L645.9 932.4L646.1 926.8L646.4 931.0L646.6 926.8L646.8 930.7L647.1 926.8L647.3 928.8L647.6 926.8L647.8 929.9L648.0 927.1L648.3 931.7L648.5 926.8L648.8 931.1L649.0 927.4L649.3 930.3L649.5 926.9L649.8 931.6L650.0 927.3L650.3 931.7L650.5 926.9L650.8 931.7L651.0 927.9L651.2 933.0L651.5 929.0L651.7 933.1L652.0 928.9L652.2 932.4L652.5 929.6L652.7 934.3L653.0 929.7L653.2 933.3L653.5 928.8L653.7 934.3L654.0 930.6L654.2 933.9L654.4 930.6L654.7 934.3L654.9 929.6L655.2 934.9L655.4 931.4L655.7 934.1L655.9 931.4L656.2 935.8L656.4 931.4L656.7 935.2L656.9 931.9L657.2 936.2L657.4 931.4L657.6 936.3L657.9 932.9L658.1 936.6L658.4 932.6L658.6 936.5L658.9 933.7L659.1 936.1L659.4 934.1L659.6 938.6L659.8 934.1L660.1 940.9L660.3 935.1L660.5 940.9L660.8 936.7L661.0 940.8L661.2 937.1L661.5 942.7L661.7 938.2L661.9 943.4L662.2 939.2L662.4 943.4L662.6 939.9L662.9 943.4L663.1 939.4L663.3 943.4L663.6 938.5L663.8 943.3L664.0 938.3L664.3 941.2L664.5 937.7L664.7 942.0L665.0 936.7L665.2 940.3L665.4 936.7L665.7 939.0L665.9 935.2L666.2 939.3L666.4 934.8L666.7 938.7L666.9 933.8L667.2 939.5L667.4 934.0L667.7 939.0L667.9 932.8L668.1 938.3L668.4 932.8L668.6 936.7L668.9 932.8L669.1 936.7L669.4 932.8L669.6 936.6L669.9 933.3L670.1 938.8L670.3 933.5L670.6 939.9L670.8 932.8L671.0 939.5L671.3 934.6L671.5 940.4L671.7 935.9L672.0 940.4L672.2 935.6L672.4 941.4L672.7 937.2L672.9 942.1L673.1 937.6L673.4 941.4L673.6 938.0L673.9 942.1L674.1 936.6L674.4 941.8L674.6 935.3L674.8 941.9L675.1 935.8L675.3 939.9L675.6 935.2L675.8 941.1L676.0 935.6L676.3 940.9L676.5 934.7L676.8 939.2L677.0 934.7L677.3 938.7L677.5 934.8L677.7 941.2L678.0 936.3L678.2 941.5L678.5 938.6L678.7 946.1L679.0 941.5L679.2 947.3L679.5 944.7L679.7 947.3L679.9 944.8L680.2 947.3L680.4 943.7L680.7 947.3L680.9 943.0L681.2 947.3L681.4 943.3L681.6 946.5L681.9 942.0L682.1 945.9L682.4 942.8L682.6 946.0L682.8 942.0L683.1 946.8L683.3 942.5L683.6 945.5L683.8 942.0L684.1 945.9L684.3 942.0L684.5 945.7L684.8 942.0L685.0 945.4L685.3 942.0L685.5 946.0L685.8 942.1L686.0 945.4L686.2 942.0L686.5 946.0L686.7 942.0L687.0 945.1L687.2 942.0L687.5 945.5L687.7 942.2L687.9 945.0L688.2 942.0L688.4 945.0L688.7 942.0L688.9 946.0L689.2 943.1L689.4 946.0L689.6 942.0L689.9 945.3L690.1 942.8L690.4 945.7L690.6 943.3L690.9 947.5L691.1 943.4L691.4 949.3L691.6 943.3L691.9 950.5L692.1 943.3L692.3 950.4L692.6 946.1L692.8 952.4L693.1 946.1L693.3 950.9L693.6 946.0L693.8 951.4L694.1 946.9L694.3 952.5L694.6 949.9L694.8 953.4L695.0 949.9L695.3 954.5L695.5 949.9L695.8 954.2L696.0 949.9L696.3 954.6L696.5 950.4L696.7 954.6L697.0 950.6L697.2 955.2L697.5 950.6L697.7 954.9L697.9 951.1L698.2 955.7L698.4 952.1L698.7 955.3L698.9 951.8L699.2 955.5L699.4 952.0L699.6 955.8L699.9 950.5L700.1 955.7L700.4 948.9L700.6 954.4L700.9 948.4L701.1 953.4L701.4 945.3L701.6 951.5L701.9 946.8L702.1 950.3L702.4 944.6L702.6 948.9L702.8 945.2L703.1 947.4L703.3 944.6L703.6 949.3L703.8 945.4L704.1 948.9L704.3 945.7L704.5 949.5L704.8 944.6L705.0 949.5L705.3 945.3L705.5 949.1L705.7 946.6L706.0 950.4L706.2 946.0L706.5 951.2L706.7 947.9L707.0 951.2L707.2 946.6L707.4 951.1L707.7 947.9L707.9 951.2L708.2 947.8L708.4 951.2L708.7 946.3L708.9 951.2L709.2 945.5L709.4 950.3L709.7 945.3L709.9 950.3L710.2 946.1L710.4 950.4L710.7 944.2L710.9 948.9L711.2 944.0L711.4 948.2L711.7 944.2L711.9 949.0L712.2 944.0L712.4 947.6L712.7 944.0L712.9 946.3L713.2 944.0L713.4 947.5L713.7 944.0L713.9 946.7L714.2 944.7L714.4 947.4L714.7 944.8L714.9 949.4L715.2 944.5L715.4 949.0L715.7 944.0L715.9 949.9L716.2 946.1L716.4 949.9L716.7 946.4L716.9 949.9L717.2 945.9L717.4 949.9L717.7 947.0L717.9 949.9L718.2 946.5L718.4 949.9L718.7 946.7L718.9 949.7L719.2 946.0L719.4 949.8L719.7 946.2L719.9 949.9L720.2 947.0L720.4 949.9L720.6 946.3L720.9 949.9L721.1 946.0L721.4 949.1L721.6 946.0L721.9 949.6L722.1 945.7L722.4 948.6L722.6 943.9L722.8 947.4L723.1 943.0L723.3 946.7L723.6 941.8L723.8 945.5L724.0 940.1L724.3 945.9L724.5 940.0L724.7 942.4L725.0 940.0L725.2 943.6L725.5 940.0L725.7 943.5L726.0 940.0L726.2 943.9L726.5 940.0L726.7 943.8L727.0 940.2L727.2 944.7L727.5 940.9L727.7 944.2L728.0 941.8L728.2 944.4L728.5 942.1L728.7 945.2L729.0 942.1L729.2 945.4L729.5 941.3L729.7 945.4L730.0 943.1L730.2 945.1L730.5 943.4L730.7 945.8L731.0 943.1L731.2 946.0L731.5 942.7L731.7 946.0L731.9 942.7L732.2 945.7L732.4 943.3L732.7 946.0L732.9 942.7L733.2 945.5L733.4 942.7L733.6 946.0L733.9 942.9L734.1 945.9L734.4 942.7L734.6 946.0L734.9 943.0L735.1 945.4L735.3 942.7L735.6 946.0L735.8 943.3L736.1 946.0L736.3 943.3L736.6 946.0L736.8 942.0L737.0 945.8L737.3 942.0L737.5 946.0L737.8 941.8L738.0 944.8L738.3 940.5L738.5 944.2L738.8 939.4L739.0 944.2L739.3 940.5L739.5 944.8L739.8 939.7L740.0 943.3L740.2 939.7L740.5 942.1L740.7 937.5L741.0 941.2L741.2 934.7L741.4 941.3L741.7 933.3L741.9 938.3L742.2 931.1L742.4 935.9L742.6 929.9L742.9 934.9L743.1 927.5L743.4 931.7L743.6 927.5L743.9 930.6L744.1 927.5L744.4 931.6L744.6 927.5L744.8 930.5L745.1 927.5L745.3 931.0L745.6 927.6L745.8 932.3L746.1 927.6L746.3 931.8L746.5 928.8L746.8 932.4L747.0 929.0L747.3 934.6L747.5 930.2L747.7 933.7L748.0 928.6L748.2 934.1L748.5 929.3L748.7 935.6L749.0 930.0L749.2 935.6L749.4 931.7L749.7 935.1L749.9 932.4L750.2 935.6L750.4 932.4L750.7 935.6L750.9 932.1L751.2 935.6L751.4 931.4L751.7 934.8L751.9 931.3L752.2 935.5L752.4 930.1L752.7 935.6L752.9 930.1L753.2 934.3L753.4 930.1L753.7 933.8L753.9 930.6L754.2 933.6L754.4 930.1L754.7 933.0L754.9 930.1L755.2 934.7L755.4 930.1L755.6 935.5L755.9 931.0L756.1 935.5L756.4 930.1L756.6 936.9L756.8 932.8L757.1 936.2L757.3 933.1L757.6 936.5L757.8 933.0L758.0 936.9L758.3 930.1L758.5 936.9L758.8 928.4L759.0 933.7L759.3 929.4L759.5 934.2L759.8 928.4L760.0 931.2L760.2 928.1L760.5 931.2L760.7 926.0L761.0 931.2L761.2 925.4L761.5 931.2L761.7 926.6L762.0 929.7L762.2 923.9L762.4 929.6L762.7 924.0L762.9 928.9L763.2 925.3L763.4 929.5L763.7 923.9L763.9 929.8L764.1 923.9L764.4 927.8L764.6 924.1L764.9 926.9L765.1 923.9L765.4 927.3L765.6 924.3L765.9 927.4L766.1 923.9L766.3 927.8L766.6 923.9L766.8 927.0L767.1 923.9L767.3 927.8L767.6 924.9L767.8 927.8L768.1 923.9L768.3 927.5L768.5 924.9L768.8 927.8L769.0 925.0L769.3 927.8L769.5 924.2L769.8 927.8L770.0 924.9L770.3 927.8L770.5 924.3L770.7 927.8L771.0 923.0L771.2 927.7L771.5 923.0L771.7 927.8L772.0 923.2L772.2 927.8L772.4 923.2L772.7 927.4L772.9 923.0L773.2 926.9L773.4 922.9L773.7 925.9L773.9 922.2L774.2 925.2L774.4 921.5L774.6 924.9L774.9 921.7L775.1 925.4L775.4 921.5L775.6 925.1L775.9 922.2L776.1 924.4L776.4 921.5L776.6 924.4L776.8 920.9L777.1 924.4L777.3 920.5L777.6 924.4L777.8 917.9L778.1 923.1L778.3 917.9L778.5 923.2L778.8 917.6L779.0 922.3L779.3 917.9L779.5 922.8L779.8 917.7L780.0 922.8L780.3 917.8L780.5 921.8L780.7 917.5L781.0 920.6L781.2 917.5L781.5 922.0L781.7 917.7L782.0 924.6L782.2 917.6L782.5 923.2L782.7 917.6L782.9 924.2L783.2 919.8L783.4 926.9L783.7 921.9L783.9 926.9L784.2 922.3L784.4 926.9L784.7 923.0L784.9 927.2L785.1 923.9L785.4 928.0L785.6 924.3L785.9 928.2L786.1 923.9L786.4 929.5L786.6 925.9L786.8 931.2L787.1 924.2L787.3 931.2L787.6 925.4L787.8 931.2L788.1 928.0L788.3 931.2L788.6 927.9L788.8 931.2L789.0 926.4L789.3 931.2L789.5 926.8L789.8 931.0L790.0 926.0L790.3 930.6L790.5 925.4L790.8 931.1L791.0 926.2L791.2 930.1L791.5 926.4L791.7 928.9L792.0 926.2L792.2 928.3L792.5 924.3L792.7 928.3L792.9 925.2L793.2 928.3L793.4 923.4L793.7 928.3L793.9 923.4L794.2 926.8L794.4 923.7L794.7 926.4L794.9 923.5L795.1 926.2L795.4 923.8L795.6 928.6L795.9 923.7L796.1 932.3L796.4 925.8L796.6 932.6L796.9 928.3L797.1 932.7L797.3 929.5L797.6 932.1L797.8 928.4L798.1 932.8L798.3 929.5L798.6 933.2L798.8 929.9L799.1 931.9L799.3 928.7L799.5 933.0L799.8 928.5L800.0 932.6L800.3 928.4L800.5 931.6L800.8 928.4L801.0 931.4L801.2 928.4L801.5 933.0L801.7 928.4L802.0 934.6L802.2 929.8L802.5 934.3L802.7 929.9L803.0 935.3L803.2 931.6L803.4 936.1L803.7 930.9L803.9 936.1L804.2 932.1L804.4 936.1L804.7 932.1L804.9 936.1L805.2 931.1L805.4 935.9L805.6 931.6L805.9 936.1L806.1 931.0L806.4 935.1L806.6 930.3L806.9 935.7L807.1 930.3L807.4 935.8L807.6 930.3L807.8 935.5L808.1 930.3L808.3 934.7L808.6 930.3L808.8 934.4L809.1 930.3L809.3 935.0L809.5 930.4L809.8 936.0L810.0 931.6L810.3 935.7L810.5 930.4L810.8 936.1L811.0 933.1L811.3 936.7L811.5 932.6L811.7 937.5L812.0 934.2L812.2 937.3L812.5 934.8L812.7 939.0L813.0 934.8L813.2 939.4L813.5 934.3L813.7 938.2L813.9 934.5L814.2 939.6L814.4 936.0L814.7 940.0L814.9 935.6L815.2 940.0L815.4 936.7L815.6 940.7L815.9 937.2L816.1 940.9L816.4 937.6L816.6 940.2L816.9 937.2L817.1 939.7L817.4 937.2L817.6 940.2L817.8 937.7L818.1 940.9L818.3 938.1L818.6 940.9L818.8 937.7L819.1 940.9L819.3 937.2L819.6 941.9L819.8 938.2L820.0 941.5L820.3 938.2L820.5 943.4L820.8 938.2L821.0 943.4L821.3 938.9L821.5 942.4L821.8 939.3L822.0 942.4L822.2 939.7L822.5 943.4L822.7 939.9L823.0 943.3L823.2 939.7L823.5 943.4L823.7 940.9L823.9 943.4L824.2 940.1L824.4 943.1L824.7 940.9L824.9 943.4L825.2 940.8L825.4 943.4L825.7 940.1L825.9 943.4L826.1 940.1L826.4 943.4L826.6 940.1L826.9 943.4L827.1 940.5L827.4 943.2L827.6 940.3L827.9 942.8L828.1 940.4L828.3 943.3L828.6 940.1L828.8 943.6L829.1 940.1L829.3 942.9L829.6 940.1L829.8 943.8L830.0 940.4L830.3 943.7L830.5 940.1L830.8 943.8L831.0 940.2L831.3 943.8L831.5 940.9L831.8 943.8L832.0 940.1L832.2 943.2L832.5 938.9L832.7 943.3L833.0 938.2L833.2 943.3L833.5 939.1L833.7 943.0L834.0 938.2L834.2 940.9L834.4 936.7L834.7 940.1L834.9 934.7L835.2 939.5L835.4 934.9L835.7 939.9L835.9 934.3L836.2 937.0L836.4 933.5L836.6 936.6L836.9 932.8L837.1 937.1L837.4 932.6L837.6 937.1L837.9 932.3L838.1 935.2L838.3 932.3L838.6 936.3L838.8 932.3L839.1 935.9L839.3 932.3L839.6 935.0L839.8 932.3L840.1 936.5L840.3 932.3L840.5 936.8L840.8 933.0L841.0 937.4L841.3 933.9L841.5 938.0L841.8 933.1L842.0 937.3L842.3 932.6L842.5 938.0L842.7 930.6L843.0 936.4L843.2 929.8L843.5 935.0L843.7 929.8L844.0 934.5L844.2 929.8L844.4 933.6L844.7 929.8L844.9 932.5L845.2 929.8L845.4 934.2L845.7 929.8L845.9 935.7L846.2 929.8L846.4 935.1L846.6 932.3L846.9 937.0L847.1 933.1L847.4 937.1L847.6 933.2L847.9 936.7L848.1 934.3L848.3 939.9L848.6 934.4L848.8 939.8L849.1 936.4L849.3 942.4L849.5 938.3L849.8 942.8L850.0 940.4L850.2 942.8L850.5 939.1L850.7 942.6L851.0 939.6L851.2 942.8L851.5 938.6L851.7 942.8L852.0 939.0L852.2 942.8L852.4 939.4L852.7 942.8L852.9 939.6L853.2 942.8L853.4 938.6L853.7 941.4L853.9 938.6L854.2 941.2L854.4 938.6L854.7 941.7L854.9 939.1L855.1 942.6L855.4 937.5L855.6 941.3L855.9 936.7L856.1 940.8L856.4 937.1L856.6 941.3L856.9 935.7L857.1 939.8L857.3 935.1L857.6 940.5L857.8 935.0L858.1 940.4L858.3 935.6L858.6 940.7L858.8 935.3L859.1 940.1L859.3 934.7L859.6 939.4L859.8 933.7L860.0 938.2L860.3 934.2L860.5 937.9L860.8 933.7L861.0 937.5L861.3 934.0L861.5 939.0L861.8 933.7L862.0 939.9L862.2 935.5L862.5 940.7L862.7 937.0L863.0 941.6L863.2 937.2L863.5 941.5L863.7 939.1L864.0 941.9L864.2 937.9L864.5 942.0L864.7 937.3L864.9 942.0L865.2 937.7L865.4 940.1L865.7 937.3L865.9 939.5L866.2 937.0L866.4 939.1L866.7 936.6L866.9 939.2L867.1 936.0L867.4 939.7L867.6 936.3L867.9 939.7L868.1 936.3L868.3 939.2L868.6 936.6L868.8 939.0L869.1 936.2L869.3 939.6L869.6 935.9L869.8 938.9L870.0 935.9L870.3 939.1L870.5 935.9L870.8 939.2L871.0 935.9L871.2 938.2L871.5 935.9L871.7 938.0L872.0 935.9L872.2 938.2L872.5 935.9L872.7 939.6L873.0 935.9L873.2 939.7L873.5 935.9L873.7 939.3L874.0 935.9L874.2 941.1L874.5 935.9L874.7 940.7L875.0 936.9L875.2 942.4L875.4 937.6L875.7 942.9L875.9 939.1L876.2 942.9L876.4 940.3L876.7 942.5L876.9 940.3L877.2 942.4L877.4 940.9L877.7 942.8L877.9 940.1L878.2 942.7L878.4 940.0L878.7 942.7L878.9 940.0L879.2 942.7L879.4 940.0L879.7 942.7L879.9 940.6L880.2 942.5L880.4 940.4L880.7 942.1L880.9 940.5L881.2 942.2L881.4 940.0L881.7 942.5L881.9 940.5L882.2 942.2L882.4 940.3L882.7 942.3L882.9 940.3L883.2 942.5L883.4 940.0L883.7 941.9L883.9 940.0L884.2 942.5L884.4 940.1L884.7 941.6L884.9 940.0L885.2 941.6L885.4 940.0L885.7 941.6L885.9 940.0L886.2 943.0L886.4 940.5L886.7 943.6L886.9 940.7L887.2 943.8L887.4 941.2L887.6 944.3L887.9 941.1L888.1 944.1L888.4 942.3L888.6 944.4L888.9 943.2L889.1 944.4L889.3 943.2L889.6 944.4L889.8 942.3L890.1 944.3L890.3 943.0L890.5 944.3L890.8 942.2L891.0 943.8L891.3 942.4L891.5 944.0L891.7 942.2L892.0 943.6L892.2 942.6L892.5 943.3L892.7 942.1L892.9 943.3L893.2 941.3L893.4 943.1L893.7 940.7L893.9 943.2L894.2 941.3L894.4 943.2L894.6 940.5L894.9 942.9L895.1 940.9L895.4 942.9L895.6 940.5L895.8 942.0L896.1 940.5L896.3 942.0L896.6 940.1L896.8 941.6L897.1 940.0L897.3 942.1L897.5 940.0L897.8 941.8L898.0 940.0L898.3 941.5L898.5 940.0L898.7 941.3L899.0 940.0L899.2 942.0L899.5 940.0L899.7 942.1L900.0 940.5L900.2 942.5L900.5 940.5L900.7 942.3L901.0 940.1L901.2 943.1L901.4 940.0L901.7 943.2L901.9 940.6L902.2 943.5L902.4 941.2L902.7 943.5L902.9 941.6L903.2 943.5L903.4 941.7L903.6 943.5L903.9 942.7L904.1 944.0L904.4 942.7L904.6 944.1L904.9 942.7L905.1 944.3L905.4 943.0L905.6 943.9L905.9 942.9L906.1 944.0L906.4 942.9L906.6 944.5L906.9 943.1L907.1 944.3L907.4 943.2L907.6 944.7L907.9 943.1L908.1 944.7L908.4 943.3L908.6 944.7L908.8 943.2L909.1 944.7L909.3 943.7L909.6 944.7L909.8 943.6L910.1 944.7L910.3 943.5L910.6 944.7L910.8 943.4L911.1 944.7L911.3 943.8L911.6 944.7L911.8 943.4L912.0 944.7L912.3 943.1L912.5 944.5L912.8 943.0L913.0 944.4L913.3 942.5L913.5 944.7L913.7 942.7L914.0 944.6L914.2 942.4L914.5 944.0L914.7 941.8L914.9 944.7L915.2 941.7L915.4 944.4L915.7 941.5L915.9 943.8L916.2 941.7L916.4 943.3L916.6 941.3L916.9 943.0L917.1 941.3L917.4 942.6L917.6 941.3L917.8 943.5L918.1 941.3L918.3 943.1L918.6 941.8L918.8 943.5L919.1 941.6L919.3 944.2L919.5 941.9L919.8 944.6L920.0 942.6L920.3 945.4L920.5 943.2L920.8 944.9L921.0 942.9L921.2 945.0L921.5 943.2L921.7 945.6L922.0 943.6L922.2 945.6L922.4 943.5L922.7 945.6L922.9 944.1L923.2 945.6L923.4 944.2L923.7 946.0L923.9 944.9L924.1 945.5L924.4 944.9L924.6 946.0L924.9 944.9L925.1 945.8L925.4 944.9L925.6 946.2L925.9 944.9L926.1 946.5L926.3 945.0L926.6 946.2L926.8 945.5L927.1 946.5L927.3 945.2L927.6 946.5L927.8 945.3L928.1 946.5L928.3 945.2L928.6 946.5L928.8 945.4L929.0 946.6L929.3 945.8L929.5 946.9L929.8 945.8L930.0 946.9L930.3 945.8L930.5 946.9L930.8 945.9L931.0 946.9L931.2 945.8L931.5 946.9L931.7 946.1L932.0 946.9L932.2 946.1L932.5 946.9L932.7 946.1L933.0 946.9L933.2 946.2L933.5 946.9L933.7 946.3L933.9 946.9L934.2 946.2L934.4 946.9L934.7 946.5L934.9 946.9L935.2 946.0L935.4 946.9L935.7 945.9L935.9 946.9L936.1 945.9L936.4 946.9L936.6 945.8L936.9 946.9L937.1 945.7L937.3 946.5L937.5 941.1L937.8 945.3L938.0 939.2L938.2 942.0L938.4 938.7L938.6 939.4L938.9 938.5L939.1 939.4L939.4 938.3L939.6 939.4L939.8 938.4L940.1 939.4L940.3 937.8L940.6 939.1L940.8 937.9L941.1 939.4L941.3 937.7L941.5 938.7L941.8 937.7L942.0 938.7L942.3 937.7L942.5 938.5L942.8 937.7L943.0 940.4L943.2 938.1L943.5 940.1L943.7 938.0L944.0 940.5L944.2 938.9L944.4 941.1L944.7 939.8L944.9 941.2L945.1 936.9L945.4 939.9L945.6 936.4L945.8 940.0L946.1 934.1L946.3 938.2L946.5 934.5L946.8 936.6L947.0 933.7L947.3 936.3L947.5 934.5L947.7 939.5L948.0 934.9L948.2 940.1L948.5 937.2L948.7 943.3L949.0 939.3L949.2 944.7L949.5 942.2L949.7 944.7L949.9 942.2L950.1 944.7L950.4 940.1L950.6 943.5L950.8 938.3L951.0 942.0L951.3 937.7L951.5 938.7L951.7 937.7L952.0 940.1L952.2 938.2L952.5 942.0L952.7 938.6L953.0 942.3L953.2 939.0L953.5 943.0L953.7 940.8L953.9 943.8L954.2 942.8L954.4 943.8L954.7 941.3L954.9 943.8L955.1 941.4L955.4 942.9L955.6 940.1L955.9 943.1L956.1 939.3L956.3 942.7L956.6 939.5L956.8 942.1L957.1 938.8L957.3 940.5L957.5 938.7L957.8 939.4L958.0 938.4L958.3 939.4L958.5 937.8L958.8 939.4L959.0 937.9L959.3 939.4L959.5 937.5L959.8 939.4L960.0 938.0L960.3 939.1L960.5 937.7L960.8 939.2L961.0 937.2L961.3 939.4L961.5 937.2L961.8 939.4L962.0 937.1L962.3 939.1L962.5 937.5L962.8 938.7L963.0 937.1L963.3 939.1L963.5 937.2L963.8 938.4L964.0 936.8L964.3 938.6L964.5 936.8L964.8 938.1L965.0 936.8L965.3 938.1L965.5 936.8L965.8 937.9L966.0 936.8L966.3 937.8L966.5 936.8L966.8 937.6L967.0 936.2L967.3 937.6L967.5 936.6L967.8 937.6L968.0 936.4L968.3 937.5L968.5 936.5L968.8 937.6L969.0 936.6L969.3 937.6L969.5 936.5L969.8 937.6L970.0 936.3L970.3 937.6L970.5 936.2L970.8 937.6L971.0 936.4L971.3 937.6L971.5 936.3L971.8 937.6L972.0 936.5L972.3 937.6L972.5 936.2L972.8 937.0L973.0 936.2L973.3 937.3L973.5 936.2L973.8 937.4L974.0 936.2L974.3 936.9L974.5 936.2L974.8 936.8L975.0 936.2L975.2 937.5L975.5 936.2L975.7 937.1L976.0 935.9L976.2 937.1L976.5 935.9L976.7 937.1L977.0 935.9L977.2 937.1L977.4 936.0L977.7 937.1L977.9 936.0L978.2 937.1L978.4 935.9L978.7 937.1L978.9 935.9L979.1 937.1L979.4 935.9L979.6 937.1L979.9 935.9L980.1 937.1L980.3 936.0L980.6 937.0L980.8 935.9L981.1 936.6L981.3 935.9L981.6 936.9L981.8 935.9L982.0 937.0L982.3 935.9L982.5 937.7L982.8 935.9L983.0 937.9L983.3 935.9L983.5 937.5L983.8 935.9L984.0 938.0L984.2 935.9L984.5 938.8L984.7 936.9L985.0 939.0L985.2 936.1L985.5 938.8L985.7 936.3L986.0 939.3L986.2 937.0L986.4 938.5L986.7 937.3L986.9 938.8L987.2 936.9L987.4 939.3L987.7 937.5L987.9 939.4L988.2 937.6L988.4 939.4L988.6 937.6L988.9 939.4L989.1 937.9L989.4 939.1L989.6 937.6L989.9 939.0L990.1 937.7L990.4 939.3L990.6 937.9L990.9 939.4L991.1 937.3L991.4 939.0L991.6 937.4L991.9 939.0L992.1 936.3L992.3 938.6L992.6 936.1L992.8 938.2L993.1 936.6L993.3 938.9L993.6 936.7L993.8 938.6L994.1 936.2L994.3 938.2L994.6 936.2L994.8 938.0L995.1 935.5L995.3 937.1L995.6 935.8L995.8 936.9L996.1 935.5L996.3 937.0L996.6 935.5L996.8 937.4L997.1 935.5L997.3 936.7L997.6 935.5L997.8 936.5L998.0 935.5L998.3 936.5L998.5 935.5L998.8 936.2L999.0 935.5L999.3 936.7L999.5 935.5L999.8 936.7L1000.0 935.5L1000.3 936.6L1000.5 936.0L1000.8 936.7L1001.0 935.5L1001.3 936.7L1001.5 935.9L1001.8 936.7L1002.0 935.8L1002.3 936.7L1002.5 935.5L1002.8 936.7L1003.0 935.5L1003.3 936.7L1003.5 936.0L1003.7 936.7L1004.0 935.5L1004.2 936.7L1004.5 935.9L1004.7 936.7L1005.0 936.0L1005.2 937.3L1005.5 935.9L1005.7 937.5L1006.0 936.0L1006.2 937.4L1006.5 935.9L1006.7 937.8L1007.0 935.9L1007.2 938.1L1007.5 936.1L1007.7 938.0L1008.0 936.0L1008.2 937.7L1008.5 936.1L1008.7 938.1L1009.0 936.7L1009.2 937.9L1009.4 936.6L1009.7 937.8L1009.9 936.2L1010.2 938.1L1010.4 936.4L1010.7 938.1L1010.9 937.4L1011.2 938.1L1011.4 937.2L1011.7 938.1L1011.9 937.5L1012.2 938.1L1012.4 937.2L1012.7 938.1L1012.9 936.4L1013.1 938.1L1013.4 936.6L1013.6 937.8L1013.9 936.5L1014.1 938.1L1014.4 935.9L1014.6 938.1L1014.9 936.2L1015.1 937.8L1015.4 936.4L1015.6 937.9L1015.8 935.9L1016.1 937.8L1016.3 935.9L1016.6 937.0L1016.8 935.9L1017.1 936.7L1017.3 935.2L1017.6 936.7L1017.8 934.1L1018.1 936.7L1018.3 933.4L1018.6 936.4L1018.8 933.8L1019.1 936.5L1019.3 933.0L1019.6 935.3L1019.8 933.0L1020.1 934.9L1020.3 932.3L1020.6 934.3L1020.8 932.4L1021.1 934.3L1021.3 932.3L1021.6 933.2L1021.8 932.3L1022.0 934.5L1022.3 932.3L1022.5 935.5L1022.8 932.3L1023.0 935.5L1023.2 932.7L1023.5 935.1L1023.7 933.2L1024.0 935.9L1024.2 934.2L1024.4 936.7L1024.7 935.2L1024.9 936.7L1025.1 935.9L1025.4 937.2L1025.6 935.9L1025.9 937.5L1026.1 936.0L1026.4 937.6L1026.6 935.9L1026.9 937.2L1027.1 935.9L1027.4 937.4L1027.6 935.9L1027.9 937.6L1028.1 936.1L1028.4 937.5L1028.6 936.4L1028.9 937.6L1029.1 936.2L1029.4 937.6L1029.6 936.8L1029.9 937.6L1030.1 936.8L1030.4 937.6L1030.6 936.8L1030.9 937.6L1031.1 937.0L1031.4 937.6L1031.6 936.8L1031.9 937.6L1032.1 936.9L1032.4 937.6L1032.6 936.8L1032.9 937.6L1033.1 937.0L1033.4 937.6L1033.6 936.8L1033.9 937.6L1034.1 936.8L1034.3 937.6L1034.6 936.8L1034.8 937.6L1035.1 936.8L1035.3 937.4L1035.6 936.8L1035.8 937.6L1036.1 936.8L1036.3 937.6L1036.6 936.8L1036.8 938.2L1037.1 937.0L1037.3 939.0L1037.6 937.2L1037.8 939.2L1038.1 936.8L1038.3 939.4L1038.6 937.6L1038.8 939.4L1039.1 937.5L1039.3 939.4L1039.6 937.9L1039.8 939.4L1040.1 937.8L1040.3 939.4L1040.6 938.3L1040.8 939.4L1041.1 938.4L1041.3 939.7L1041.6 938.6L1041.8 939.9L1042.0 938.6L1042.3 940.3L1042.5 938.9L1042.8 940.0L1043.0 938.8L1043.2 940.0L1043.5 938.7L1043.7 940.3L1044.0 938.9L1044.2 940.3L1044.4 939.0L1044.7 940.3L1044.9 939.5L1045.2 941.8L1045.4 939.7L1045.6 943.0L1045.9 940.8L1046.1 943.0L1046.4 941.2L1046.6 944.1L1046.9 942.0L1047.1 944.7L1047.4 942.9L1047.6 944.7L1047.9 943.7L1048.1 944.5L1048.3 943.3L1048.6 944.6L1048.8 943.2L1049.1 944.7L1049.3 943.3L1049.6 944.6L1049.8 943.1L1050.1 944.7L1050.3 943.5L1050.6 944.7L1050.8 943.1L1051.1 944.6L1051.3 943.1L1051.6 944.7L1051.8 943.5L1052.1 944.6L1052.3 943.3L1052.6 944.4L1052.8 943.1L1053.1 944.4L1053.3 943.1L1053.6 944.5L1053.8 943.3L1054.0 944.2L1054.3 943.2L1054.5 944.4L1054.8 943.1L1055.0 944.5L1055.3 943.1L1055.5 945.3L1055.8 943.1L1056.0 945.3L1056.3 943.5L1056.5 945.6L1056.8 943.3L1057.0 946.4L1057.3 944.3L1057.5 946.8L1057.8 944.9L1058.0 946.8L1058.3 945.1L1058.5 947.4L1058.8 945.7L1059.0 947.4L1059.3 946.7L1059.5 947.5L1059.8 946.7L1060.0 947.7L1060.2 946.7L1060.5 947.5L1060.7 946.7L1061.0 948.0L1061.2 946.7L1061.5 948.2L1061.7 946.7L1061.9 948.2L1062.2 947.2L1062.4 948.3L1062.7 947.0L1062.9 948.3L1063.2 947.3L1063.4 948.3L1063.6 947.0L1063.9 948.3L1064.1 946.8L1064.4 948.3L1064.6 946.8L1064.8 948.3L1065.1 947.1L1065.3 948.2L1065.6 947.1L1065.8 948.1L1066.1 947.1L1066.3 948.3L1066.6 946.9L1066.8 948.3L1067.1 946.7L1067.3 948.3L1067.6 946.7L1067.8 947.9L1068.1 946.7L1068.3 948.3L1068.6 947.0L1068.8 948.3L1069.1 946.7L1069.3 947.8L1069.6 946.7L1069.8 947.9L1070.1 946.7L1070.3 948.5L1070.5 946.7L1070.8 950.1L1071.0 947.4L1071.3 950.0L1071.5 946.9L1071.7 950.7L1072.0 948.6L1072.2 950.8L1072.5 948.5L1072.7 951.9L1072.9 949.6L1073.2 951.9L1073.4 950.2L1073.7 952.0L1073.9 951.2L1074.2 953.2L1074.4 951.6L1074.7 952.9L1074.9 951.9L1075.1 953.4L1075.4 951.3L1075.6 954.0L1075.9 951.4L1076.1 953.7L1076.4 952.2L1076.6 954.0L1076.9 952.5L1077.1 954.2L1077.4 953.2L1077.6 954.6L1077.9 953.6L1078.1 954.6L1078.4 953.3L1078.6 954.6L1078.9 953.1L1079.1 954.6L1079.4 952.9L1079.6 954.2L1079.9 952.6L1080.1 953.6L1080.3 952.2L1080.6 954.0L1080.8 951.8L1081.1 954.1L1081.3 952.1L1081.6 953.9L1081.8 951.9L1082.1 952.9L1082.3 951.2L1082.6 952.5L1082.8 951.3L1083.0 952.9L1083.3 951.2L1083.5 951.9L1083.8 950.9L1084.0 951.9L1084.3 950.7L1084.5 951.7L1084.7 950.1L1085.0 951.6L1085.2 949.5L1085.4 951.7L1085.7 949.9L1085.9 951.5L1086.2 949.4L1086.4 950.6L1086.6 949.4L1086.9 950.9L1087.1 949.4L1087.4 950.4L1087.6 949.4L1087.9 950.9L1088.1 949.4L1088.4 951.2L1088.6 949.4L1088.8 951.9L1089.1 949.4L1089.3 951.9L1089.6 950.1L1089.8 951.8L1090.1 950.4L1090.3 952.0L1090.6 950.3L1090.8 952.7L1091.0 950.7L1091.3 952.6L1091.5 951.7L1091.8 952.8L1092.0 951.4L1092.3 952.8L1092.5 952.1L1092.8 953.7L1093.0 952.1L1093.3 953.8L1093.5 952.3L1093.8 954.4L1094.0 952.3L1094.3 954.9L1094.5 952.6L1094.8 955.1L1095.0 953.2L1095.3 955.1L1095.5 953.0L1095.8 954.9L1096.0 953.8L1096.3 955.1L1096.5 953.7L1096.8 955.1L1097.0 954.6L1097.3 955.1L1097.5 953.9L1097.8 955.1L1098.0 953.1L1098.3 955.1L1098.5 953.2L1098.8 954.8L1099.0 951.8L1099.3 954.4L1099.5 951.3L1099.8 953.4L1100.0 951.3L1100.2 953.7L1100.5 951.2L1100.7 952.9L1101.0 951.2L1101.2 952.3L1101.5 951.2L1101.7 952.3L1102.0 951.2L1102.2 952.4L1102.5 951.3L1102.7 952.2L1103.0 951.2L1103.2 952.8L1103.5 951.2L1103.7 952.8L1104.0 951.6L1104.2 953.1L1104.5 951.4L1104.7 952.9L1105.0 951.5L1105.2 953.0L1105.5 951.4L1105.7 953.0L1106.0 951.3L1106.2 952.7L1106.5 951.9L1106.7 953.3L1106.9 952.0L1107.2 953.3L1107.4 951.9L1107.7 953.3L1107.9 952.2L1108.2 953.3L1108.4 952.5L1108.7 953.6L1108.9 952.7L1109.2 953.7L1109.4 952.7L1109.7 953.7L1109.9 952.7L1110.2 953.6L1110.4 952.7L1110.7 953.7L1110.9 952.7L1111.2 953.7L1111.4 952.7L1111.7 953.5L1111.9 952.7L1112.2 953.7L1112.4 952.7L1112.7 953.6L1112.9 952.9L1113.2 953.6L1113.4 953.0L1113.7 954.4L1113.9 953.1L1114.2 954.4L1114.4 953.4L1114.7 954.7L1114.9 953.6L1115.2 955.0L1115.4 953.7L1115.7 955.4L1115.9 953.4L1116.2 955.4L1116.4 954.5L1116.7 955.4L1116.9 954.5L1117.2 955.4L1117.4 954.4L1117.7 955.7L1117.9 954.9L1118.1 957.3L1118.4 954.9L1118.6 957.1L1118.9 955.8L1119.1 958.2L1119.3 955.7L1119.6 959.0L1119.8 956.8L1120.1 959.9L1120.3 957.0L1120.5 959.9L1120.8 957.8L1121.0 959.9L1121.3 959.4L1121.5 959.9L1121.8 959.4L1122.0 959.9L1122.3 959.4L1122.5 959.9L1122.7 959.4L1123.0 959.9L1123.2 959.4L1123.5 959.9L1123.7 959.5L1124.0 959.9L1124.2 959.4L1124.5 959.9L1124.7 956.6L1125.0 959.1L1125.2 954.0L1125.4 957.0L1125.6 950.5L1125.9 952.6L1126.1 949.3L1126.4 950.1L1126.6 948.4L1126.9 949.9L1127.1 948.0L1127.4 950.0L1127.6 947.9L1127.8 950.1L1128.1 947.6L1128.3 949.9L1128.6 947.6L1128.8 949.2L1129.1 947.6L1129.3 948.9L1129.6 947.9L1129.8 952.4L1130.1 948.0L1130.3 956.2L1130.5 951.4L1130.8 959.4L1131.0 955.3L1131.3 959.9L1131.5 959.1L1131.7 959.9L1132.0 957.3L1132.2 959.9L1132.5 956.3L1132.7 958.9L1132.9 953.7L1133.2 957.1L1133.4 954.0L1133.7 956.3L1133.9 952.9L1134.1 955.2L1134.4 952.3L1134.6 953.1L1134.9 952.1L1135.1 953.1L1135.4 951.8L1135.6 953.1L1135.9 951.9L1136.1 953.1L1136.4 951.2L1136.6 953.0L1136.9 950.8L1137.1 952.8L1137.4 950.7L1137.6 951.8L1137.9 950.7L1138.1 951.9L1138.4 950.7L1138.6 952.1L1138.9 950.7L1139.1 951.7L1139.3 950.7L1139.6 952.0L1139.8 950.7L1140.1 951.7L1140.3 950.7L1140.6 952.8L1140.8 950.7L1141.1 952.9L1141.3 951.3L1141.5 953.8L1141.8 951.6L1142.0 953.7L1142.3 951.6L1142.5 953.5L1142.8 951.4L1143.0 954.0L1143.3 952.5L1143.5 954.3L1143.7 952.9L1144.0 954.6L1144.2 954.2L1144.5 954.6L1144.7 953.5L1145.0 954.5L1145.2 953.6L1145.4 954.6L1145.7 953.5L1145.9 954.6L1146.2 953.3L1146.4 954.5L1146.7 953.3L1146.9 954.4L1147.1 953.3L1147.4 954.3L1147.6 953.3L1147.9 954.6L1148.1 953.4L1148.4 954.3L1148.6 953.3L1148.8 954.3L1149.1 953.3L1149.3 954.6L1149.6 953.3L1149.8 954.3L1150.1 953.3L1150.3 954.3L1150.5 953.3L1150.8 954.0L1151.0 953.3L1151.3 954.3L1151.5 953.3L1151.8 954.3L1152.0 953.3L1152.2 954.4L1152.5 953.3L1152.7 954.3L1153.0 953.3L1153.2 955.2L1153.5 953.7L1153.7 954.8L1153.9 953.4L1154.2 955.2L1154.4 953.5L1154.7 955.1L1154.9 953.5L1155.2 955.2L1155.4 954.1L1155.7 955.2L1155.9 954.0L1156.1 955.2L1156.4 954.2L1156.6 955.2L1156.9 954.1L1157.1 955.2L1157.4 954.7L1157.6 955.7L1157.8 954.7L1158.1 955.8L1158.3 954.8L1158.6 955.6L1158.8 954.7L1159.1 955.9L1159.3 954.8L1159.6 955.9L1159.8 954.7L1160.1 955.9L1160.3 954.7L1160.6 955.8L1160.8 954.9L1161.1 956.3L1161.3 955.1L1161.6 956.1L1161.8 955.0L1162.0 956.5L1162.3 955.1L1162.5 956.7L1162.8 955.5L1163.0 956.8L1163.3 955.2L1163.5 956.6L1163.8 955.9L1164.0 956.8L1164.3 955.7L1164.5 956.8L1164.8 956.2L1165.0 957.0L1165.3 956.2L1165.5 957.0L1165.8 956.2L1166.0 957.2L1166.2 956.2L1166.5 957.1L1166.7 956.2L1167.0 957.5L1167.2 956.5L1167.5 958.0L1167.7 956.8L1168.0 957.7L1168.2 956.5L1168.5 958.5L1168.7 956.9L1169.0 958.4L1169.2 956.8L1169.5 958.0L1169.7 956.8L1170.0 958.5L1170.2 956.8L1170.4 958.7L1170.7 957.5L1170.9 958.2L1171.2 957.4L1171.4 958.9L1171.7 957.7L1171.9 958.6L1172.2 957.7L1172.4 958.6L1172.7 958.1L1172.9 958.9L1173.2 957.5L1173.4 958.9L1173.6 956.9L1173.9 958.9L1174.1 955.9L1174.4 958.7L1174.6 956.4L1174.9 958.0L1175.1 956.0L1175.3 958.1L1175.6 955.1L1175.8 957.9L1176.1 955.3L1176.3 956.9L1176.6 955.2L1176.8 956.3L1177.0 955.1L1177.3 956.0L1177.5 955.1L1177.8 956.3L1178.0 955.3L1178.3 956.1L1178.5 955.3L1178.8 956.3L1179.0 955.3L1179.3 956.2L1179.5 955.1L1179.8 956.3L1180.0 955.3L1180.3 956.3L1180.5 955.4L1180.8 956.3L1181.0 955.2L1181.3 956.3L1181.5 955.2L1181.8 956.3L1182.0 955.4L1182.3 956.3L1182.5 955.9L1182.8 956.3L1183.0 955.1L1183.2 956.3L1183.5 954.6L1183.7 956.3L1184.0 955.0L1184.2 956.3L1184.5 954.8L1184.7 955.9L1184.9 954.4L1185.2 956.3L1185.4 954.0L1185.7 955.8L1185.9 954.2L1186.2 955.6L1186.4 954.0L1186.6 954.9L1186.9 954.0L1187.1 954.7L1187.4 954.1L1187.6 955.2L1187.9 954.0L1188.1 955.2L1188.4 954.0L1188.6 955.1L1188.8 954.0L1189.1 955.0L1189.3 954.0L1189.6 954.9L1189.8 954.0L1190.1 954.9L1190.3 954.0L1190.5 954.9L1190.8 954.0L1191.0 954.6L1191.3 954.0L1191.5 955.1L1191.8 954.0L1192.0 955.2L1192.2 954.0L1192.5 955.1L1192.7 954.2L1193.0 955.2L1193.2 954.5L1193.5 955.2L1193.7 954.4L1194.0 955.2L1194.2 953.6L1194.5 955.2L1194.7 953.7L1194.9 955.2L1195.2 953.2L1195.4 954.9L1195.7 952.8L1195.9 955.0L1196.2 952.2L1196.4 954.7L1196.7 952.2L1196.9 954.2L1197.2 952.2L1197.4 954.2L1197.7 951.8L1197.9 953.8L1198.2 951.8L1198.4 953.0L1198.7 951.8L1198.9 952.4L1199.2 951.1L1199.4 952.3L1199.7 950.7L1199.9 952.4L1200.1 950.6L1200.4 952.1L1200.6 950.3L1200.9 952.3L1201.1 950.2L1201.4 952.0L1201.6 950.4L1201.8 952.1L1202.1 950.2L1202.3 951.5L1202.6 949.5L1202.8 951.2L1203.1 949.8L1203.3 951.8L1203.5 949.6L1203.8 950.9L1204.0 949.5L1204.3 951.6L1204.5 948.9L1204.8 950.7L1205.0 948.8L1205.2 950.8L1205.5 949.1L1205.7 950.2L1206.0 949.2L1206.2 950.1L1206.5 948.5L1206.7 950.1L1207.0 948.6L1207.2 949.9L1207.4 948.5L1207.7 949.2L1207.9 948.8L1208.2 949.2L1208.4 948.6L1208.7 949.2L1208.9 948.5L1209.2 949.2L1209.4 948.5L1209.6 949.2L1209.9 948.5L1210.1 949.2L1210.4 948.5L1210.6 949.2L1210.9 948.5L1211.1 949.2L1211.4 948.5L1211.6 949.0L1211.9 948.5L1212.1 949.0L1212.4 948.5L1212.6 949.0L1212.9 948.5L1213.1 949.2L1213.3 948.6L1213.6 949.2L1213.8 948.5L1214.1 949.2L1214.3 948.5L1214.6 949.2L1214.8 948.6L1215.1 949.2L1215.3 948.5L1215.6 949.2L1215.8 948.6L1216.1 949.2L1216.3 948.5L1216.5 949.1L1216.8 948.5L1217.0 949.2L1217.3 948.5L1217.5 949.2L1217.8 947.8L1218.0 949.2L1218.3 947.2L1218.5 949.2L1218.7 947.1L1219.0 949.2L1219.2 946.1L1219.5 948.7L1219.7 946.3L1220.0 948.5L1220.2 945.6L1220.4 948.6L1220.7 945.2L1220.9 947.2L1221.2 945.5L1221.4 946.8L1221.7 945.2L1221.9 945.9L1222.2 944.6L1222.4 945.8L1222.6 943.4L1222.9 945.1L1223.1 942.3L1223.4 944.5L1223.6 942.1L1223.9 944.9L1224.1 940.9L1224.4 944.1L1224.6 941.4L1224.9 943.1L1225.1 940.0L1225.4 943.5L1225.6 939.3L1225.9 942.4L1226.1 939.9L1226.4 942.2L1226.6 939.3L1226.9 940.7L1227.1 939.2L1227.4 940.1L1227.6 939.2L1227.8 943.3L1228.1 939.9L1228.3 945.2L1228.5 940.7L1228.8 946.9L1229.0 942.5L1229.2 946.4L1229.5 942.2L1229.7 947.6L1230.0 944.3L1230.2 948.8L1230.4 947.0L1230.7 949.0L1230.9 947.5L1231.1 949.0L1231.4 946.2L1231.6 948.6L1231.9 946.0L1232.1 948.0L1232.4 944.8L1232.6 948.8L1232.8 943.9L1233.1 948.3L1233.3 944.5L1233.6 947.0L1233.8 943.1L1234.1 946.8L1234.3 943.3L1234.5 946.7L1234.8 941.7L1235.0 946.0L1235.3 941.9L1235.5 945.5L1235.8 942.1L1236.0 943.6L1236.2 941.2L1236.5 943.2L1236.7 940.8L1237.0 942.4L1237.2 940.8L1237.5 942.0L1237.7 940.8L1238.0 942.3L1238.2 941.4L1238.4 943.0L1238.7 941.0L1238.9 942.6L1239.2 940.9L1239.4 943.7L1239.7 941.2L1239.9 943.7L1240.1 941.2L1240.4 943.7L1240.6 942.1L1240.9 943.7L1241.1 942.6L1241.4 943.7L1241.6 942.6L1241.8 943.7L1242.1 941.9L1242.3 943.7L1242.6 941.0L1242.8 943.7L1243.1 940.9L1243.3 943.2L1243.6 940.4L1243.8 943.1L1244.1 940.5L1244.3 942.6L1244.6 938.9L1244.8 941.8L1245.1 939.3L1245.3 941.0L1245.6 937.8L1245.8 940.7L1246.0 937.6L1246.3 941.5L1246.5 938.1L1246.8 939.9L1247.0 937.2L1247.3 939.8L1247.5 936.6L1247.8 939.6L1248.0 936.6L1248.3 938.7L1248.5 936.4L1248.8 938.7L1249.0 936.4L1249.3 937.2L1249.5 935.8L1249.8 937.2L1250.0 935.1L1250.3 937.2L1250.5 934.6L1250.7 936.9L1251.0 933.8L1251.2 936.4L1251.5 933.7L1251.7 936.4L1252.0 932.5L1252.2 935.6L1252.5 932.5L1252.7 935.1L1253.0 932.0L1253.2 935.2L1253.5 932.4L1253.7 935.2L1254.0 932.0L1254.2 934.1L1254.5 932.2L1254.7 933.3L1255.0 932.0L1255.2 934.0L1255.5 932.0L1255.7 934.3L1255.9 932.1L1256.2 935.1L1256.4 932.6L1256.7 935.7L1256.9 933.1L1257.2 935.5L1257.4 933.1L1257.6 936.2L1257.9 933.3L1258.1 936.7L1258.4 935.2L1258.6 936.8L1258.9 935.2L1259.1 937.2L1259.3 935.6L1259.6 937.0L1259.8 934.2L1260.0 936.9L1260.3 933.9L1260.5 936.0L1260.7 933.3L1261.0 935.9L1261.2 933.2L1261.4 935.1L1261.7 932.6L1261.9 935.1L1262.2 932.6L1262.4 933.5L1262.6 932.6L1262.9 934.4L1263.1 932.6L1263.4 935.4L1263.6 933.5L1263.8 937.0L1264.1 934.0L1264.3 936.8L1264.6 934.0L1264.8 937.2L1265.1 934.9L1265.3 937.3L1265.5 935.8L1265.8 938.3L1266.0 936.0L1266.3 938.3L1266.5 937.1L1266.8 938.3L1267.0 937.4L1267.3 938.2L1267.5 936.7L1267.7 938.3L1268.0 936.6L1268.2 938.3L1268.5 936.0L1268.7 938.3L1269.0 935.7L1269.2 938.3L1269.5 936.2L1269.7 938.3L1270.0 935.5L1270.2 937.1L1270.5 935.1L1270.7 937.5L1271.0 934.8L1271.2 937.1L1271.5 935.0L1271.7 936.6L1271.9 934.3L1272.2 936.7L1272.4 934.2L1272.7 937.1L1272.9 934.7L1273.2 936.5L1273.4 934.6L1273.7 936.0L1273.9 934.2L1274.2 935.2L1274.4 934.1L1274.7 935.0L1274.9 932.5L1275.1 935.0L1275.4 931.7L1275.6 935.0L1275.9 931.2L1276.1 934.4L1276.4 930.3L1276.6 932.9L1276.9 928.9L1277.1 933.5L1277.3 929.5L1277.6 932.2L1277.8 929.1L1278.1 931.7L1278.3 927.4L1278.6 932.6L1278.8 927.8L1279.0 930.6L1279.3 927.3L1279.5 931.1L1279.8 926.5L1280.0 929.5L1280.3 926.5L1280.5 928.1L1280.7 926.5L1281.0 927.6L1281.2 926.5L1281.5 929.5L1281.7 926.5L1282.0 930.6L1282.2 926.9L1282.4 930.1L1282.7 927.7L1282.9 930.6L1283.2 927.8L1283.4 931.6L1283.7 928.1L1283.9 932.5L1284.1 929.5L1284.4 932.9L1284.6 929.9L1284.9 932.8L1285.1 931.0L1285.4 932.8L1285.6 931.1L1285.9 932.8L1286.1 930.6L1286.4 932.8L1286.6 930.2L1286.9 932.4L1287.1 930.6L1287.4 932.5L1287.6 929.5L1287.8 932.8L1288.1 928.9L1288.3 931.8L1288.6 929.7L1288.8 932.1L1289.1 929.3L1289.3 930.7L1289.6 928.7L1289.8 930.4L1290.1 928.8L1290.3 930.5L1290.6 928.7L1290.8 929.6L1291.1 928.7L1291.3 929.6L1291.6 928.7L1291.8 929.6L1292.0 928.7L1292.3 929.6L1292.5 928.9L1292.8 929.6L1293.0 928.8L1293.3 929.6L1293.5 928.7L1293.7 929.6L1294.0 928.7L1294.2 929.6L1294.5 928.8L1294.7 929.6L1295.0 928.7L1295.2 929.6L1295.5 928.7L1295.7 929.6L1295.9 928.7L1296.2 929.6L1296.4 928.8L1296.7 929.6L1296.9 929.0L1297.2 929.6L1297.4 928.3L1297.6 929.6L1297.9 927.8L1298.1 929.6L1298.4 927.4L1298.6 929.6L1298.9 927.7L1299.1 929.0L1299.3 926.9L1299.6 929.3L1299.8 926.3L1300.1 928.7L1300.3 926.1L1300.6 928.7L1300.8 926.0L1301.0 929.0L1301.3 926.3L1301.5 928.9L1301.8 925.8L1302.0 927.7L1302.3 925.6L1302.5 927.5L1302.7 925.4L1303.0 927.2L1303.2 925.4L1303.5 927.1L1303.7 925.4L1304.0 926.3L1304.2 924.2L1304.4 926.3L1304.7 922.4L1304.9 925.9L1305.2 920.9L1305.4 925.0L1305.7 919.0L1305.9 924.1L1306.1 918.6L1306.4 922.3L1306.6 916.6L1306.9 922.9L1307.1 916.0L1307.4 920.2L1307.6 915.5L1307.9 918.2L1308.1 915.5L1308.3 916.5L1308.6 914.0L1308.8 916.5L1309.1 913.9L1309.3 916.3L1309.6 913.2L1309.8 916.6L1310.1 911.2L1310.3 915.8L1310.6 911.2L1310.8 915.1L1311.1 910.1L1311.3 913.5L1311.6 909.2L1311.8 914.4L1312.1 908.9L1312.3 913.3L1312.6 908.9L1312.8 913.1L1313.1 908.9L1313.3 911.6L1313.6 908.8L1313.8 910.0L1314.1 908.1L1314.3 910.0L1314.5 907.2L1314.8 910.0L1315.0 907.0L1315.3 910.0L1315.5 907.3L1315.8 909.3L1316.0 906.7L1316.3 909.1L1316.5 906.7L1316.8 909.6L1317.0 906.6L1317.3 908.9L1317.5 906.6L1317.7 907.8L1318.0 901.0L1318.2 906.9L1318.5 898.2L1318.7 903.0L1318.9 890.6L1319.2 900.4L1319.4 889.7L1319.7 897.6L1319.9 886.3L1320.1 892.0L1320.4 883.8L1320.6 886.1L1320.9 883.4L1321.1 885.8L1321.4 882.1L1321.6 886.0L1321.8 881.6L1322.1 885.4L1322.3 880.4L1322.6 885.1L1322.8 880.0L1323.1 884.2L1323.3 879.8L1323.6 883.7L1323.8 879.8L1324.1 882.1L1324.3 879.8L1324.5 886.9L1324.7 883.4L1325.0 898.1L1325.2 886.1L1325.4 903.2L1325.6 895.0L1325.8 905.7L1326.1 899.0L1326.3 905.5L1326.6 894.6L1326.8 901.4L1327.1 893.9L1327.3 898.7L1327.5 889.0L1327.8 894.1L1328.0 889.0L1328.3 892.1L1328.5 889.0L1328.8 897.0L1329.0 890.3L1329.2 899.2L1329.5 891.7L1329.7 898.4L1330.0 890.4L1330.2 902.0L1330.5 896.1L1330.7 903.3L1330.9 898.0L1331.2 907.5L1331.4 897.8L1331.7 907.9L1331.9 902.7L1332.2 907.8L1332.4 906.5L1332.6 907.8L1332.9 903.4L1333.1 907.9L1333.3 902.0L1333.6 907.7L1333.8 899.9L1334.0 905.2L1334.3 898.6L1334.5 904.2L1334.8 897.2L1335.0 902.4L1335.2 895.6L1335.5 900.1L1335.7 895.6L1335.9 898.8L1336.2 895.6L1336.4 899.5L1336.7 895.6L1336.9 902.9L1337.1 896.7L1337.4 902.0L1337.6 896.6L1337.9 905.5L1338.1 899.3L1338.4 906.0L1338.6 901.3L1338.8 906.8L1339.1 902.6L1339.3 906.1L1339.6 902.4L1339.8 906.7L1340.1 904.6L1340.3 906.8L1340.5 901.7L1340.8 906.3L1341.0 898.8L1341.2 904.4L1341.5 895.9L1341.7 905.1L1341.9 895.8L1342.2 902.7L1342.4 893.5L1342.6 899.5L1342.9 891.2L1343.1 897.0L1343.3 891.2L1343.6 892.6L1343.8 890.7L1344.1 892.6L1344.3 889.8L1344.5 892.6L1344.8 889.5L1345.0 892.6L1345.2 887.9L1345.5 892.4L1345.7 887.9L1345.9 892.1L1346.2 888.5L1346.4 891.4L1346.6 887.9L1346.9 890.8L1347.1 888.2L1347.3 892.1L1347.6 889.2L1347.8 893.0L1348.0 889.1L1348.3 893.2L1348.5 889.0L1348.7 894.0L1349.0 889.8L1349.2 894.8L1349.4 892.4L1349.7 894.8L1349.9 893.3L1350.1 894.8L1350.4 891.2L1350.6 894.8L1350.9 891.7L1351.1 894.3L1351.3 889.1L1351.6 893.5L1351.8 888.8L1352.0 891.7L1352.3 887.4L1352.5 891.6L1352.7 886.8L1353.0 890.0L1353.2 886.8L1353.4 888.6L1353.7 886.8L1353.9 889.0L1354.2 886.8L1354.4 889.5L1354.7 887.0L1354.9 890.3L1355.2 886.8L1355.4 891.3L1355.7 888.2L1355.9 890.9L1356.2 888.9L1356.4 891.2L1356.7 887.9L1356.9 891.5L1357.2 888.9L1357.4 891.5L1357.7 888.8L1357.9 891.5L1358.2 888.6L1358.4 891.5L1358.7 890.1L1358.9 891.5L1359.1 887.3L1359.4 891.5L1359.6 886.5L1359.8 890.0L1360.1 885.2L1360.3 890.7L1360.5 885.6L1360.8 890.6L1361.0 885.5L1361.2 888.5L1361.5 884.6L1361.7 887.7L1361.9 884.8L1362.2 886.1L1362.4 880.1L1362.7 886.1L1362.9 879.2L1363.1 885.7L1363.4 877.4L1363.6 883.8L1363.8 873.8L1364.1 882.6L1364.3 873.6L1364.5 879.5L1364.8 873.6L1365.0 876.6L1365.2 873.1L1365.5 875.2L1365.7 869.9L1365.9 873.7L1366.2 865.4L1366.4 873.7L1366.6 865.9L1366.9 873.3L1367.1 862.3L1367.3 871.9L1367.6 861.9L1367.8 868.6L1368.0 860.4L1368.3 866.1L1368.5 860.7L1368.7 865.6L1369.0 860.4L1369.2 866.8L1369.4 861.0L1369.7 865.4L1369.9 861.2L1370.2 866.9L1370.4 861.1L1370.6 868.4L1370.9 863.0L1371.1 867.7L1371.3 865.2L1371.6 868.7L1371.8 866.7L1372.0 868.7L1372.3 854.2L1372.5 866.9L1372.8 849.6L1373.0 861.8L1373.3 843.6L1373.5 855.0L1373.7 839.4L1374.0 840.4L1374.2 837.7L1374.5 840.4L1374.7 836.4L1375.0 840.4L1375.2 835.3L1375.5 840.2L1375.7 835.7L1376.0 839.0L1376.2 832.9L1376.5 839.9L1376.7 832.5L1377.0 839.0L1377.2 832.5L1377.5 837.0L1377.7 832.5L1378.0 838.0L1378.2 832.5L1378.5 836.9L1378.7 832.5L1379.0 835.0L1379.2 832.5L1379.5 834.9L1379.7 832.5L1379.9 843.7L1380.2 833.4L1380.4 848.2L1380.7 842.5L1380.9 856.5L1381.2 844.4L1381.4 856.8L1381.6 855.4L1381.9 856.8L1382.1 849.0L1382.4 856.8L1382.6 843.4L1382.9 853.8L1383.1 842.1L1383.3 847.5L1383.6 839.5L1383.8 841.2L1384.0 839.5L1384.3 849.1L1384.5 841.8L1384.7 852.1L1384.9 844.8L1385.1 857.9L1385.4 852.2L1385.6 857.8L1385.8 852.3L1386.1 857.9L1386.3 845.3L1386.5 852.4L1386.8 843.1L1387.0 849.6L1387.3 840.7L1387.5 849.4L1387.7 836.2L1388.0 842.2L1388.2 836.2L1388.4 843.4L1388.7 836.2L1388.9 848.0L1389.1 840.4L1389.4 857.5L1389.6 845.8L1389.8 860.9L1390.1 845.4L1390.3 866.7L1390.6 855.2L1390.8 867.1L1391.0 862.1L1391.3 870.9L1391.5 869.2L1391.7 873.4L1392.0 869.2L1392.2 873.8L1392.5 869.9L1392.7 877.5L1392.9 871.5L1393.2 876.2L1393.4 872.1L1393.7 880.5L1393.9 871.9L1394.2 881.5L1394.4 872.9L1394.6 882.9L1394.9 874.9L1395.1 882.9L1395.4 878.9L1395.6 882.8L1395.9 881.0L1396.1 882.8L1396.4 879.8L1396.6 882.8L1396.8 877.9L1397.1 882.9L1397.3 877.8L1397.6 881.7L1397.8 876.0L1398.1 880.8L1398.3 874.6L1398.5 879.3L1398.8 874.8L1399.0 879.1L1399.3 873.6L1399.5 878.3L1399.8 873.6L1400.0 876.6L1400.2 874.0L1400.5 875.3L1400.7 861.9L1401.0 872.8L1401.2 849.0L1401.5 865.2L1401.7 842.7L1401.9 853.2L1402.2 839.4L1402.4 840.4L1402.7 836.6L1402.9 840.4L1403.1 834.7L1403.4 840.4L1403.6 834.7L1403.8 840.4L1404.1 834.9L1404.3 839.0L1404.5 834.9L1404.8 839.4L1405.0 834.7L1405.2 838.2L1405.5 834.7L1405.7 838.0L1405.9 834.7L1406.2 840.7L1406.4 835.7L1406.6 845.1L1406.9 838.5L1407.1 848.7L1407.4 841.4L1407.6 850.5L1407.8 840.6L1408.1 853.5L1408.3 844.9L1408.5 854.6L1408.8 848.3L1409.0 854.6L1409.2 847.5L1409.5 854.6L1409.7 844.5L1410.0 853.9L1410.2 841.8L1410.5 850.8L1410.7 839.5L1410.9 844.4L1411.2 839.5L1411.4 843.6L1411.7 839.5L1411.9 846.0L1412.1 839.5L1412.4 847.7L1412.6 840.0L1412.8 851.1L1413.1 844.4L1413.3 853.5L1413.5 845.0L1413.8 853.5L1414.0 849.4L1414.2 853.5L1414.5 850.8L1414.7 853.5L1415.0 844.2L1415.2 852.9L1415.4 839.9L1415.7 848.0L1415.9 839.3L1416.2 845.0L1416.4 837.3L1416.7 839.3L1416.9 835.6L1417.1 839.3L1417.4 835.0L1417.6 838.3L1417.9 831.7L1418.1 839.3L1418.4 831.4L1418.6 837.3L1418.8 828.9L1419.1 837.1L1419.3 827.5L1419.6 837.5L1419.8 827.5L1420.1 834.2L1420.3 827.8L1420.5 834.5L1420.8 827.5L1421.0 830.5L1421.3 827.5L1421.5 832.0L1421.7 827.5L1422.0 831.2L1422.2 827.5L1422.4 833.8L1422.7 827.5L1422.9 833.8L1423.1 829.4L1423.4 833.8L1423.6 829.1L1423.8 833.8L1424.1 830.9L1424.3 833.8L1424.3 824.5L1424.4 833.8L1424.4 817.2L1424.4 827.2L1424.4 806.8L1424.4 819.3L1424.5 802.6L1424.5 804.6L1424.7 799.1L1425.0 804.6L1425.2 799.5L1425.5 804.6L1425.7 799.3L1426.0 804.6L1426.2 800.2L1426.4 804.4L1426.7 797.6L1426.9 803.1L1427.2 797.8L1427.4 803.7L1427.7 797.8L1427.9 802.5L1428.1 797.4L1428.4 802.5L1428.6 797.4L1428.9 800.0L1429.1 797.4L1429.4 806.4L1429.6 799.0L1429.8 809.9L1430.1 799.8L1430.3 813.3L1430.5 805.6L1430.8 817.0L1431.0 808.9L1431.3 821.9L1431.5 811.2L1431.7 822.6L1432.0 815.9L1432.2 822.6L1432.4 817.2L1432.7 822.6L1432.9 811.5L1433.1 819.9L1433.4 810.9L1433.6 815.1L1433.8 810.3L1434.0 812.3L1434.3 806.1L1434.5 811.5L1434.8 806.4L1435.0 812.3L1435.2 803.3L1435.5 812.2L1435.7 799.1L1436.0 810.5L1436.2 796.5L1436.5 808.3L1436.7 796.0L1437.0 805.3L1437.2 794.8L1437.4 806.0L1437.7 794.8L1437.9 802.9L1438.2 794.8L1438.4 800.1L1438.7 794.8L1438.9 800.6L1439.1 794.8L1439.4 805.1L1439.6 794.8L1439.8 809.9L1440.1 797.0L1440.3 811.9L1440.5 803.8L1440.8 811.2L1441.0 805.6L1441.2 813.5L1441.5 806.6L1441.7 813.6L1442.0 799.8L1442.2 812.8L1442.5 801.0L1442.7 808.4L1442.9 794.0L1443.2 808.0L1443.4 795.3L1443.7 805.4L1443.9 789.7L1444.1 804.4L1444.4 789.1L1444.6 795.8L1444.9 789.0L1445.1 793.2L1445.4 788.4L1445.6 795.9L1445.8 790.7L1446.1 798.0L1446.3 788.6L1446.6 801.6L1446.8 789.6L1447.0 802.4L1447.3 790.9L1447.5 803.6L1447.8 792.6L1448.0 803.6L1448.3 795.7L1448.5 804.6L1448.7 800.7L1449.0 804.6L1449.2 800.0L1449.4 804.6L1449.7 792.7L1449.9 804.5L1450.2 789.2L1450.4 798.6L1450.6 781.2L1450.9 793.3L1451.1 781.5L1451.3 786.5L1451.6 777.0L1451.8 781.4L1452.0 773.6L1452.3 781.4L1452.5 771.7L1452.8 778.7L1453.0 770.7L1453.2 779.6L1453.5 766.8L1453.7 777.2L1454.0 765.3L1454.2 773.6L1454.5 762.6L1454.7 770.1L1454.9 762.6L1455.2 769.1L1455.4 762.9L1455.7 771.2L1455.9 762.6L1456.1 773.1L1456.4 762.6L1456.6 777.4L1456.8 768.0L1457.1 778.2L1457.3 769.8L1457.5 780.1L1457.8 772.3L1458.0 780.1L1458.2 774.3L1458.5 779.9L1458.7 770.5L1459.0 778.9L1459.2 768.2L1459.5 778.2L1459.7 768.6L1459.9 776.0L1460.2 767.9L1460.4 779.3L1460.7 767.9L1460.9 775.2L1461.1 765.2L1461.4 773.6L1461.6 765.2L1461.9 767.8L1462.1 765.2L1462.3 774.3L1462.6 765.9L1462.8 778.1L1463.0 766.9L1463.3 779.8L1463.5 771.1L1463.7 779.8L1464.0 772.3L1464.2 780.1L1464.4 776.3L1464.7 780.1L1464.9 766.8L1465.1 776.5L1465.4 758.2L1465.6 772.5L1465.8 749.5L1466.1 765.1L1466.3 749.3L1466.5 750.4L1466.7 744.5L1467.0 750.4L1467.2 744.8L1467.5 749.8L1467.7 744.5L1467.9 750.4L1468.2 742.0L1468.4 749.7L1468.7 742.2L1468.9 750.0L1469.1 742.0L1469.4 745.9L1469.6 742.0L1469.8 750.0L1470.1 742.0L1470.3 756.9L1470.5 742.1L1470.8 760.1L1471.0 747.9L1471.2 763.1L1471.5 750.5L1471.7 763.2L1471.9 755.1L1472.2 763.3L1472.4 752.8L1472.6 763.3L1472.9 745.6L1473.1 761.6L1473.4 734.9L1473.6 757.8L1473.8 730.4L1474.1 747.6L1474.3 730.4L1474.5 740.9L1474.8 730.5L1475.0 740.6L1475.2 731.2L1475.5 740.8L1475.7 734.2L1475.9 745.9L1476.2 736.1L1476.4 749.0L1476.6 735.3L1476.9 750.3L1477.1 740.0L1477.4 750.4L1477.6 747.1L1477.7 749.1L1477.8 732.7L1478.0 742.2L1478.1 724.1L1478.2 734.5L1478.3 719.8L1478.4 731.3L1478.5 706.4L1478.7 721.7L1478.8 704.3L1478.9 710.6L1479.0 699.5L1479.1 701.5L1479.4 691.3L1479.6 701.5L1479.8 682.8L1480.0 695.0L1480.2 682.4L1480.5 687.1L1480.7 680.6L1480.9 692.6L1481.1 683.1L1481.3 705.0L1481.5 684.9L1481.7 711.4L1481.8 698.6L1482.0 716.8L1482.2 703.2L1482.4 721.3L1482.6 715.8L1482.8 728.4L1483.0 723.5L1483.2 729.7L1483.5 712.7L1483.7 727.5L1483.9 710.8L1484.2 719.5L1484.4 701.0L1484.6 712.7L1484.8 699.5L1485.1 704.2L1485.3 699.5L1485.5 711.6L1485.8 699.5L1486.0 727.7L1486.2 705.9L1486.5 730.1L1486.7 717.9L1486.9 739.1L1487.2 724.7L1487.4 742.2L1487.6 740.0L1487.8 742.0L1487.9 723.2L1488.0 737.7L1488.2 719.8L1488.3 727.8L1488.4 704.7L1488.5 724.3L1488.7 702.0L1488.8 715.0L1488.9 702.0L1489.1 714.7L1489.3 702.0L1489.5 722.0L1489.7 709.8L1489.8 728.2L1490.0 714.0L1490.2 734.1L1490.4 724.0L1490.6 742.7L1490.7 738.6L1490.9 742.7L1491.2 726.4L1491.4 742.7L1491.6 721.4L1491.8 732.1L1492.0 710.7L1492.2 721.6L1492.4 706.6L1492.6 718.7L1492.8 701.1L1493.0 706.6L1493.3 700.9L1493.5 706.6L1493.8 700.7L1494.0 706.6L1494.2 700.7L1494.5 706.4L1494.7 700.7L1494.9 705.1L1495.2 700.7L1495.4 706.2L1495.7 700.7L1495.9 704.1L1496.1 700.7L1496.2 713.1L1496.4 702.1L1496.5 729.8L1496.7 712.3L1496.8 735.5L1497.0 722.0L1497.1 739.1L1497.3 729.4L1497.4 741.4L1497.7 735.9L1497.9 741.4L1498.1 729.5L1498.4 738.1L1498.6 722.4L1498.8 734.2L1499.1 717.7L1499.3 727.7L1499.6 716.2L1499.8 725.7L1500.0 716.2L1500.2 724.0L1500.5 716.2L1500.7 736.0L1500.9 723.8L1501.1 739.1L1501.4 730.4L1501.6 741.4L1501.8 739.6L1502.1 741.4L1502.3 735.5L1502.5 741.4L1502.8 729.6L1503.0 739.4L1503.2 725.3L1503.5 739.0L1503.7 722.7L1503.9 730.6L1504.2 722.7L1504.4 726.8L1504.6 722.7L1504.9 735.8L1505.1 725.2L1505.3 737.7L1505.5 727.6L1505.8 740.1L1506.0 734.0L1506.2 741.4L1506.4 730.8L1506.6 741.3L1506.7 720.4L1506.9 736.9L1507.1 715.7L1507.2 727.5L1507.4 707.9L1507.6 720.7L1507.8 704.4L1508.0 707.9L1508.2 703.4L1508.5 707.9L1508.7 698.2L1509.0 707.9L1509.2 698.2L1509.5 707.6L1509.7 698.2L1510.0 706.2L1510.2 698.2L1510.4 707.9L1510.7 698.5L1510.9 707.2L1511.2 698.2L1511.4 706.1L1511.7 698.2L1511.9 703.0L1512.2 698.2L1512.4 704.3L1512.7 698.2L1512.9 704.6L1513.1 700.2L1513.3 712.8L1513.6 704.2L1513.8 720.6L1514.0 704.3L1514.3 724.7L1514.5 716.5L1514.7 724.7L1515.0 715.8L1515.2 723.4L1515.4 713.9L1515.7 724.7L1515.9 711.9L1516.2 721.7L1516.4 709.8L1516.6 724.1L1516.9 709.8L1517.1 722.2L1517.4 710.1L1517.6 716.1L1517.9 707.2L1518.1 714.4L1518.3 707.2L1518.6 711.2L1518.8 707.2L1519.1 717.4L1519.3 707.7L1519.5 729.0L1519.8 710.5L1520.0 728.7L1520.2 715.2L1520.5 736.6L1520.7 722.7L1520.9 736.3L1521.2 733.6L1521.4 737.5L1521.6 731.4L1521.9 737.4L1522.1 725.6L1522.3 734.6L1522.6 724.7L1522.8 733.8L1523.0 721.7L1523.3 731.1L1523.5 721.4L1523.7 726.2L1524.0 720.1L1524.2 736.6L1524.4 727.9L1524.7 743.2L1524.9 728.6L1525.1 752.0L1525.4 736.6L1525.6 759.8L1525.8 746.3L1526.1 763.3L1526.3 761.4L1526.5 763.3L1526.8 745.6L1527.0 759.4L1527.2 736.1L1527.4 748.7L1527.7 735.7L1527.9 741.8L1528.1 733.0L1528.3 744.6L1528.4 736.2L1528.6 752.3L1528.7 743.9L1528.9 756.7L1529.0 749.7L1529.2 767.5L1529.4 759.2L1529.5 771.1L1529.7 768.6L1529.9 771.1L1530.1 760.4L1530.4 768.8L1530.6 749.7L1530.8 760.9L1531.1 741.0L1531.3 755.2L1531.5 740.7L1531.8 750.0L1532.0 740.7L1532.1 751.3L1532.2 744.0L1532.3 757.7L1532.4 746.9L1532.4 766.2L1532.5 759.4L1532.6 779.7L1532.7 764.1L1532.8 788.6L1532.9 774.8L1533.0 792.8L1533.1 780.6L1533.2 796.8L1533.3 794.8L1533.5 797.5L1533.7 794.8L1534.0 798.1L1534.2 795.2L1534.4 799.1L1534.7 794.8L1534.9 799.0L1535.1 796.4L1535.3 799.4L1535.6 789.5L1535.8 797.1L1536.0 786.0L1536.3 798.7L1536.5 774.2L1536.7 789.8L1537.0 765.3L1537.2 779.1L1537.4 765.2L1537.7 773.4L1537.9 763.9L1538.2 766.4L1538.4 763.9L1538.6 767.2L1538.9 763.9L1539.1 767.2L1539.3 763.9L1539.6 767.2L1539.8 763.9L1540.0 767.2L1540.3 763.9L1540.5 766.4L1540.7 763.9L1541.0 776.3L1541.2 767.5L1541.4 782.3L1541.7 773.3L1541.9 790.6L1542.1 773.9L1542.4 796.8L1542.6 784.5L1542.8 796.8L1543.1 794.4L1543.3 796.8L1543.5 787.0L1543.8 796.8L1544.0 784.2L1544.2 791.8L1544.5 778.7L1544.7 791.0L1544.9 777.9L1545.2 785.3L1545.4 774.2L1545.6 778.1L1545.9 774.2L1546.1 782.9L1546.4 776.5L1546.6 792.6L1546.8 779.4L1547.1 795.5L1547.3 784.6L1547.5 795.6L1547.8 789.4L1548.0 799.4L1548.2 796.9L1548.5 799.4L1548.7 790.9L1549.0 799.4L1549.2 788.6L1549.4 799.4L1549.7 784.6L1549.9 797.3L1550.2 778.4L1550.4 794.0L1550.6 779.9L1550.9 787.8L1551.1 776.8L1551.4 782.7L1551.6 772.9L1551.9 780.5L1552.1 771.9L1552.3 774.9L1552.6 771.9L1552.8 774.9L1553.0 771.6L1553.3 774.9L1553.5 767.8L1553.7 774.9L1554.0 768.2L1554.2 774.6L1554.4 767.8L1554.7 770.7L1554.9 767.8L1555.1 775.2L1555.4 767.8L1555.6 779.1L1555.9 772.5L1556.1 785.3L1556.3 769.6L1556.6 784.3L1556.8 778.2L1557.1 788.8L1557.3 782.2L1557.5 789.5L1557.8 786.7L1558.0 790.4L1558.2 781.7L1558.5 788.0L1558.7 782.4L1558.9 790.4L1559.2 779.4L1559.4 788.9L1559.6 779.4L1559.9 786.2L1560.1 779.4L1560.3 781.4L1560.6 776.8L1560.8 781.4L1561.1 776.8L1561.3 781.4L1561.6 776.8L1561.8 780.5L1562.1 776.8L1562.3 781.4L1562.5 776.8L1562.8 781.4L1563.0 776.8L1563.3 781.4L1563.5 776.8L1563.8 781.4L1564.0 776.8L1564.3 781.4L1564.5 776.8L1564.7 781.4L1565.0 776.8L1565.2 785.4L1565.5 777.5L1565.7 791.2L1565.9 782.5L1566.2 793.9L1566.4 781.1L1566.6 796.3L1566.9 790.4L1567.1 799.4L1567.3 793.8L1567.6 799.4L1567.8 791.6L1568.0 799.4L1568.3 789.0L1568.5 795.6L1568.7 786.3L1569.0 797.1L1569.2 785.4L1569.4 792.9L1569.7 783.8L1569.9 787.9L1570.1 783.2L1570.4 791.3L1570.6 785.5L1570.8 800.1L1571.1 786.3L1571.3 801.7L1571.5 794.7L1571.8 806.1L1572.0 798.2L1572.2 809.7L1572.5 800.7L1572.7 809.7L1573.0 801.9L1573.2 809.7L1573.4 800.1L1573.7 809.5L1573.9 792.3L1574.1 804.1L1574.4 789.7L1574.6 800.3L1574.9 787.8L1575.1 799.7L1575.3 787.3L1575.6 791.8L1575.8 787.1L1576.0 793.0L1576.3 789.5L1576.5 800.2L1576.7 790.6L1577.0 807.0L1577.2 797.7L1577.4 808.7L1577.6 803.3L1577.9 809.7L1578.1 801.9L1578.3 808.7L1578.6 798.9L1578.8 807.6L1579.0 789.5L1579.3 799.2L1579.5 783.6L1579.7 799.4L1580.0 783.5L1580.2 789.3L1580.5 783.2L1580.7 792.3L1580.9 783.2L1581.2 793.3L1581.4 785.7L1581.6 797.9L1581.9 789.7L1582.1 805.5L1582.4 790.7L1582.6 808.4L1582.8 794.4L1583.1 808.4L1583.3 800.0L1583.5 808.4L1583.8 802.6L1584.0 808.4L1584.2 803.7L1584.5 808.4L1584.7 801.8L1585.0 807.1L1585.2 797.4L1585.4 804.3L1585.7 797.4L1585.9 803.4L1586.1 796.2L1586.4 799.4L1586.6 795.2L1586.9 799.4L1587.1 796.6L1587.3 799.4L1587.6 796.6L1587.8 799.4L1588.1 794.8L1588.3 799.4L1588.5 794.8L1588.8 798.8L1589.0 794.8L1589.3 797.3L1589.5 794.8L1589.8 799.1L1590.0 794.8L1590.2 798.5L1590.5 794.8L1590.7 806.2L1591.0 794.8L1591.2 811.5L1591.4 799.1L1591.7 814.8L1591.9 805.2L1592.1 816.7L1592.4 807.0L1592.6 817.5L1592.8 814.6L1593.1 817.2L1593.3 812.3L1593.6 817.2L1593.8 808.1L1594.0 816.1L1594.3 808.0L1594.5 817.5L1594.8 808.0L1595.0 817.3L1595.3 804.2L1595.5 815.8L1595.7 805.6L1596.0 813.2L1596.2 804.9L1596.5 811.4L1596.7 803.9L1597.0 807.2L1597.2 803.9L1597.4 806.9L1597.7 803.9L1597.9 809.6L1598.2 803.9L1598.4 814.0L1598.6 805.6L1598.9 813.8L1599.1 805.9L1599.4 817.5L1599.6 809.1L1599.8 816.1L1600.1 809.4L1600.3 817.5L1600.6 814.5L1600.8 817.0L1601.0 806.9L1601.2 814.7L1601.5 807.0L1601.7 811.7L1601.9 803.8L1602.1 809.6L1602.4 801.3L1602.6 807.0L1602.8 802.4L1603.1 813.5L1603.3 801.5L1603.6 815.4L1603.8 805.2L1604.1 820.6L1604.3 804.8L1604.5 822.9L1604.8 806.7L1605.0 825.2L1605.3 813.3L1605.5 823.4L1605.7 816.5L1606.0 825.2L1606.2 823.2L1606.5 825.2L1606.7 823.2L1606.9 825.2L1607.2 823.2L1607.4 825.2L1607.7 823.2L1607.9 825.2L1608.1 823.2L1608.4 824.7L1608.6 823.2L1608.8 825.2L1609.1 823.2L1609.3 825.2L1609.5 814.7L1609.7 822.2L1609.9 805.5L1610.1 814.4L1610.4 794.4L1610.6 807.2L1610.8 789.7L1611.0 798.7L1611.2 787.1L1611.4 790.7L1611.6 787.1L1611.9 794.1L1612.1 787.1L1612.4 795.9L1612.6 788.4L1612.8 795.3L1613.1 788.7L1613.3 799.3L1613.6 789.8L1613.8 797.2L1614.0 793.0L1614.3 797.3L1614.5 793.0L1614.8 799.0L1615.0 793.1L1615.3 799.4L1615.5 792.8L1615.7 799.4L1616.0 790.0L1616.2 798.3L1616.4 785.4L1616.7 795.4L1616.9 784.5L1617.1 791.9L1617.4 785.5L1617.6 789.1L1617.8 782.3L1618.1 786.5L1618.3 780.4L1618.6 786.1L1618.8 776.3L1619.0 784.0L1619.3 772.0L1619.5 778.8L1619.8 772.0L1620.0 774.9L1620.2 772.1L1620.5 785.3L1620.7 776.3L1621.0 795.2L1621.2 787.5L1621.5 795.3L1621.7 784.8L1621.9 794.8L1622.2 778.3L1622.4 788.2L1622.7 775.1L1622.9 778.7L1623.1 776.6L1623.4 790.7L1623.6 782.2L1623.9 793.0L1624.1 786.5L1624.4 796.5L1624.6 789.1L1624.8 793.2L1625.1 780.9L1625.3 786.0L1625.6 772.4L1625.8 783.8L1626.1 770.8L1626.3 782.3L1626.5 771.8L1626.8 790.3L1627.0 779.7L1627.3 793.7L1627.5 785.7L1627.7 796.4L1628.0 792.1L1628.2 796.9L1628.5 792.1L1628.7 797.0L1629.0 793.6L1629.2 797.7L1629.4 793.0L1629.7 797.7L1629.9 785.5L1630.2 793.3L1630.4 780.7L1630.7 785.6L1630.9 776.3L1631.1 784.2L1631.4 777.5L1631.6 794.9L1631.9 784.3L1632.1 796.8L1632.4 788.7L1632.6 801.3L1632.8 795.7L1633.1 807.4L1633.3 805.4L1633.6 809.4L1633.8 805.4L1634.0 810.9L1634.3 805.6L1634.5 811.8L1634.8 805.7L1635.0 811.8L1635.3 805.4L1635.5 811.8L1635.7 806.2L1636.0 811.2L1636.2 806.9L1636.5 811.8L1636.7 808.0L1637.0 811.8L1637.2 805.1L1637.4 810.1L1637.7 801.1L1637.9 809.0L1638.2 798.4L1638.4 806.1L1638.6 795.7L1638.9 803.9L1639.1 795.7L1639.4 799.2L1639.6 795.7L1639.9 799.5L1640.1 795.7L1640.3 800.3L1640.6 797.0L1640.8 801.3L1641.1 797.6L1641.3 801.3L1641.6 796.0L1641.8 800.7L1642.0 792.8L1642.3 797.0L1642.5 787.2L1642.8 795.2L1643.0 787.2L1643.2 792.7L1643.5 787.2L1643.7 793.7L1644.0 787.2L1644.2 797.6L1644.5 790.3L1644.7 797.4L1644.9 792.0L1645.2 798.9L1645.4 796.0L1645.7 798.9L1645.9 793.4L1646.2 798.9L1646.4 789.2L1646.6 798.3L1646.9 787.7L1647.1 798.9L1647.4 787.6L1647.6 798.1L1647.9 784.2L1648.1 794.6L1648.3 783.6L1648.6 790.4L1648.8 783.6L1649.1 787.2L1649.3 783.6L1649.5 790.5L1649.8 783.6L1650.0 792.0L1650.3 784.4L1650.5 794.4L1650.8 788.0L1651.0 796.2L1651.2 787.2L1651.5 798.9L1651.7 790.5L1652.0 798.4L1652.2 791.9L1652.5 798.9L1652.7 796.0L1652.9 798.9L1653.2 788.3L1653.4 795.4L1653.7 782.4L1653.9 782.9L1654.1 782.4L1654.4 787.3L1654.6 782.4L1654.9 793.6L1655.1 784.5L1655.4 795.6L1655.6 790.3L1655.8 797.7L1656.1 792.4L1656.3 797.7L1656.6 789.2L1656.8 794.2L1657.1 778.7L1657.3 794.2L1657.5 774.4L1657.8 782.1L1658.0 774.4L1658.3 781.7L1658.5 774.4L1658.7 782.1L1659.0 775.3L1659.2 785.5L1659.5 777.2L1659.7 788.7L1660.0 778.2L1660.2 787.6L1660.4 779.5L1660.7 790.4L1660.9 783.6L1661.2 790.3L1661.4 788.4L1661.7 791.0L1661.9 788.4L1662.1 791.1L1662.4 788.4L1662.6 792.9L1662.9 788.4L1663.1 792.9L1663.4 788.4L1663.6 792.9L1663.8 788.5L1664.1 792.9L1664.3 789.6L1664.6 792.9L1664.8 789.1L1665.0 792.9L1665.3 782.7L1665.5 792.9L1665.8 782.0L1666.0 789.5L1666.3 776.2L1666.5 788.4L1666.7 775.6L1667.0 780.7L1667.2 775.6L1667.5 782.9L1667.7 775.8L1668.0 786.1L1668.2 778.4L1668.4 791.0L1668.7 778.1L1668.9 791.7L1669.2 785.7L1669.4 791.7L1669.6 787.9L1669.9 791.1L1670.1 780.3L1670.4 791.7L1670.6 779.1L1670.9 789.5L1671.1 777.4L1671.3 785.2L1671.6 773.8L1671.8 779.3L1672.1 773.2L1672.3 776.4L1672.6 773.2L1672.8 776.4L1673.0 773.2L1673.3 776.4L1673.5 773.2L1673.8 775.9L1674.0 773.2L1674.2 776.4L1674.5 773.2L1674.7 776.1L1675.0 773.2L1675.2 776.0L1675.5 773.2L1675.7 776.4L1675.9 773.2L1676.2 776.4L1676.4 773.2L1676.7 776.4L1676.9 773.2L1677.2 776.4L1677.4 773.3L1677.6 776.4L1677.9 774.2L1678.1 779.2L1678.4 774.4L1678.6 786.4L1678.8 776.8L1679.1 788.6L1679.3 776.9L1679.6 794.8L1679.8 783.9L1680.1 794.3L1680.3 786.6L1680.5 795.3L1680.8 789.7L1681.0 794.4L1681.3 788.6L1681.5 795.3L1681.8 783.7L1682.0 790.6L1682.2 784.5L1682.5 788.9L1682.7 783.6L1683.0 786.4L1683.2 783.6L1683.5 790.2L1683.7 783.6L1683.9 795.2L1684.2 785.4L1684.4 799.9L1684.7 793.1L1684.9 802.6L1685.1 795.4L1685.4 802.6L1685.6 799.2L1685.9 802.6L1686.1 797.2L1686.4 802.2L1686.6 795.3L1686.8 802.6L1687.1 793.4L1687.3 801.5L1687.6 795.0L1687.8 798.9L1688.1 794.5L1688.3 799.1L1688.5 793.3L1688.8 798.9L1689.0 793.3L1689.3 796.8L1689.5 793.3L1689.7 800.2L1690.0 793.3L1690.2 800.1L1690.5 793.3L1690.7 799.5L1691.0 793.3L1691.2 802.5L1691.4 796.7L1691.7 802.2L1691.9 797.9L1692.2 802.6L1692.4 798.3L1692.7 802.6L1692.9 796.9L1693.1 802.6L1693.4 792.1L1693.6 800.8L1693.9 790.0L1694.1 797.3L1694.3 786.8L1694.6 796.1L1694.8 786.0L1695.1 788.0L1695.3 784.4L1695.6 788.0L1695.8 782.1L1696.0 788.0L1696.3 781.6L1696.5 788.0L1696.8 778.8L1697.0 784.7L1697.3 776.8L1697.5 783.8L1697.7 776.8L1698.0 782.7L1698.2 776.8L1698.5 779.1L1698.7 776.8L1699.0 778.7L1699.2 776.8L1699.4 784.7L1699.7 776.8L1699.9 785.4L1700.2 779.8L1700.4 789.2L1700.6 780.6L1700.9 789.2L1701.1 781.4L1701.4 789.2L1701.6 782.4L1701.9 789.2L1702.1 781.4L1702.3 789.1L1702.6 778.2L1702.8 786.9L1703.1 778.0L1703.3 782.5L1703.6 778.0L1703.8 782.1L1704.0 778.2L1704.3 786.0L1704.5 779.9L1704.8 786.0L1705.0 778.6L1705.2 789.2L1705.5 781.6L1705.7 789.2L1706.0 786.5L1706.2 788.2L1706.5 775.4L1706.7 784.6L1706.9 763.4L1707.2 774.4L1707.4 762.3L1707.7 766.0L1707.9 762.3L1708.2 774.1L1708.4 762.3L1708.6 778.5L1708.9 763.6L1709.1 778.7L1709.4 769.7L1709.6 785.0L1709.8 773.6L1710.1 787.8L1710.3 779.6L1710.6 787.4L1710.8 783.3L1711.0 785.8L1711.2 772.2L1711.3 785.1L1711.5 764.7L1711.7 779.2L1711.8 754.4L1712.0 763.8L1712.2 748.1L1712.3 759.8L1712.5 747.8L1712.8 756.3L1713.0 748.3L1713.2 763.2L1713.5 749.0L1713.7 770.3L1714.0 758.2L1714.2 773.5L1714.5 769.8L1714.7 773.5L1714.9 758.8L1715.2 771.3L1715.4 750.4L1715.7 765.6L1715.9 745.3L1716.1 762.5L1716.4 743.4L1716.6 752.0L1716.9 740.5L1717.1 747.6L1717.4 740.5L1717.6 749.8L1717.8 740.5L1718.1 753.8L1718.3 742.1L1718.6 754.2L1718.8 745.4L1719.1 755.3L1719.3 749.0L1719.5 755.3L1719.8 753.3L1720.0 755.3L1720.3 747.9L1720.5 753.6L1720.7 746.5L1721.0 754.5L1721.2 746.5L1721.5 752.5L1721.7 746.5L1722.0 751.9L1722.2 746.5L1722.4 755.3L1722.7 746.5L1722.9 755.3L1723.2 749.6L1723.4 755.3L1723.7 748.9L1723.9 755.3L1724.1 752.5L1724.4 755.3L1724.6 744.1L1724.9 755.3L1725.1 737.6L1725.3 746.2L1725.6 729.1L1725.8 742.0L1726.1 726.0L1726.3 737.4L1726.6 726.0L1726.8 733.9L1727.0 726.0L1727.3 742.9L1727.5 729.0L1727.8 749.8L1728.0 737.4L1728.3 753.4L1728.5 744.1L1728.7 754.1L1729.0 752.2L1729.2 754.1L1729.4 739.6L1729.5 750.6L1729.7 728.4L1729.9 745.0L1730.1 717.2L1730.3 735.6L1730.5 717.4L1730.7 721.1L1730.9 716.3L1731.1 734.8L1731.3 720.6L1731.5 745.6L1731.8 730.0L1732.0 750.3L1732.2 741.0L1732.4 752.9L1732.6 750.8L1732.8 752.9L1732.9 737.2L1733.1 749.6L1733.2 729.4L1733.4 740.3L1733.5 722.6L1733.7 732.9L1733.8 712.2L1734.0 723.2L1734.2 710.3L1734.3 713.5L1734.6 710.4L1734.8 725.2L1735.0 716.2L1735.3 734.5L1735.5 717.9L1735.8 741.4L1736.0 729.2L1736.2 745.9L1736.5 736.7L1736.7 751.7L1737.0 748.9L1737.1 751.7L1737.2 737.1L1737.4 746.5L1737.5 730.6L1737.6 740.7L1737.8 717.0L1737.9 735.6L1738.0 713.7L1738.1 723.2L1738.3 706.8L1738.4 715.0L1738.5 699.3L1738.7 701.3L1738.8 692.9L1739.0 699.1L1739.2 681.4L1739.4 691.7L1739.5 672.9L1739.7 684.9L1739.9 668.8L1740.1 681.0L1740.3 662.7L1740.4 674.8L1740.6 658.5L1740.8 660.2L1741.1 656.4L1741.3 659.6L1741.6 652.1L1741.8 660.2L1742.1 652.1L1742.3 660.2L1742.5 652.1L1742.8 660.2L1743.0 652.1L1743.3 657.6L1743.5 652.1L1743.8 655.8L1744.0 652.1L1744.2 663.1L1744.4 652.1L1744.6 672.4L1744.7 661.2L1744.9 684.7L1745.1 663.6L1745.3 691.4L1745.5 671.9L1745.7 701.9L1745.9 683.4L1746.0 701.2L1746.2 696.1L1746.4 704.7L1746.6 690.4L1746.8 703.0L1747.1 678.8L1747.3 693.9L1747.5 675.9L1747.7 692.4L1747.9 670.3L1748.1 681.8L1748.4 670.3L1748.6 683.6L1748.8 670.3L1749.1 688.2L1749.3 675.0L1749.6 693.3L1749.8 683.5L1750.1 705.7L1750.3 690.2L1750.5 705.7L1750.8 701.6L1751.0 705.7L1751.3 695.1L1751.5 704.2L1751.7 685.5L1752.0 697.3L1752.2 676.9L1752.5 698.4L1752.7 675.1L1753.0 689.6L1753.2 675.1L1753.4 686.8L1753.7 677.7L1753.9 691.0L1754.2 679.1L1754.4 703.5L1754.7 680.6L1754.9 704.3L1755.1 691.3L1755.4 706.7L1755.6 703.5L1755.9 706.9L1756.1 691.6L1756.3 703.2L1756.6 688.7L1756.8 703.7L1757.1 675.1L1757.3 692.9L1757.6 675.1L1757.8 686.6L1758.0 675.1L1758.3 687.3L1758.5 675.1L1758.7 695.3L1758.9 679.7L1759.1 704.8L1759.4 693.3L1759.6 714.4L1759.8 697.5L1760.0 716.0L1760.2 708.6L1760.5 719.0L1760.7 710.6L1760.9 718.6L1761.2 701.5L1761.4 719.0L1761.7 698.1L1761.9 706.6L1762.2 687.2L1762.4 704.7L1762.6 687.2L1762.9 694.0L1763.1 687.2L1763.4 700.1L1763.6 691.5L1763.9 708.9L1764.1 693.5L1764.3 715.6L1764.6 703.3L1764.8 719.0L1765.1 706.6L1765.3 719.0L1765.5 708.6L1765.8 717.8L1766.0 701.0L1766.3 712.7L1766.5 693.6L1766.8 703.2L1767.0 684.6L1767.2 699.7L1767.5 681.2L1767.7 684.5L1768.0 681.2L1768.2 696.0L1768.5 681.2L1768.7 703.8L1768.9 685.1L1769.2 706.2L1769.4 693.8L1769.7 711.7L1769.9 699.7L1770.2 711.7L1770.4 704.3L1770.6 711.7L1770.9 704.4L1771.1 711.7L1771.4 698.1L1771.6 710.3L1771.8 696.1L1772.1 710.1L1772.3 694.5L1772.6 705.6L1772.8 696.5L1773.1 701.1L1773.3 694.5L1773.5 703.4L1773.8 694.5L1774.0 703.1L1774.3 695.4L1774.5 706.8L1774.8 694.9L1775.0 710.5L1775.2 699.3L1775.5 710.5L1775.7 702.1L1776.0 710.5L1776.2 706.8L1776.4 710.5L1776.7 700.1L1776.9 710.5L1777.2 696.1L1777.4 708.0L1777.7 690.2L1777.9 704.5L1778.1 689.6L1778.4 699.6L1778.6 687.2L1778.9 691.6L1779.1 687.2L1779.4 691.6L1779.6 687.3L1779.8 691.6L1780.1 687.2L1780.3 691.6L1780.6 687.2L1780.8 691.6L1781.0 687.2L1781.3 691.4L1781.5 687.2L1781.8 691.6L1782.0 687.2L1782.3 689.1L1782.5 687.2L1782.7 695.6L1783.0 687.2L1783.2 700.1L1783.5 687.2L1783.7 702.5L1784.0 694.2L1784.2 704.5L1784.4 697.0L1784.7 704.5L1784.9 694.4L1785.2 704.5L1785.4 683.5L1785.7 695.0L1785.9 680.9L1786.1 689.1L1786.4 668.6L1786.6 682.8L1786.9 663.0L1787.1 677.6L1787.3 663.4L1787.6 665.0L1787.8 658.2L1788.1 665.0L1788.3 658.8L1788.6 665.0L1788.8 657.6L1789.0 665.0L1789.3 657.6L1789.5 665.0L1789.8 656.9L1790.0 664.3L1790.3 656.9L1790.5 661.6L1790.7 656.9L1791.0 663.8L1791.2 656.9L1791.5 665.0L1791.7 656.9L1791.9 678.5L1792.2 663.4L1792.4 681.4L1792.7 671.9L1792.9 691.9L1793.2 679.9L1793.4 698.4L1793.6 690.8L1793.9 698.4L1794.1 687.3L1794.4 698.4L1794.6 682.4L1794.9 697.1L1795.1 672.4L1795.3 693.3L1795.6 668.6L1795.8 684.3L1796.1 668.6L1796.3 672.1L1796.5 668.6L1796.7 684.8L1797.0 668.8L1797.2 688.7L1797.4 676.6L1797.6 702.6L1797.8 686.7L1798.1 707.8L1798.3 696.0L1798.5 710.4L1798.7 705.2L1799.0 711.7L1799.2 694.1L1799.5 707.3L1799.7 687.2L1799.9 702.0L1800.2 687.2L1800.4 692.4L1800.7 687.2L1800.9 701.2L1801.2 688.1L1801.4 711.0L1801.6 696.5L1801.9 715.8L1802.1 696.7L1802.4 722.5L1802.6 702.6L1802.8 727.1L1803.1 716.2L1803.3 727.5L1803.6 722.4L1803.8 727.5L1804.1 718.8L1804.3 727.4L1804.5 712.4L1804.8 727.5L1805.0 707.5L1805.3 719.5L1805.5 707.8L1805.8 723.0L1806.0 703.9L1806.2 713.3L1806.5 701.9L1806.7 708.7L1807.0 701.7L1807.2 711.3L1807.4 701.7L1807.7 717.3L1807.9 702.4L1808.2 724.1L1808.4 706.7L1808.7 726.0L1808.9 713.2L1809.1 725.1L1809.4 715.8L1809.6 727.5L1809.9 722.4L1810.1 727.5L1810.3 719.1L1810.6 727.5L1810.8 708.7L1811.0 721.6L1811.2 702.9L1811.4 714.3L1811.7 690.1L1811.9 708.0L1812.1 684.8L1812.3 696.7L1812.5 683.4L1812.8 686.3L1813.0 678.5L1813.3 686.3L1813.5 675.1L1813.7 685.2L1814.0 675.1L1814.2 686.3L1814.5 675.3L1814.7 683.3L1815.0 675.1L1815.2 682.9L1815.4 675.1L1815.7 692.9L1815.9 675.1L1816.2 695.4L1816.4 678.9L1816.6 697.2L1816.9 683.5L1817.1 697.2L1817.4 694.7L1817.5 697.2L1817.7 678.1L1817.9 697.2L1818.1 675.2L1818.2 690.4L1818.4 667.6L1818.6 675.0L1818.7 658.9L1818.9 673.0L1819.1 657.1L1819.3 660.2L1819.6 656.5L1819.8 660.2L1820.0 656.5L1820.3 660.2L1820.5 654.5L1820.8 660.2L1821.0 655.4L1821.3 660.2L1821.5 656.6L1821.7 660.2L1822.0 656.0L1822.2 660.2L1822.5 654.5L1822.7 660.2L1822.9 654.5L1823.2 660.2L1823.4 654.5L1823.7 659.6L1823.9 654.5L1824.2 659.5L1824.4 654.5L1824.6 660.1L1824.9 655.0L1825.1 669.6L1825.4 658.4L1825.6 673.5L1825.9 662.4L1826.1 675.3L1826.3 665.1L1826.6 681.5L1826.8 670.5L1827.1 681.5L1827.3 674.2L1827.5 681.5L1827.8 670.8L1828.0 681.5L1828.3 667.4L1828.5 676.2L1828.8 665.4L1829.0 677.7L1829.2 665.4L1829.5 670.4L1829.7 665.4L1830.0 682.4L1830.2 665.4L1830.5 690.6L1830.7 676.8L1830.9 694.8L1831.2 676.0L1831.4 696.0L1831.7 685.5L1831.9 696.0L1832.1 683.2L1832.4 696.0L1832.6 678.6L1832.9 690.3L1833.1 672.6L1833.4 683.6L1833.6 666.6L1833.8 682.8L1834.1 667.3L1834.3 671.0L1834.6 666.6L1834.8 678.2L1835.1 669.7L1835.3 686.9L1835.5 669.7L1835.8 693.9L1836.0 680.3L1836.3 696.0L1836.5 684.2L1836.8 696.0L1837.0 681.8L1837.2 696.0L1837.4 673.4L1837.6 685.9L1837.9 667.1L1838.1 676.9L1838.3 655.0L1838.5 673.8L1838.7 656.3L1839.0 665.7L1839.2 653.3L1839.4 664.2L1839.7 653.3L1839.9 669.8L1840.1 653.3L1840.4 669.4L1840.6 654.9L1840.9 671.8L1841.1 665.1L1841.4 676.6L1841.6 672.7L1841.8 676.6L1842.1 658.5L1842.3 676.6L1842.6 659.0L1842.8 673.4L1843.0 648.1L1843.3 667.7L1843.5 646.0L1843.8 659.7L1844.0 646.0L1844.3 656.4L1844.5 646.0L1844.7 660.4L1845.0 646.0L1845.2 660.9L1845.5 647.9L1845.7 664.1L1846.0 653.1L1846.2 666.3L1846.4 655.4L1846.7 668.1L1846.9 661.6L1847.2 668.1L1847.2 660.1L1847.3 664.8L1847.3 647.0L1847.4 665.6L1847.4 643.1L1847.5 654.4L1847.5 630.4L1847.6 649.8L1847.6 622.3L1847.7 637.4L1847.8 616.8L1847.8 632.5L1847.9 608.1L1847.9 624.7L1848.0 605.1L1848.0 616.3L1848.1 597.6L1848.1 602.6L1848.4 597.6L1848.6 610.8L1848.9 597.6L1849.1 619.2L1849.3 597.6L1849.6 625.6L1849.8 610.6L1850.1 624.8L1850.3 610.6L1850.6 629.5L1850.8 616.6L1851.0 633.0L1851.3 627.7L1851.4 633.0L1851.6 614.8L1851.7 625.4L1851.9 607.3L1852.1 627.2L1852.2 600.0L1852.4 612.4L1852.5 590.3L1852.7 603.9L1852.8 590.3L1853.0 591.5L1853.2 590.3L1853.5 599.3L1853.7 590.3L1853.9 613.4L1854.2 595.1L1854.4 614.2L1854.7 601.9L1854.9 616.1L1855.2 604.9L1855.4 615.4L1855.6 591.9L1855.9 613.2L1856.1 589.1L1856.4 604.8L1856.6 583.1L1856.9 585.1L1857.1 578.8L1857.3 585.1L1857.6 577.7L1857.8 585.1L1858.1 575.8L1858.3 585.1L1858.5 575.8L1858.8 585.1L1859.0 575.8L1859.3 585.1L1859.5 575.8L1859.8 585.1L1860.0 574.8L1860.2 577.8L1860.5 573.7L1860.7 577.8L1861.0 570.8L1861.2 572.8L1861.5 558.2L1861.7 572.8L1862.0 556.1L1862.2 567.5L1862.5 552.1L1862.7 559.8L1863.0 550.2L1863.2 560.6L1863.4 550.2L1863.6 560.8L1863.9 552.6L1864.1 560.8L1864.3 553.5L1864.5 560.8L1864.7 539.7L1864.9 555.6L1865.1 539.8L1865.3 546.8L1865.5 536.5L1865.8 545.0L1866.0 536.5L1866.3 547.0L1866.5 536.5L1866.8 546.8L1867.0 538.9L1867.3 547.0L1867.5 536.5L1867.8 547.0L1868.0 539.4L1868.2 547.0L1868.4 531.1L1868.6 547.0L1868.9 531.1L1869.1 542.2L1869.3 531.1L1869.5 539.9L1869.7 531.1L1869.9 558.7L1870.2 533.4L1870.4 560.7L1870.6 547.3L1870.8 563.7L1871.0 557.1L1871.2 568.5L1871.4 555.2L1871.7 564.7L1871.9 546.3L1872.1 558.9L1872.3 545.0L1872.6 550.6L1872.8 545.0L1873.0 559.9L1873.3 545.7L1873.5 569.4L1873.7 559.1L1874.0 569.4L1874.2 556.6L1874.4 569.4L1874.6 553.6L1874.9 566.3L1875.1 553.6L1875.3 559.2L1875.6 553.6L1875.8 561.9L1876.0 553.6L1876.2 565.9L1876.5 556.1L1876.7 565.9L1876.8 555.0L1876.9 565.9L1877.0 541.8L1877.2 562.9L1877.3 535.7L1877.4 550.1L1877.5 526.2L1877.6 548.8L1877.7 521.2L1877.8 532.4L1878.0 519.3L1878.1 521.3L1878.3 506.6L1878.5 520.5L1878.7 502.1L1878.9 511.8L1879.1 502.1L1879.2 515.6L1879.3 502.1L1879.5 517.9L1879.6 510.7L1879.7 526.4L1879.8 518.4L1879.9 526.4L1880.0 507.7L1880.1 521.2L1880.2 503.1L1880.3 520.9L1880.4 487.9L1880.4 504.4L1880.5 481.5L1880.6 503.6L1880.7 481.5L1880.8 483.5L1881.0 474.7L1881.2 482.4L1881.3 467.7L1881.5 472.2L1881.6 467.7L1881.7 486.6L1881.8 474.8L1881.9 488.6L1882.0 484.8L1882.1 488.6L1882.1 468.8L1882.1 488.6L1882.2 459.9L1882.2 479.3L1882.3 450.0L1882.3 470.3L1882.4 443.4L1882.4 460.2L1882.4 432.5L1882.5 455.0L1882.5 425.8L1882.6 450.5L1882.6 420.5L1882.6 438.8L1882.7 420.5L1882.7 426.7L1882.8 420.5L1883.0 442.1L1883.1 420.5L1883.2 444.8L1883.4 427.9L1883.5 452.5L1883.6 433.9L1883.7 458.1L1884.0 450.5L1884.2 465.6L1884.4 455.0L1884.6 465.6L1884.8 445.2L1884.9 464.0L1885.1 434.0L1885.2 462.3L1885.4 433.4L1885.5 450.6L1885.7 433.4L1885.8 435.4L1886.0 424.8L1886.3 435.4L1886.5 424.8L1886.8 434.8L1887.0 424.8L1887.2 436.8L1887.4 424.8L1887.6 443.7L1887.8 424.8L1888.0 451.0L1888.2 433.0L1888.4 451.0L1888.6 437.7L1888.9 451.0L1889.1 428.2L1889.4 450.4L1889.6 428.2L1889.9 441.2L1890.1 428.2L1890.2 443.1L1890.4 433.1L1890.5 446.7L1890.7 437.6L1890.8 446.7L1891.0 431.4L1891.1 446.7L1891.3 429.9L1891.5 440.3L1891.7 429.9L1891.9 440.7L1892.1 429.9L1892.3 440.7L1892.5 435.7L1892.7 440.7L1892.8 420.2L1893.0 440.6L1893.1 416.8L1893.2 428.9L1893.4 413.6L1893.5 415.6L1893.6 397.0L1893.7 414.4L1893.8 390.6L1893.9 408.6L1894.0 388.1L1894.1 408.2L1894.2 379.2L1894.3 397.9L1894.4 375.7L1894.5 381.2L1894.7 367.7L1894.8 380.4L1894.9 362.1L1895.1 364.1L1895.2 352.3L1895.3 364.1L1895.4 341.8L1895.5 363.0L1895.6 334.6L1895.7 355.1L1895.8 334.6L1895.9 343.4L1896.1 335.0L1896.2 343.4L1896.2 320.8L1896.3 340.9L1896.3 315.5L1896.4 332.5L1896.4 310.3L1896.5 325.9L1896.5 301.9L1896.6 316.9L1896.6 297.9L1896.7 303.9L1896.7 282.3L1896.8 303.9L1896.8 282.6L1896.8 303.1L1896.9 273.4L1896.9 289.0L1897.0 274.4"/>
</g>
<g id="legend" font-size="41.3">
<line x1="508" y1="1215" x2="596" y2="1215" stroke="#0056ff" stroke-width="10" stroke-linecap="round"/>
<text x="605" y="1227.6">Inflation-adjusted gold prices</text>
<line x1="1205" y1="1215" x2="1292.5" y2="1215" stroke="#002557" stroke-width="10" stroke-linecap="round"/>
<text x="1301.5" y="1227.6">Gold price</text>
</g>
</svg>
</body></html>
